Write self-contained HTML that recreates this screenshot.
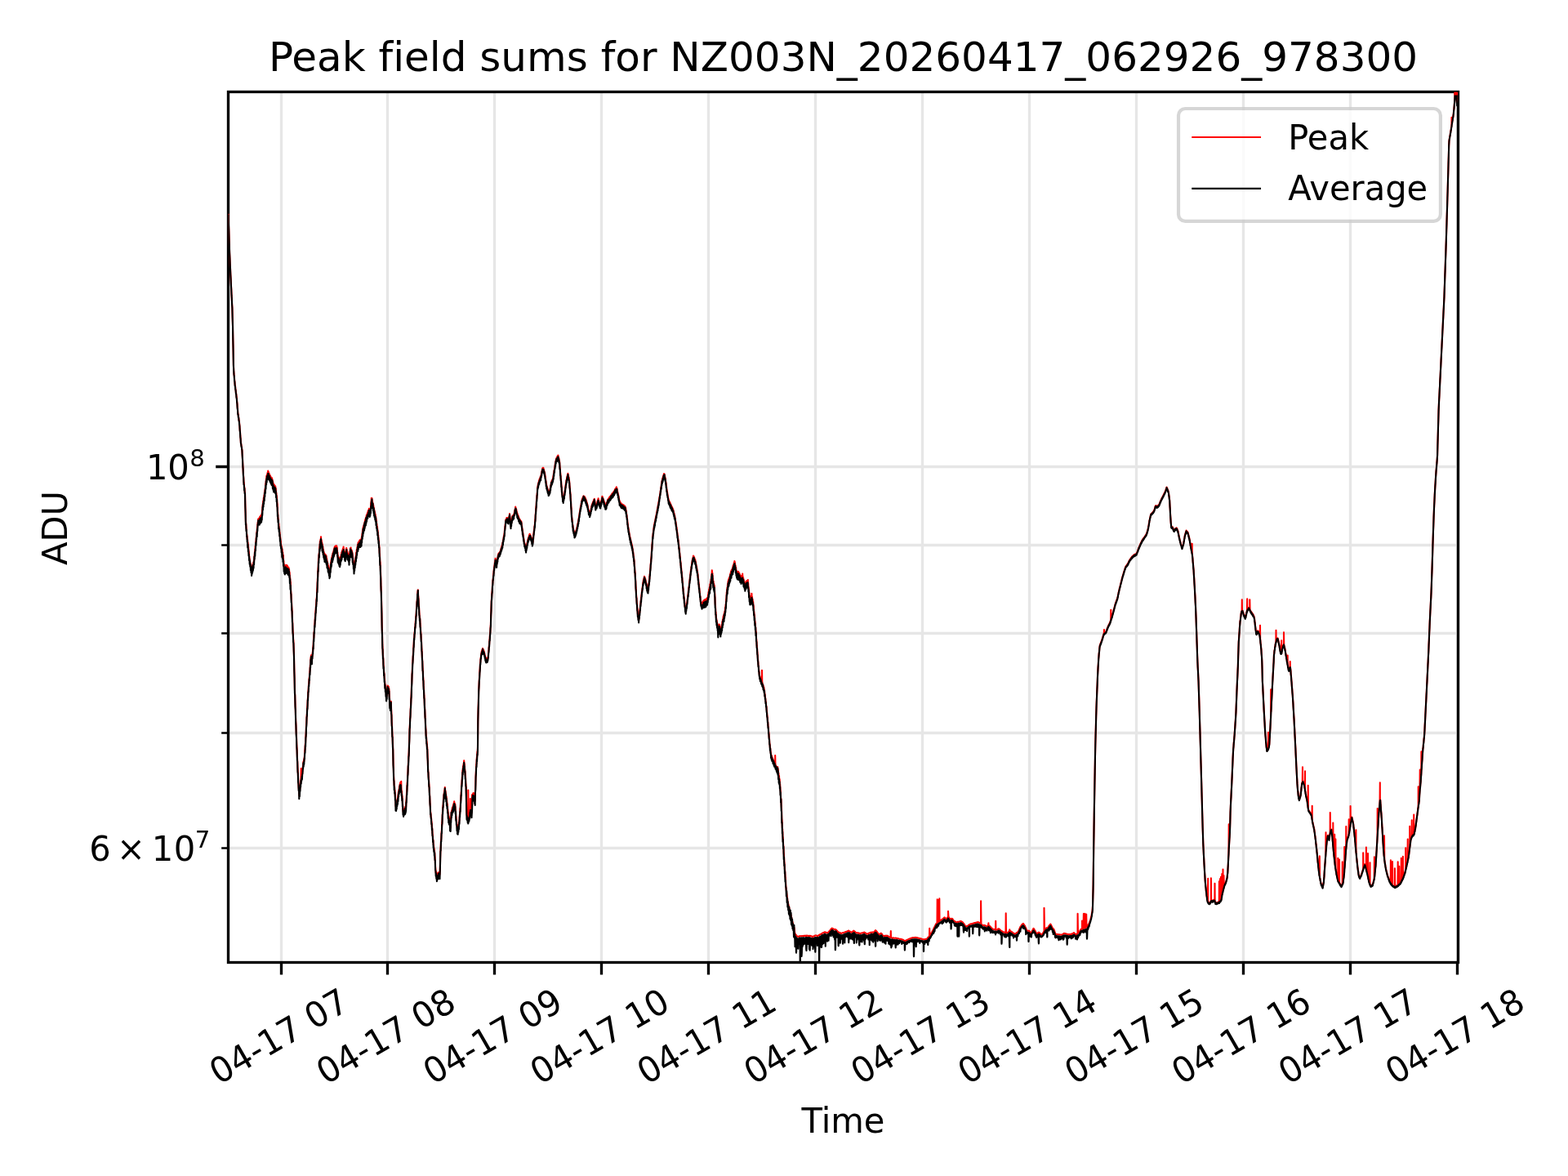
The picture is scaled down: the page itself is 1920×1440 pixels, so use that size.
<!DOCTYPE html>
<html lang="en"><head><meta charset="utf-8"><title>Peak field sums for NZ003N_20260417_062926_978300</title>
<style>html,body{margin:0;padding:0;background:#fff;overflow:hidden}svg{display:block}text{font-family:'DejaVu Sans', 'Liberation Sans', sans-serif;fill:#000;white-space:pre;font-variant-ligatures:none;font-feature-settings:"liga" 0,"clig" 0}</style>
</head><body>
<svg width="1920" height="1440" viewBox="0 0 1920 1440">
<rect width="1920" height="1440" fill="#ffffff"/>
<defs><clipPath id="ax"><rect x="279.5" y="112.5" width="1506" height="1066"/></clipPath></defs>
<path d="M344.5 112.5V1178.5M474.5 112.5V1178.5M605.5 112.5V1178.5M736.5 112.5V1178.5M867.5 112.5V1178.5M998.5 112.5V1178.5M1129.5 112.5V1178.5M1260.5 112.5V1178.5M1391.5 112.5V1178.5M1522.5 112.5V1178.5M1653.5 112.5V1178.5M1784.5 112.5V1178.5M279.5 571.5H1785.5M279.5 667.5H1785.5M279.5 775.5H1785.5M279.5 897.5H1785.5M279.5 1038.5H1785.5" fill="none" stroke="#e6e6e6" stroke-width="3.33" clip-path="url(#ax)"/>
<path d="M344.5 1178.5v15M474.5 1178.5v15M605.5 1178.5v15M736.5 1178.5v15M867.5 1178.5v15M998.5 1178.5v15M1129.5 1178.5v15M1260.5 1178.5v15M1391.5 1178.5v15M1522.5 1178.5v15M1653.5 1178.5v15M1784.5 1178.5v15M279.5 571.5h-15.3" fill="none" stroke="#000" stroke-width="3.33"/>
<path d="M279.5 667.5h-8.33M279.5 775.5h-8.33M279.5 897.5h-8.33M279.5 1038.5h-8.33" fill="none" stroke="#000" stroke-width="2.5"/>
<rect x="279.5" y="112.5" width="1506" height="1066" fill="none" stroke="#000" stroke-width="3.33" stroke-linejoin="miter"/>
<g clip-path="url(#ax)" fill="none" stroke-linejoin="round" stroke-linecap="square" stroke-width="2.08">
<path d="M279.6 262.76L279.9 272.61L280.2 280.8L280.5 290.47L280.8 298.54L281.1 308.33L281.4 315.64L281.7 322.7L282 328.09L282.3 335.33L282.6 340.83L282.9 347.96L283.2 353.3L283.5 360.03L283.8 365.02L284.1 371.53L284.4 376.55L284.7 388.28L285 398.31L285.3 414.28L285.6 428.74L285.9 446.28L286.2 453.16L286.5 457.61L286.8 460.07L287.1 464.61L287.4 467.29L287.7 470.88L288 472.45L288.3 475.68L288.6 477.19L288.9 480.48L289.2 481.97L289.5 485.28L289.8 486.82L290.1 490.58L290.4 493.71L290.7 498.38L291 501.44L291.3 505.86L291.6 506.98L291.9 509.86L292.2 510.95L292.5 513.86L292.8 515.03L293.1 517.86L293.4 520.83L293.7 525.7L294 528.95L294.3 533.7L294.6 536.77L294.9 541.7L295.2 543.29L295.5 545.53L295.8 546.11L296.1 548.53L296.4 550.93L296.7 556.61L297 561.85L297.3 568.61L297.6 573.77L297.9 580.61L298.2 583.92L298.5 589.99L298.8 591.22L299.1 595.99L299.4 597.06L299.7 601.99L300 603.25L300.3 616.99L300.6 626.82L300.9 639.12L301.2 640.27L301.5 646.32L301.8 648.18L302.1 653.52L302.4 654.73L302.7 660.12L303 659.87L303.3 665.04L303.6 664.51L303.9 670.44L304.2 670.12L304.5 675.84L304.8 675.34L305.1 681.24L305.4 681.56L305.7 686.64L306 685.7L306.3 690.35L306.6 689.45L306.9 693.58L307.2 692.72L307.5 696.81L307.8 695.42L308.1 699.15L308.4 694.9L308.7 697.04L309 693.5L309.3 694.92L309.6 691.08L309.9 692.8L310.2 689.08L310.5 690.68L310.8 686.9L311.1 686.84L311.4 681.16L311.7 680.84L312 675.28L312.3 674.84L312.6 668.86L312.9 668.84L313.2 663.64L313.5 662.84L313.8 657.36L314.1 656.84L314.4 651.28L314.7 650.84L315 645.26L315.3 644.84L315.6 639.52L315.9 639.42L316.2 635.43L316.5 638.38L316.8 634.78L317.1 637.58L317.4 634.55L317.7 636.78L318 633.08L318.3 635.98L318.6 632.31L318.9 635.06L319.2 631.64L319.5 634.14L319.8 630.88L320.1 633.22L320.4 629.88L320.7 630.6L321 624.27L321.3 624.6L321.6 618.09L321.9 619.38L322.2 613.78L322.5 615.38L322.8 609.83L323.1 611.38L323.4 606.5L323.7 607.38L324 602.37L324.3 603.14L324.6 598.15L324.9 598.06L325.2 592.37L325.5 592.98L325.8 587.53L326.1 587.91L326.4 582.64L326.7 584.71L327 581.08L327.3 582.71L327.6 578.81L327.9 580.71L328.2 576.51L328.5 579.71L328.8 577.87L329.1 581.31L329.4 579.45L329.7 582.91L330 580.69L330.3 584.51L330.6 582.07L330.9 586.02L331.2 582.98L331.5 586.82L331.8 584.24L332.1 587.62L332.4 585.44L332.7 588.42L333 585.3L333.3 589.22L333.6 587.33L333.9 591.53L334.2 589.97L334.5 593.93L334.8 592.06L335.1 596.07L335.4 593.99L335.7 596.87L336 593.73L336.3 597.67L336.6 595.15L336.9 598.47L337.2 595.4L337.5 599.27L337.8 598.18L338.1 604.07L338.4 603.49L338.7 608.87L339 607.97L339.3 615.08L339.6 617.41L339.9 626.22L340.2 628.21L340.5 635.81L340.8 635.09L341.1 641.46L341.4 641.19L341.7 647L342 647.18L342.3 652.54L342.6 652.15L342.9 657.72L343.2 657.86L343.5 662.72L343.8 662.28L344.1 667.72L344.4 667.28L344.7 672.13L345 669.64L345.3 674.64L345.6 672.23L345.9 677.87L346.2 676.35L346.5 681.1L346.8 679.8L347.1 686.88L347.4 686.87L347.7 693.63L348 692.81L348.3 696.75L348.6 692.55L348.9 696.25L349.2 692.91L349.5 695.75L349.8 692.11L350.1 695.4L350.4 691.73L350.7 695.8L351 692.98L351.3 696.2L351.6 692.27L351.9 696.6L352.2 693.3L352.5 697L352.8 694.47L353.1 698.2L353.4 694.8L353.7 699.4L354 696.45L354.3 701.67L354.6 700.87L354.9 707.67L355.2 707.26L355.5 713.67L355.8 712.7L356.1 722.73L356.4 725.41L356.7 732.93L357 736.21L357.3 743.13L357.6 746.76L357.9 756.25L358.2 761.53L358.5 770.82L358.8 774.92L359.1 782.09L359.4 784.61L359.7 792.96L360 803.62L360.3 818.68L360.6 828.95L360.9 843.53L361.2 850.62L361.5 861.53L361.8 868.7L362.1 879.53L362.4 886.02L362.7 896.53L363 901.66L363.3 911.53L363.6 916.57L363.9 926.53L364.2 931.89L364.5 940.34L364.8 944.41L365.1 953.2L365.4 957.26L365.7 964.31L366 967.45L366.3 974.31L366.6 970.7L366.9 970.01L367.2 965.15L367.5 964.87L367.8 960.24L368.1 959.72L368.15 958.97L368.4 955.21L368.7 941L368.7 954.74L369 951.66L369.25 952.35L369.3 952.49L369.6 949.29L369.9 950.24L370.2 945.55L370.5 944.24L370.8 938.47L371.1 937.49L371.4 932.85L371.7 933.82L372 930.53L372.3 932.1L372.6 928.25L372.9 925.93L373.2 919.09L373.5 917.53L373.8 911.39L374.1 909.13L374.4 901.62L374.7 897.53L375 889L375.3 885.53L375.6 876.93L375.9 873.73L376.2 866.18L376.5 863.53L376.8 856.21L377.1 853.33L377.4 846.04L377.7 844.03L378 838.01L378.3 836.53L378.6 830.18L378.9 829.03L379.2 823.02L379.5 821.53L379.8 814.87L380.1 813.28L380.4 806.82L380.7 805.03L381 802.29L381.3 807.87L381.6 808.94L381.9 809.2L382.2 803.55L382.5 803.2L382.8 798.18L383.1 797.2L383.4 791.7L383.7 789.37L384 782.44L384.3 780.37L384.6 774.04L384.9 771.53L385.2 764.8L385.5 762.96L385.8 756.43L386.1 754.71L386.4 748.95L386.7 746.87L387 741.11L387.3 739.02L387.6 732.72L387.9 731.17L388.2 722.2L388.5 718.77L388.8 709.3L389.1 706.27L389.4 697.4L389.7 693.77L390 683.89L390.3 683.92L390.6 677.59L390.9 676.72L391.2 670.14L391.5 669.52L391.8 663.33L392.1 665.35L392.4 660.76L392.7 662.35L393 657.17L393.3 662.35L393.6 661.14L393.9 665.35L394.2 664.12L394.5 668.35L394.8 666.29L395.1 671.35L395.4 669.55L395.7 674.35L396 673.3L396.3 677.35L396.6 676.1L396.9 680.35L397.2 677.41L397.5 681.24L397.8 678.58L398.1 681.7L398.4 679.12L398.7 682.16L399 679.56L399.3 683.14L399.6 680.83L399.9 685.94L400.2 684.15L400.5 688.74L400.8 687.61L401.1 691.54L401.4 689.94L401.7 694.35L402 692.68L402.3 697.35L402.6 695.96L402.9 700.35L403.2 698.41L403.5 703.35L403.8 700.07L404.1 700.29L404.4 694.49L404.7 694.89L405 689.43L405.3 689.49L405.6 685.6L405.9 687.01L406.2 682.55L406.5 684.7L406.8 680.1L407.1 682.39L407.4 677.57L407.7 680.08L408 676L408.3 677.78L408.6 673.76L408.9 675.47L409.2 671.28L409.5 673.16L409.8 669.64L410.1 672.27L410.4 668.87L410.7 671.91L411 668.41L411.3 671.56L411.6 668.76L411.9 671.21L412.2 668.3L412.5 670.85L412.8 670.37L413.1 676.85L413.4 676.57L413.7 682.61L414 680.72L414.3 684.21L414.6 682.16L414.9 685.81L415.2 683.69L415.5 687.41L415.8 685.53L416.1 689.01L416.4 685.53L416.7 686.73L417 681.87L417.3 683.96L417.6 679.34L417.9 681.19L418.2 676.61L418.5 678.74L418.8 674.83L419.1 677.14L419.4 673.18L419.7 675.54L420 671.6L420.3 673.94L420.6 669.51L420.9 672.99L421.2 672.11L421.5 677.19L421.8 675.92L422.1 681.39L422.4 680.72L422.7 682.99L423 677.99L423.3 679.39L423.6 674.91L423.9 675.79L424.2 671.04L424.5 675.35L424.8 672.93L425.1 677.45L425.4 675.43L425.7 679.55L426 677.52L426.3 681.65L426.6 679.64L426.9 683.75L427.2 681.85L427.5 685.85L427.8 679.76L428.1 681.05L428.4 675.11L428.7 676.25L429 671.06L429.3 672.93L429.6 670.57L429.9 674.78L430.2 673.04L430.5 676.62L430.8 674.07L431.1 678.47L431.4 676.19L431.7 682.07L432 680.77L432.3 686.78L432.6 686.36L432.9 691.5L433.2 690.25L433.5 696.21L433.8 693.8L434.1 694.52L434.4 689.62L434.7 690.37L435 685.73L435.3 686.21L435.6 681.36L435.9 682.11L436.2 676.67L436.5 678.42L436.8 672.95L437.1 674.73L437.4 670.17L437.7 671.03L438 666.68L438.3 668.54L438.6 664.38L438.9 667.26L439.2 663.78L439.5 665.97L439.8 662.47L440.1 664.89L440.4 661.46L440.7 664.1L441 660.93L441.3 663.64L441.6 660.51L441.9 663.18L442.2 660.4L442.5 662.72L442.8 658.12L443.1 658.52L443.4 653.82L443.7 654.32L444 649.49L444.3 650.52L444.6 645.91L444.9 648.12L445.2 643.97L445.5 645.72L445.8 641.94L446.1 643.32L446.4 639.52L446.7 640.94L447 636.75L447.3 638.94L447.6 635.11L447.9 636.94L448.2 633.3L448.5 634.94L448.8 630.84L449.1 632.94L449.4 629.51L449.7 631.3L450 627.73L450.3 629.7L450.6 625.83L450.9 628.1L451.2 624.69L451.5 626.5L451.8 622.82L452.1 626.49L452.4 623.55L452.7 627.09L453 624.05L453.3 627.69L453.6 622.47L453.9 622.05L454.2 615.76L454.5 616.05L454.8 609.76L455.1 611.52L455.4 610.11L455.7 614.32L456 613.22L456.3 617.12L456.6 615.95L456.9 619.92L457.2 618.62L457.5 622.72L457.8 621.28L458.1 625.52L458.4 624.6L458.7 628.32L459 627.16L459.3 631.12L459.6 629.46L459.9 633.92L460.2 632.81L460.5 637.72L460.8 636.87L461.1 641.72L461.4 641.27L461.7 645.72L462 645.22L462.3 649.72L462.6 649.59L462.9 655.05L463.2 655.43L463.5 661.05L463.8 661.2L464.1 667.05L464.4 669.2L464.7 676.79L465 678.93L465.3 686.99L465.6 688.67L465.9 698.14L466.2 704.32L466.5 716.89L466.8 723.29L467.1 735.64L467.4 749.39L467.7 765.72L468 775.1L468.3 789.92L468.6 793.82L468.9 801.88L469.2 805.16L469.5 813.13L469.8 815.83L470.1 822.05L470.4 823.77L470.7 829.85L471 831.28L471.3 837.65L471.6 837.51L471.9 842.8L472.2 843.34L472.5 847.8L472.8 847.76L473.1 852.8L473.4 851.35L473.7 851.08L474 846.16L474.3 845.08L474.6 839.46L474.9 841.88L475.2 840.06L475.5 843.08L475.8 840.88L476.1 844.28L476.4 843.45L476.7 851.56L477 854.74L477.3 862.7L477.6 863.44L477.9 864.91L478.2 861.77L478.5 862.66L478.8 858.91L479.1 868.27L479.4 873.34L479.7 883.7L480 889L480.3 897.84L480.6 902.14L480.9 910.7L481.2 915.18L481.5 931.41L481.8 939.94L482.1 949.75L482.4 954.91L482.7 961.75L483 962.08L483.3 967.43L483.6 968.02L483.9 974.93L484.2 977.9L484.5 986.93L484.8 985.75L485.1 987.9L485.4 984.49L485.7 987.1L486 983.19L486.3 983.5L486.6 978.94L486.9 979.1L487.2 974.59L487.5 975.26L487.8 970.15L488.1 971.66L488.4 967.13L488.7 968.06L489 963.37L489.3 965.01L489.6 960.22L489.9 962.01L490.2 958.12L490.5 960.09L490.7 959.45L490.8 959.13L491.1 964.89L491.25 956.7L491.4 964.04L491.7 969.69L491.8 969.48L492 969.07L492.3 974.49L492.6 974.88L492.9 982.76L493.2 985.14L493.5 992.76L493.8 993.94L494.1 996.05L494.4 992.23L494.7 994.55L495 991.03L495.3 993.05L495.6 989.97L495.9 991.55L496.2 988.1L496.5 990.05L496.8 987.06L497.1 988.32L497.4 980.87L497.7 978.32L498 970.45L498.3 968.32L498.6 959.24L498.9 956.43L499.2 948.6L499.5 944.83L499.8 936.63L500.1 933.15L500.4 925.35L500.7 921.15L501 911.45L501.3 903.55L501.6 892.33L501.9 887.15L502.2 879.32L502.5 875.15L502.8 867.1L503.1 863.15L503.4 854.66L503.7 849.31L504 840.05L504.3 834.31L504.6 824.76L504.9 819.31L505.2 811.39L505.5 808.48L505.8 801.61L506.1 798.48L506.4 791.3L506.7 788.48L507 781.85L507.3 780.02L507.6 774.74L507.9 773.1L508.2 768.02L508.5 766.17L508.8 760.59L509.1 759.25L509.4 753.55L509.7 751.01L510 744.83L510.3 742.31L510.6 735.73L510.9 733.31L511.2 726.73L511.5 724.31L511.8 722.22L512.1 729.04L512.4 731.8L512.7 739.04L513 742.47L513.3 749.04L513.6 752.29L513.9 756.7L514.2 756.92L514.5 763.48L514.8 766.13L515.1 772.48L515.4 775.16L515.7 781.48L516 785.18L516.3 792.81L516.6 797.08L516.9 804.81L517.2 808.76L517.5 816.81L517.8 820.68L518.1 828.35L518.4 831.93L518.7 839.89L519 843.98L519.3 851.43L519.6 855.36L519.9 863.34L520.2 867.48L520.5 875.84L520.8 880.45L521.1 888.34L521.4 892.75L521.7 900.51L522 901.93L522.3 907.11L522.6 908.43L522.9 913.71L523.2 914.76L523.5 923.48L523.8 930.8L524.1 941.48L524.4 944.93L524.7 951.48L525 953.76L525.3 960.48L525.6 962.8L525.9 969.81L526.2 974.26L526.5 981.81L526.8 986.1L527.1 993.65L527.4 995.11L527.7 999.65L528 1000.8L528.3 1005.65L528.6 1006.52L528.9 1012.15L529.2 1013.91L529.5 1020.15L529.8 1021.96L530.1 1027.51L530.4 1028.11L530.7 1034.11L531 1034.4L531.3 1039.08L531.6 1039.04L531.9 1043.58L532.2 1043.24L532.5 1048.08L532.8 1052.38L533.1 1061.28L533.4 1064.36L533.7 1068.45L534 1067.32L534.3 1071.78L534.6 1071.35L534.9 1074.59L535.2 1071.31L535.5 1073.18L535.8 1070.22L536.1 1071.77L536.4 1068.55L536.7 1071.26L537 1068.34L537.3 1071.06L537.6 1068.57L537.9 1070.86L538.2 1068.76L538.5 1070.66L538.8 1065.4L539.1 1051.68L539.4 1040.98L539.7 1037.41L540 1029.25L540.3 1026.61L540.6 1019.21L540.9 1016.75L541.2 1008.33L541.5 1004.75L541.8 996.23L542.1 992.86L542.4 986.76L542.7 984.86L543 978.42L543.3 976.86L543.6 971.91L543.9 972.41L544.2 967.95L544.5 968.18L544.8 964.11L545.1 968.43L545.4 967.9L545.7 972.43L546 971.52L546.3 976.47L546.6 975.58L546.9 980.97L547.2 980L547.5 985.47L547.8 984.92L548.1 990.43L548.4 990.93L548.7 996.43L549 996.19L549.3 1001.54L549.6 999.3L549.9 1003.54L550.2 1001.43L550.5 1006.22L550.8 1007.25L551.1 1013.14L551.4 1013.65L551.7 1013.59L552 1004.15L552.3 1001.09L552.6 994.28L552.9 995.53L553.2 992.02L553.5 993.43L553.8 989.1L554.1 991.33L554.4 987.92L554.7 989.39L555 985.64L555.3 987.47L555.6 983.69L555.9 985.55L556.2 981.34L556.5 985.26L556.8 983.43L557.1 987.26L557.4 985.04L557.7 991.26L558 992.73L558.3 999.26L558.6 1001.01L558.9 1006.54L559.2 1006.59L559.5 1011.64L559.8 1010.97L560.1 1016.74L560.4 1016.72L560.7 1017.73L561 1012.64L561.3 1014.13L561.6 1009.46L561.9 1010.53L562.2 1004.8L562.5 1004.22L562.8 997.71L563.1 996.72L563.4 989.81L563.7 989.22L564 981.93L564.3 978.97L564.6 970.84L564.9 968.47L565.2 960.53L565.5 958.32L565.8 951.89L566.1 950.32L566.4 943.32L566.7 942.58L567 938.25L567.3 939.28L567.6 935.17L567.9 935.98L568.2 931.2L568.5 935.37L568.8 935.6L569.1 941.77L569.4 942.69L569.7 948.87L570 950.91L570.3 958.87L570.6 961.22L570.9 972.43L571.2 990.6L571.5 998.05L571.8 996.16L572.1 1000.75L572.4 999.08L572.7 1003.45L572.75 1003.12L573 1001.47L573.3 1003.66L573.3 967.5L573.6 1000.1L573.85 1002.07L573.9 1002.46L574.2 998.69L574.5 1001.26L574.8 997.05L575.1 997.65L575.25 995.44L575.4 993.24L575.7 993.65L575.8 978L576 990.05L576.3 993.51L576.35 993.12L576.6 991.16L576.9 994.47L577.2 992.12L577.35 993.77L577.5 995.43L577.8 992.79L577.9 973.3L578.1 987.29L578.4 973.66L578.45 973.94L578.7 975.36L579 972.05L579.3 974.16L579.6 970.97L579.9 972.96L580.2 971.31L580.5 975.51L580.8 974.04L581.1 978.81L581.4 978.02L581.7 980.79L582 967.97L582.3 961.26L582.6 948.98L582.9 943.26L583.2 935.81L583.5 934.98L583.8 927.87L584.1 926.98L584.4 920.55L584.7 920.76L585 914.55L585.3 880.68L585.6 867.33L585.9 858.18L586.2 844.85L586.5 839.1L586.8 832.32L587.1 828.9L587.4 821.8L587.7 818.7L588 811.91L588.3 810.6L588.6 805.92L588.9 804.6L589.2 800.19L589.5 800.6L589.8 797.33L590.1 798.2L590.4 795.5L590.7 795.8L591 793.94L591.3 796.2L591.6 794.92L591.9 797.4L592.2 796.11L592.5 798.6L592.8 798.01L593.1 801L593.4 800.28L593.7 803.4L594 802.77L594.3 805.8L594.6 804.96L594.9 808.2L595.2 806.58L595.5 808.27L595.8 806.38L596.1 807.87L596.4 806.2L596.7 807.47L597 805.72L597.3 807.07L597.6 803.95L597.9 802.53L598.2 797.48L598.5 795.93L598.8 790.93L599.1 789.33L599.4 783.98L599.7 781.67L600 775.76L600.3 773.83L600.6 767.77L600.9 764.63L601.2 752.94L601.5 744.23L601.8 734.61L602.1 732.06L602.4 725.69L602.7 723.06L603 716.71L603.3 714.06L603.6 708.99L603.9 707.89L604.2 702.97L604.5 701.89L604.8 696.97L605.1 696.19L605.4 692.58L605.7 691.99L606 687.94L606.3 687.79L606.6 683.89L606.9 686.39L607.2 685.87L607.5 689.39L607.8 688.92L608.1 691.31L608.4 687.57L608.7 687.81L609 684.55L609.3 684.31L609.6 680.94L609.9 680.81L610.2 678.4L610.5 679.56L610.8 677.32L611.1 678.76L611.4 676.84L611.7 677.96L612 676.12L612.3 677.16L612.6 674.76L612.9 675.56L613.2 672.84L613.5 673.56L613.8 670.87L614.1 671.56L614.4 668.54L614.7 669.56L615 666.79L615.3 666.96L615.6 663.88L615.9 663.76L616.2 660.62L616.5 660.56L616.8 656.85L617.1 657.36L617.4 653.97L617.7 653.23L618 648.4L618.3 647.23L618.6 642.69L618.9 641.23L619.2 636.66L619.5 637.89L619.8 635.74L620.1 636.69L620.4 633.95L620.7 635.49L621 633.97L621.3 636.16L621.6 634.76L621.9 637.36L622.2 636.47L622.5 638.56L622.8 635.28L623.1 635.56L623.4 632.11L623.7 632.56L624 629.09L624.3 631.94L624.6 634.13L624.9 639.66L625.2 641.8L625.5 644.33L625.8 640.63L626.1 641.1L626.4 637.6L626.7 637.87L627 634.6L627.3 634.64L627.6 631.43L627.9 633.16L628.2 631.05L628.5 632.56L628.8 630.81L629.1 631.96L629.4 629.18L629.7 629.43L630 626.28L630.3 626.66L630.6 623.79L630.9 623.89L631.2 620.59L631.5 622.59L631.8 622.22L632.1 625.09L632.4 624.3L632.7 627.59L633 627.05L633.3 630.09L633.6 628.89L633.9 631.74L634.2 630.57L634.5 633.34L634.8 632.1L635.1 634.94L635.4 633.85L635.7 636.54L636 635.58L636.3 637.52L636.6 636.13L636.9 638.32L637.2 637.26L637.5 639.12L637.8 637.87L638.1 639.92L638.4 638.76L638.7 642.79L639 643.29L639.3 646.99L639.6 647.39L639.9 651.19L640.2 651.33L640.5 655.23L640.8 655.45L641.1 659.23L641.4 659.23L641.7 663.23L642 663.57L642.3 666.38L642.6 665.56L642.9 668.69L643.2 667.76L643.5 671L643.8 670.08L644.1 673.3L644.4 670.83L644.7 670.69L645 667.33L645.3 667.46L645.6 664.1L645.9 664.23L646.2 661.03L646.5 661.42L646.8 659.04L647.1 659.7L647.4 657.32L647.7 657.99L648 655.08L648.3 656.27L648.6 653.72L648.9 655.77L649.2 654.65L649.5 657.15L649.8 655.99L650.1 658.53L650.4 657.62L650.7 659.92L651 659.18L651.3 662.56L651.6 662.39L651.9 665.56L652.2 664.74L652.5 663.56L652.8 658.44L653.1 657.56L653.4 653.24L653.7 652.29L654 648.45L654.3 647.49L654.6 643.3L654.9 642.69L655.2 637.14L655.5 634.89L655.8 629.04L656.1 626.49L656.4 620.62L656.7 618.13L657 612.12L657.3 610.33L657.6 604.7L657.9 602.53L658.2 596.51L658.5 596.23L658.8 593.05L659.1 593.83L659.4 590.87L659.7 591.43L660 588.39L660.3 589.43L660.6 586.49L660.9 587.83L661.2 585.44L661.5 586.23L661.8 583.33L662.1 584.63L662.4 582.36L662.7 582.56L663 578.93L663.3 579.56L663.6 576.35L663.9 576.56L664.2 573.24L664.5 574.99L664.8 572.83L665.1 574.56L665.4 572.9L665.7 575.68L666 574.89L666.3 577.78L666.6 577.33L666.9 579.88L667.2 579.62L667.5 583.69L667.8 583.74L668.1 587.84L668.4 587.97L668.7 592L669 592.06L669.3 595.72L669.6 595.18L669.9 597.92L670.2 596.92L670.5 600.12L670.8 599.36L671.1 602.32L671.4 601.41L671.7 604.34L672 602.21L672.3 603.44L672.6 601.42L672.9 602.54L673.2 600.25L673.5 600.89L673.8 597.59L674.1 597.29L674.4 593.77L674.7 593.69L675 590.34L675.3 591.27L675.6 588.84L675.9 590.02L676.2 587.47L676.5 588.77L676.8 586.38L677.1 587.08L677.4 583.14L677.7 583.18L678 579.22L678.3 579.28L678.6 575.5L678.9 575.46L679.2 572.15L679.5 571.77L679.8 567.8L680.1 568.07L680.4 564.65L680.7 564.38L681 561.74L681.3 562.78L681.6 560.46L681.9 561.78L682.2 559.25L682.5 560.78L682.8 558.24L683.1 559.78L683.4 557.47L683.7 560.68L684 559.9L684.3 562.78L684.6 562.08L684.9 564.88L685.2 565.57L685.5 571.23L685.8 572.73L686.1 578.43L686.4 580.38L686.7 585.63L687 587.19L687.3 592.83L687.6 594.94L687.9 600.03L688.2 601.56L688.5 606.42L688.8 606.54L689.1 610.7L689.4 610.69L689.7 612.65L690 609.14L690.3 609.92L690.6 606.71L690.9 607.2L691.2 604.38L691.5 603.98L691.8 600.25L692.1 599.48L692.4 595.17L692.7 594.98L693 590.68L693.3 590.48L693.6 587.46L693.9 587.63L694.2 584.13L694.5 584.88L694.8 581.84L695.1 582.13L695.4 579.81L695.7 582.71L696 582.01L696.3 585.41L696.6 584.66L696.9 588.11L697.2 589.46L697.5 594.56L697.8 596.67L698.1 601.76L698.4 603.39L698.7 609.14L699 612.78L699.3 619.64L699.6 622.94L699.9 630.14L700.2 631.95L700.5 636.39L700.8 637.11L701.1 641.79L701.4 642.69L701.7 647.05L702 646.3L702.3 649.8L702.6 649.63L702.9 652.55L703.2 652.15L703.5 655.3L703.8 654.02L704.1 654.89L704.4 652.27L704.7 653.28L705 651.03L705.3 651.66L705.6 649.04L705.9 649.92L706.2 646.58L706.5 647.12L706.8 644.27L707.1 644.32L707.4 640.92L707.7 641.52L708 638.17L708.3 638.72L708.6 634.86L708.9 634.78L709.2 631.03L709.5 630.78L709.8 627.1L710.1 626.78L710.4 623.13L710.7 623.25L711 619.94L711.3 620.02L711.6 616.55L711.9 616.79L712.2 613.19L712.5 613.56L712.8 611.03L713.1 612.18L713.4 609.72L713.7 610.79L714 608.31L714.3 609.41L714.6 607.22L714.9 608.89L715.2 607.64L715.5 609.75L715.8 608.11L716.1 610.61L716.4 609.16L716.7 611.46L717 610.26L717.3 612.82L717.6 611.97L717.9 614.66L718.2 613.53L718.5 616.51L718.8 615.74L719.1 618.35L719.4 617.88L719.7 621.23L720 620.78L720.3 624.23L720.6 624.21L720.9 627.03L721.2 625.74L721.5 628.23L721.8 627.36L722.1 629.43L722.4 628.58L722.7 629.3L723 625.83L723.3 626.53L723.6 623.13L723.9 623.77L724.2 620.38L724.5 621L724.8 617.87L725.1 619.14L725.4 616.39L725.7 617.64L726 614.95L726.3 616.14L726.6 613.46L726.9 614.64L727.2 611.81L727.5 613.14L727.8 610.88L728.1 612.75L728.4 613.45L728.7 617.89L729 618.51L729.3 621.63L729.6 618.89L729.9 620.43L730.2 617.74L730.5 619.23L730.8 617.01L731.1 617.49L731.4 614.17L731.7 615.09L732 612.12L732.3 612.69L732.6 610.27L732.9 613.23L733.2 612.61L733.5 615.23L733.8 614.58L734.1 617.23L734.4 616.75L734.7 619.23L735 618.24L735.3 618.93L735.6 615.91L735.9 616.33L736.2 613.2L736.5 613.73L736.8 610.74L737.1 611.13L737.4 607.7L737.7 609.93L738 608.99L738.3 611.55L738.6 610.73L738.9 613.16L739.2 612.47L739.5 614.78L739.8 613.96L740.1 616.67L740.4 615.6L740.7 618.67L741 617.55L741.3 620.67L741.6 620L741.9 621.12L742.2 618.14L742.5 619.12L742.8 616.02L743.1 617.12L743.4 614.52L743.7 615.12L744 612.05L744.3 613.38L744.6 611.23L744.9 612.58L745.2 610.64L745.5 611.78L745.8 609.35L746.1 610.98L746.4 608.62L746.7 610.18L747 607.84L747.3 609.38L747.6 607.36L747.9 608.58L748.2 606.49L748.5 607.78L748.8 605.45L749.1 606.98L749.4 604.55L749.7 606.18L750 603.68L750.3 605.38L750.6 603.38L750.9 604.58L751.2 602.21L751.5 603.78L751.8 601.86L752.1 602.8L752.4 600.61L752.7 601.75L753 599.17L753.3 600.7L753.6 598.65L753.9 599.65L754.2 597.63L754.5 598.6L754.8 596.38L755.1 598.18L755.4 597.86L755.7 600.88L756 600.55L756.3 603.58L756.6 603.43L756.9 606.39L757.2 606.15L757.5 609.39L757.8 609.06L758.1 612.39L758.4 612.24L758.7 615.28L759 613.88L759.3 616.2L759.6 615.12L759.9 617.12L760.2 615.81L760.5 618.05L760.8 616.78L761.1 618.74L761.4 617.34L761.7 619.14L762 617.74L762.3 619.54L762.6 617.89L762.9 619.94L763.2 618.67L763.5 620.34L763.8 618.54L764.1 620.74L764.4 619.39L764.7 621.14L765 619.53L765.3 621.54L765.6 620.29L765.9 622.29L766.2 622.23L766.5 625.89L766.8 625.64L767.1 629.49L767.4 629.77L767.7 633.69L768 634.69L768.3 639.09L768.6 640.21L768.9 644.49L769.2 644.99L769.5 648.67L769.8 648.11L770.1 651.87L770.4 651.83L770.7 655.07L771 654.95L771.3 658.27L771.6 657.92L771.9 661.16L772.2 660.77L772.5 663.56L772.8 663.31L773.1 665.96L773.4 665.6L773.7 668.36L774 667.41L774.3 671.15L774.6 671.64L774.9 675.3L775.2 675.34L775.5 679.46L775.8 679.72L776.1 683.61L776.4 684.02L776.7 690.12L777 692.55L777.3 698.12L777.6 700.26L777.9 706.48L778.2 710.16L778.5 717.73L778.8 721.44L779.1 728.98L779.4 731.56L779.7 737.16L780 739.21L780.3 744.96L780.6 746.72L780.9 752.31L781.2 752.1L781.5 756.06L781.8 755.82L782.1 759.81L782.4 756.5L782.7 755.49L783 750.96L783.3 750.15L783.6 745.38L783.9 744.74L784.2 740.08L784.5 739.2L784.8 734.33L785.1 733.66L785.4 728.88L785.7 728.12L786 724.08L786.3 723.16L786.6 719.18L786.9 718.36L787.2 714.08L787.5 713.56L787.8 710.53L788.1 711.16L788.4 708.23L788.7 708.76L789 705.74L789.3 707.41L789.6 706.88L789.9 709.71L790.2 708.89L790.5 712.02L790.8 711.43L791.1 714.33L791.4 714.11L791.7 717.06L792 716.94L792.3 720.06L792.6 719.77L792.9 723.06L793.2 722.98L793.5 723.84L793.8 719.28L794.1 718.84L794.4 714.68L794.7 713.84L795 709.65L795.3 708.84L795.6 703.49L795.9 702.02L796.2 696.81L796.5 695.1L796.8 690.02L797.1 688.18L797.4 682.72L797.7 680.56L798 674.22L798.3 671.56L798.6 665.11L798.9 662.56L799.2 656.28L799.5 655.89L799.8 652.04L800.1 651.09L800.4 646.89L800.7 646.29L801 642.44L801.3 643.05L801.6 639.83L801.9 640.25L802.2 637.11L802.5 637.45L802.8 634.14L803.1 634.65L803.4 631.09L803.7 631.6L804 628.12L804.3 628.4L804.6 624.75L804.9 625.2L805.2 621.67L805.5 622L805.8 618.49L806.1 618.63L806.4 615.21L806.7 615.03L807 611.6L807.3 611.43L807.6 607.92L807.9 607.83L808.2 604.31L808.5 604.12L808.8 600.55L809.1 600.12L809.4 596.08L809.7 596.12L810 592.05L810.3 592.12L810.6 588.61L810.9 588.36L811.2 585.84L811.5 586.56L811.8 583.77L812.1 584.76L812.4 581.82L812.7 582.96L813 580.02L813.3 581.16L813.6 580.39L813.9 583.61L814.2 583L814.5 586.31L814.8 585.72L815.1 589.36L815.4 589.98L815.7 594.16L816 594.72L816.3 598.96L816.6 599.67L816.9 603.25L817.2 603.15L817.5 606.75L817.8 606.88L818.1 610.25L818.4 610.22L818.7 613.63L819 612.2L819.3 614.97L819.6 614.1L819.9 616.3L820.2 614.89L820.5 617.63L820.8 616.21L821.1 618.97L821.4 617.62L821.7 620.29L822 619.17L822.3 621.49L822.6 620.18L822.9 622.69L823.2 621.17L823.5 623.89L823.8 622.83L824.1 625.09L824.4 624.12L824.7 627.36L825 626.8L825.3 629.76L825.6 628.84L825.9 632.16L826.2 631.46L826.5 634.56L826.8 634.58L827.1 638.12L827.4 638.31L827.7 642.12L828 642.19L828.3 646.12L828.6 646.15L828.9 650.35L829.2 651.1L829.5 654.97L829.8 655.5L830.1 659.59L830.4 659.79L830.7 664.2L831 664.95L831.3 669.53L831.6 670.6L831.9 675.07L832.2 676.31L832.5 680.61L832.8 681.42L833.1 686.23L833.4 687.66L833.7 692.23L834 693.21L834.3 698.23L834.6 699.29L834.9 704.23L835.2 705.55L835.5 710.64L835.8 712.06L836.1 717.14L836.4 718.74L836.7 723.64L837 724.79L837.3 729.69L837.6 730.69L837.9 735.29L838.2 736.58L838.5 740.89L838.8 742.23L839.1 746.49L839.4 747.18L839.7 748.95L840 745.02L840.3 745.14L840.6 741.6L840.9 741.32L841.2 737.94L841.5 737.17L841.8 732.74L842.1 732.17L842.4 727.83L842.7 727.17L843 722.91L843.3 722.17L843.6 718.06L843.9 716.98L844.2 712.45L844.5 711.78L844.8 707.03L845.1 706.58L845.4 702.48L845.7 701.38L846 697.44L846.3 696.96L846.6 693.33L846.9 692.76L847.2 689.11L847.5 688.56L847.8 685.72L848.1 686.16L848.4 683.1L848.7 683.76L849 680.58L849.3 682.25L849.6 681.13L849.9 683.85L850.2 682.51L850.5 685.45L850.8 684.45L851.1 687.05L851.4 685.76L851.7 688.74L852 688.37L852.3 691.94L852.6 691.79L852.9 695.14L853.2 694.85L853.5 698.34L853.8 698.46L854.1 701.54L854.4 701.96L854.7 706.82L855 707.74L855.3 712.35L855.6 713.67L855.9 717.89L856.2 718.93L856.5 723.39L856.8 724.25L857.1 728.79L857.4 729.65L857.7 734.19L858 735.44L858.3 738.39L858.6 737.91L858.9 741.39L859.2 741.27L859.5 742.94L859.8 740.08L860.1 739.95L860.4 737.13L860.7 739.5L861 736L861.3 739.05L861.6 736.29L861.9 738.6L862.2 734.68L862.5 738.15L862.8 734.27L863.1 737.7L863.4 734.99L863.7 737.31L864 734.01L864.3 736.97L864.6 733.92L864.9 736.62L865.2 732.81L865.5 736.28L865.8 732.77L866.1 735.94L866.4 731.85L866.7 733.33L867 727.95L867.3 729.97L867.6 725.04L867.9 726.61L868.2 721.59L868.5 723.39L868.8 719.19L869.1 720.51L869.4 715.35L869.7 717.63L870 713.48L870.3 714.75L870.6 709.27L870.9 709.89L871.2 703.71L871.35 704.13L871.5 704.56L871.8 698.33L871.9 699.2L872.1 702.58L872.4 701.76L872.45 702.84L872.7 708.23L873 708.35L873.3 713.87L873.6 711.83L873.9 716.74L874.2 714.85L874.5 719.44L874.8 717.09L875.1 724.19L875.4 728.39L875.7 739.19L876 742.03L876.3 748.74L876.6 749.75L876.9 756.74L877.2 757.08L877.5 761.27L877.8 759.91L878.1 764.27L878.4 763.27L878.7 767.27L879 768.32L879.3 774.42L879.6 769.96L879.9 771.72L880.2 766.99L880.5 769.02L880.8 764.44L881.1 768.72L881.4 767.07L881.7 771.42L882 769.15L882.3 774.12L882.6 770.75L882.9 772.82L883.2 768.57L883.5 769.52L883.8 764.94L884.1 766.22L884.4 761.09L884.7 763.19L885 758.42L885.3 760.19L885.6 755.07L885.9 757.25L886.2 753.3L886.5 754.85L886.8 750.96L887.1 752.45L887.4 748.49L887.7 749.52L888 744.04L888.3 745.52L888.6 739.98L888.9 740.52L889.2 734.02L889.5 732.52L889.8 725.27L890.1 725.15L890.4 719.86L890.7 720.95L891 715.64L891.3 716.75L891.6 711.45L891.9 713.49L892.2 709.2L892.5 711.69L892.8 707.88L893.1 709.89L893.4 706.39L893.7 707.72L894 703.36L894.3 705.32L894.6 701.6L894.9 702.92L895.2 699.2L895.5 701.52L895.8 697.96L896.1 700.32L896.4 697.07L896.7 699.09L897 695.28L897.3 697.29L897.6 692.68L897.9 695.49L898.2 691.27L898.5 693.52L898.8 689.07L899.05 690.78L899.1 691.12L899.4 687.07L899.6 687.5L899.7 689.89L900 688.97L900.15 691.23L900.3 693.49L900.6 692.44L900.9 697.02L901.2 695.14L901.5 700.02L901.8 698.85L902.1 703.02L902.4 701.53L902.7 704.72L903 701.69L903.3 703.82L903.6 699.95L903.9 702.92L904.2 699.75L904.5 703.19L904.8 701.17L905.1 704.39L905.4 702.11L905.7 705.59L906 703.65L906.3 707.25L906.6 704.69L906.9 709.05L907.2 706.63L907.5 710.85L907.8 707.2L908.1 709.35L908.4 704.99L908.65 707.38L908.7 707.85L909 704.48L909.2 702.5L909.3 707.22L909.6 705.93L909.75 707.77L909.9 709.62L910.2 707.85L910.5 712.02L910.8 710.14L911.1 714.29L911.4 712.22L911.7 716.39L912 714.33L912.3 718.49L912.6 715.29L912.9 717.99L913.2 714.5L913.5 716.19L913.8 711.6L914.1 714.39L914.4 711.42L914.7 714.19L915 710.95L915.25 713.65L915.3 714.19L915.6 710.78L915.8 710L915.9 714.81L916.2 714.21L916.35 717.31L916.5 720.41L916.8 720.04L917.1 725.99L917.4 725.46L917.7 730.79L918 730.08L918.3 735.59L918.6 732.71L918.9 734.95L919.2 731.43L919.5 733.99L919.8 730.11L919.85 730.59L920.1 733.03L920.4 728.98L920.4 726.7L920.7 733.51L920.95 731.33L921 730.89L921.3 735.61L921.6 733.86L921.9 737.71L922.2 736.7L922.5 742.52L922.8 741.87L923.1 748.52L923.4 749.01L923.7 754.52L924 753.98L924.3 760.52L924.6 761.02L924.9 766.52L925.2 768.07L925.5 773.12L925.8 773.6L926.1 782.2L926.4 784.31L926.7 790.2L927 792.83L927.3 798.2L927.6 800.78L927.9 806.2L928.2 808.16L928.5 813.64L928.8 815.18L929.1 819.64L929.4 821.26L929.7 825.64L930 826.69L930.3 829.39L930.6 828.23L930.9 830.89L931.2 829.91L931.5 832.39L931.8 831.75L932.1 833.89L932.4 833.25L932.45 833.61L932.7 835.39L933 834.56L933 820.8L933.3 836.89L933.55 836.18L933.6 836.04L933.9 838.86L934.2 838.45L934.5 840.86L934.8 840.22L935.1 842.86L935.4 841.84L935.7 844.86L936 845.28L936.3 849.04L936.6 849.95L936.9 853.84L937.2 854.6L937.5 858.64L937.8 859.1L938.1 863.44L938.4 864.64L938.7 869.22L939 870.6L939.3 875.62L939.6 877.25L939.9 882.02L940.2 883.7L940.5 888.42L940.8 889.64L941.1 895.17L941.4 896.91L941.7 902.37L942 904.41L942.3 909.57L942.6 910.9L942.9 915.17L943.2 916.09L943.5 919.97L943.8 920.83L944.1 924.77L944.4 924.42L944.7 926.73L945 925.52L945.3 928.33L945.6 927.39L945.9 929.93L946.2 928.71L946.5 931.53L946.8 930.76L947.1 932.84L947.4 931.83L947.7 934.04L948 932.69L948.3 935.24L948.6 933.86L948.65 934.29L948.9 936.44L949.2 935.16L949.2 925L949.5 937.64L949.75 936.79L949.8 936.62L950.1 938.91L950.4 938.26L950.7 940.51L951 939.47L951.3 942.11L951.6 940.98L951.9 943.71L952.2 939.05L952.5 943.91L952.8 941.8L953.1 947.91L953.4 946.6L953.7 951.91L954 949.9L954.3 955.91L954.6 954.03L954.9 959.91L955.2 960.39L955.5 968.07L955.8 968.62L956.1 977.07L956.4 977.63L956.7 986.44L957 990.26L957.3 1002.04L957.6 1004.84L957.9 1013.91L958.2 1015.39L958.5 1023.91L958.8 1025.9L959.1 1034.2L959.4 1036.68L959.7 1044.7L960 1046.77L960.3 1055.2L960.6 1056.96L960.9 1064.49L961.2 1065.71L961.5 1073.49L961.8 1074.63L962.5 1087.26L963 1091.57L963.5 1095.66L964 1099.22L964.5 1103.44L965 1106.09L965.5 1107.87L966 1110.41L966.5 1112.2L967 1114.53L967.5 1116.5L968 1118.91L968.5 1120.76L969 1122.76L969.5 1125.23L970 1127.42L970.5 1129.35L971 1131.37L971.5 1132.99L972 1134.9L972.5 1136.42L973 1140.99L973.5 1143.17L974 1144.26L974.5 1144.42L975 1145.29L975.5 1145.83L976 1146.43L976.5 1146.73L977 1146.85L977.5 1146.95L978 1146.57L978.5 1146.7L979 1146.36L979.5 1146.14L980 1146.22L980.5 1146.17L981 1146.17L981.5 1146.04L982 1146.31L982.5 1146.27L983 1145.96L983.5 1145.99L984 1145.95L984.5 1145.74L985 1145.88L985.5 1145.85L986 1145.71L986.5 1145.96L987 1145.77L987.5 1145.96L988 1145.62L988.5 1145.71L989 1145.88L989.5 1145.78L990 1145.99L990.5 1146.07L991 1145.93L991.5 1145.73L992 1145.76L992.5 1146.26L993 1146.47L993.5 1146.31L994 1146.51L994.5 1146.85L995 1147.28L995.5 1146.73L996 1146.58L996.5 1146.55L997 1146.3L997.5 1145.68L998 1145.69L998.5 1145.44L999 1145.41L999.5 1145.49L1000 1145.69L1000.5 1145.83L1001 1145.92L1001.5 1145.92L1002 1145.57L1002.5 1145.14L1003 1145.13L1003.5 1144.81L1004 1144.3L1004.5 1143.97L1005 1144.09L1005.5 1143.62L1006 1143.41L1006.5 1142.98L1007 1142.57L1007.5 1142.49L1008 1142.22L1008.5 1142L1009 1141.89L1009.5 1141.41L1010 1141.23L1010.5 1141.68L1011 1141.6L1011.5 1142.01L1012 1141.89L1012.5 1142.11L1013 1142.2L1013.5 1142.3L1014 1142.09L1014.5 1141.18L1015 1140.74L1015.5 1140.19L1016 1139.86L1016.5 1139.11L1017 1138.52L1017.5 1137.66L1018 1137.17L1018.5 1136.63L1019 1136.68L1019.5 1136.98L1020 1137.29L1020.5 1137.55L1021 1137.69L1021.5 1138.15L1022 1138.48L1022.5 1137.91L1023 1138.17L1023.5 1138.3L1024 1138.79L1024.5 1139.39L1025 1139.73L1025.5 1140.35L1026 1141.03L1026.5 1141.36L1027 1141.46L1027.5 1141.83L1028 1142.17L1028.5 1142.01L1029 1142.49L1029.5 1142.51L1030 1142.84L1030.5 1142.84L1031 1142.58L1031.5 1142.34L1032 1142.2L1032.5 1142.04L1033 1142.08L1033.5 1141.83L1034 1141.61L1034.5 1141.49L1035 1141.31L1035.5 1141.33L1036 1140.8L1036.5 1140.87L1037 1140.53L1037.5 1140.47L1038 1140L1038.5 1139.89L1039 1139.55L1039.5 1139.75L1040 1140.28L1040.5 1140.55L1041 1140.8L1041.5 1141.31L1042 1141.61L1042.5 1141.88L1043 1141.38L1043.5 1140.79L1044 1140.83L1044.5 1140.49L1045 1139.96L1045.5 1139.67L1046 1140.35L1046.5 1140.52L1047 1140.98L1047.5 1141.55L1048 1141.97L1048.5 1142.16L1049 1142.07L1049.5 1142.2L1050 1142.23L1050.5 1142.34L1051 1142.72L1051.5 1142.42L1052 1142.87L1052.5 1142.88L1053 1142.78L1053.5 1143.08L1054 1142.8L1054.5 1142.79L1055 1142.46L1055.5 1142.39L1056 1142.3L1056.5 1142.34L1057 1142.2L1057.5 1141.72L1058 1141.78L1058.5 1141.56L1059 1142.26L1059.5 1142.29L1060 1142.54L1060.5 1143.27L1061 1143.31L1061.5 1143.64L1062 1143.6L1062.5 1143.34L1063 1143.36L1063.5 1142.82L1064 1142.64L1064.5 1142.81L1065 1142.36L1065.5 1142.02L1066 1141.78L1066.5 1141.89L1067 1141.87L1067.5 1141.61L1068 1141.62L1068.5 1141.73L1069 1141.5L1069.5 1141.9L1070 1141.52L1070.5 1140.86L1071 1140.72L1071.5 1139.67L1072 1139.09L1072.5 1139.55L1073 1140.11L1073.5 1140.61L1074 1141.25L1074.5 1142.19L1075 1142.38L1075.5 1143.17L1076 1143.85L1076.5 1144.57L1077 1144.25L1077.5 1143.8L1078 1143.27L1078.5 1142.9L1079 1142.89L1079.5 1143.29L1080 1143.7L1080.5 1144.71L1081 1145.62L1081.5 1145.86L1082 1146.09L1082.5 1145.93L1083 1145.78L1083.5 1145.93L1084 1145.94L1084.5 1145.71L1085 1145.63L1085.5 1145.7L1086 1145.95L1086.5 1145.89L1087 1145.87L1087.5 1146.35L1088 1146.94L1088.5 1147.11L1089 1147.35L1089.5 1147.67L1090 1147.8L1090.25 1147.88L1090.5 1147.97L1090.8 1140L1091 1148.08L1091.35 1148.23L1091.5 1148.3L1092 1148.31L1092.5 1148.65L1093 1148.54L1093.5 1148.73L1094 1148.38L1094.5 1148.79L1095 1148.74L1095.5 1148.82L1096 1148.78L1096.5 1148.49L1097 1148.64L1097.5 1148.7L1098 1148.74L1098.5 1149.18L1099 1149.26L1099.5 1149.1L1100 1149.21L1100.5 1149.38L1101 1149.63L1101.5 1149.86L1102 1149.74L1102.5 1149.83L1103 1150.24L1103.5 1149.89L1104 1150.17L1104.5 1150.53L1105 1150.47L1105.5 1150.52L1106 1151.08L1106.5 1151.11L1107 1151.67L1107.5 1151.91L1108 1152.02L1108.5 1152.19L1109 1151.64L1109.5 1151.55L1110 1151.44L1110.5 1150.82L1111 1150.67L1111.5 1150.7L1112 1150.41L1112.5 1149.81L1113 1150L1113.5 1149.86L1114 1149.49L1114.5 1149.04L1115 1148.9L1115.5 1149.08L1116 1148.8L1116.5 1148.44L1117 1148.31L1117.5 1148.22L1118 1148.39L1118.5 1148.14L1119 1148.31L1119.5 1148.29L1120 1148.25L1120.5 1147.82L1121 1147.91L1121.5 1148.04L1122 1147.9L1122.5 1148.12L1123 1148.3L1123.5 1148.64L1124 1148.47L1124.5 1148.76L1125 1148.8L1125.5 1148.97L1126 1149.18L1126.5 1149.08L1127 1149.21L1127.5 1149.33L1128 1149.57L1128.5 1149.62L1129 1150.08L1129.5 1150.23L1130 1150.44L1130.5 1150.17L1131 1150.19L1131.5 1150.37L1132 1150.4L1132.5 1150.19L1133 1149.96L1133.5 1149.92L1134 1149.77L1134.5 1149.96L1135 1149.54L1135.5 1149.26L1136 1148.18L1136.5 1147.67L1137 1147.32L1137.5 1146.88L1137.65 1146.61L1138 1145.99L1138.2 1136.7L1138.5 1145.87L1138.75 1145.58L1139 1145.29L1139.5 1144.85L1140 1143.59L1140.5 1142.56L1141 1141.71L1141.5 1140.7L1142 1139.82L1142.5 1138.76L1143 1137.93L1143.5 1136.59L1144 1135.6L1144.5 1134.8L1145 1133.74L1145.5 1132.8L1146 1131.59L1146.5 1130.9L1147 1130.45L1147.15 1130.33L1147.5 1130.06L1147.7 1101.25L1148 1129.34L1148.25 1129.25L1148.45 1129.17L1148.5 1129.15L1149 1129.12L1149 1102L1149.5 1128.76L1149.55 1128.73L1149.75 1128.58L1150 1128.39L1150.3 1100.4L1150.5 1127.81L1150.85 1127.53L1151 1127.41L1151.5 1127.13L1152 1126.71L1152.5 1126.51L1153 1126.2L1153.5 1125.84L1154 1125.37L1154.5 1125.13L1155 1124.7L1155.5 1124.16L1156 1123.67L1156.5 1123.39L1157 1123.68L1157.5 1124.05L1158 1124.73L1158.5 1125.03L1159 1125.16L1159.5 1124.93L1160 1123.92L1160.45 1123.19L1160.5 1123.11L1161 1122.34L1161 1115.8L1161.5 1122.98L1161.55 1123.02L1162 1123.34L1162.5 1124.07L1163 1125.22L1163.5 1125.38L1164 1124.99L1164.5 1125.11L1165 1125.02L1165.5 1124.78L1166 1124.94L1166.5 1125.27L1167 1126.37L1167.5 1126.88L1168 1127.4L1168.5 1127.94L1169 1128.1L1169.5 1128.41L1170 1128.73L1170.5 1128.95L1171 1129.14L1171.5 1129.37L1172 1129.28L1172.5 1128.89L1173 1128.96L1173.5 1128.71L1174 1128.75L1174.5 1128.74L1175 1128.43L1175.5 1128.34L1176 1128.03L1176.5 1127.91L1177 1128.15L1177.5 1128.75L1178 1128.7L1178.5 1129.08L1179 1129.61L1179.5 1130.34L1180 1130.67L1180.5 1131.62L1181 1132.01L1181.5 1132.98L1182 1133.85L1182.5 1133.93L1183 1134.37L1183.5 1134.17L1184 1134.52L1184.5 1134.23L1185 1133.61L1185.5 1133.53L1186 1132.58L1186.5 1132.36L1187 1132.05L1187.5 1131.96L1188 1131.81L1188.5 1131.36L1189 1131.39L1189.5 1131.46L1190 1131.22L1190.5 1131.13L1191 1130.7L1191.5 1130.86L1192 1130.41L1192.5 1130.41L1193 1130.41L1193.5 1130.03L1194 1129.92L1194.5 1130.09L1195 1129.82L1195.5 1129.48L1196 1129.82L1196.5 1129.69L1197 1129.3L1197.5 1129.06L1198 1129.37L1198.5 1129.45L1199 1129.79L1199.5 1130.18L1200 1130.25L1200.5 1130.41L1200.55 1130.45L1201 1130.81L1201.1 1103.3L1201.5 1131.46L1201.65 1131.54L1202 1131.72L1202.5 1132.56L1203 1133.05L1203.5 1133.19L1204 1133.46L1204.5 1132.98L1205 1132.88L1205.5 1133.2L1206 1133.08L1206.5 1133.37L1207 1133.55L1207.5 1134.16L1208 1134.62L1208.5 1134.45L1209 1134.11L1209.5 1133.47L1209.85 1133.02L1210 1132.83L1210.4 1130.4L1210.5 1132.44L1210.95 1133.12L1211 1133.2L1211.5 1133.72L1212 1133.95L1212.5 1134.49L1213 1135.01L1213.5 1135.68L1214 1136.14L1214.5 1136.53L1215 1137.32L1215.5 1137.67L1216 1137.92L1216.5 1137.86L1217 1138.23L1217.5 1137.98L1218 1138.29L1218.5 1138.47L1218.65 1138.53L1219 1138.67L1219.2 1127.9L1219.5 1138.56L1219.75 1138.57L1220 1138.57L1220.5 1138.67L1221 1138.74L1221.5 1138.43L1222 1137.62L1222.5 1137.2L1223 1137.27L1223.5 1137.56L1224 1137.98L1224.5 1138.59L1225 1139.01L1225.5 1139.54L1226 1139.68L1226.5 1140.21L1227 1140.33L1227.5 1140.7L1228 1141.13L1228.5 1141.2L1229 1141.4L1229.5 1141.67L1230 1141.68L1230.5 1141.61L1231 1141.97L1231.15 1141.89L1231.5 1141.7L1231.7 1118.3L1232 1142.04L1232.25 1142.01L1232.5 1141.97L1233 1141.93L1233.5 1141.96L1234 1141.9L1234.5 1141.9L1235 1141.11L1235.5 1140.44L1235.7 1140.26L1236 1139.99L1236.25 1138.3L1236.5 1139.69L1236.8 1139.79L1237 1139.85L1237.5 1140.13L1238 1140.68L1238.5 1140.71L1239 1141.09L1239.5 1141.61L1240 1142.12L1240.5 1142.24L1241 1142.75L1241.5 1142.82L1242 1143.16L1242.5 1143.82L1243 1143.44L1243.5 1143.27L1244 1143.03L1244.5 1142.58L1245 1142.05L1245.5 1141.79L1246 1141.57L1246.5 1141.31L1247 1140.62L1247.5 1139.48L1248 1138.03L1248.5 1136.98L1249 1135.77L1249.5 1134.77L1250 1134.24L1250.5 1133.42L1251 1132.48L1251.5 1132.02L1252 1131.54L1252.5 1131.22L1253 1130.84L1253.5 1131.53L1254 1132.48L1254.5 1133.06L1255 1133.63L1255.5 1134.86L1256 1135.91L1256.5 1137.06L1257 1138.34L1257.5 1139.47L1258 1139.76L1258.5 1139.67L1259 1139.62L1259.5 1139.8L1260 1139.6L1260.5 1140.35L1261 1141.16L1261.5 1141.43L1262 1142.26L1262.5 1142.89L1263 1142.02L1263.5 1140.83L1264 1139.84L1264.5 1138.53L1265 1137.81L1265.5 1136.81L1266 1137.35L1266.5 1138.12L1267 1139.08L1267.5 1139.67L1268 1140.72L1268.5 1141.59L1269 1142.66L1269.5 1143.85L1270 1143.4L1270.5 1142.84L1271 1142.3L1271.5 1142.02L1272 1141.55L1272.5 1141.87L1273 1142.54L1273.5 1142.96L1274 1143.39L1274.5 1144.14L1275 1144.55L1275.5 1144.2L1276 1143.93L1276.5 1143.33L1277 1142.87L1277.5 1141.88L1277.95 1141.19L1278 1141.12L1278.5 1140.21L1278.5 1111.7L1279 1139.13L1279.05 1139.01L1279.5 1137.96L1280 1137.04L1280.5 1136.88L1281 1136.83L1281.5 1136.22L1282 1136.08L1282.5 1135.98L1283 1135.6L1283.5 1135.18L1284 1134.67L1284.5 1133.54L1285 1132.93L1285.5 1132.46L1286 1131.76L1286.5 1131.55L1287 1132.82L1287.5 1133.87L1288 1134.62L1288.5 1135.82L1289 1136.43L1289.5 1136.85L1290 1137.68L1290.5 1138.03L1291 1139.41L1291.5 1140.92L1292 1142.14L1292.5 1143.74L1293 1143.94L1293.5 1144.11L1294 1144.02L1294.5 1144.1L1295 1144.12L1295.5 1144.25L1296 1144.16L1296.5 1144.27L1297 1144.45L1297.5 1144.4L1298 1144.47L1298.5 1144.58L1299 1144.49L1299.5 1144.79L1300 1144.75L1300.5 1144.41L1301 1144.03L1301.5 1144.06L1302 1143.49L1302.5 1143.28L1303 1142.88L1303.5 1143L1304 1143.25L1304.5 1143.07L1305 1143.5L1305.5 1143.61L1306 1143.72L1306.5 1143.62L1307 1144.11L1307.5 1144.1L1308 1144.01L1308.5 1144.01L1309 1144.24L1309.5 1144L1310 1144.06L1310.5 1144.01L1311 1144.01L1311.5 1143.71L1312 1143.95L1312.5 1143.73L1313 1143.33L1313.5 1142.92L1314 1142.78L1314.5 1142.56L1315 1141.98L1315.5 1142.78L1316 1143.18L1316.5 1143.58L1317 1143.89L1317.5 1144.02L1318 1144.05L1318.5 1143.43L1319 1143.26L1319.05 1143.23L1319.5 1142.99L1319.6 1118.75L1320 1142.57L1320.15 1142.56L1320.5 1142.54L1321 1142.04L1321.5 1141.82L1322 1140.73L1322.5 1139.46L1323 1138.54L1323.5 1137.78L1324 1137.89L1324.45 1137.58L1324.5 1137.55L1325 1137.49L1325 1127.5L1325.5 1137.45L1325.55 1137.4L1326 1136.93L1326.35 1136.97L1326.5 1136.99L1326.9 1118.75L1327 1136.92L1327.45 1136.57L1327.5 1136.53L1327.95 1136.42L1328 1136.41L1328.5 1136.41L1328.5 1118.75L1329 1135.97L1329.05 1135.95L1329.5 1135.76L1329.65 1135.68L1330 1135.51L1330.2 1119.5L1330.5 1135.5L1330.75 1135.3L1331 1135.1L1331.5 1134.33L1332 1133.64L1332.5 1132.55L1333 1131.67L1333.5 1131.01L1334 1129.59L1334.5 1128.48L1335 1126.88L1335.5 1125.17L1336 1122.89L1336.5 1120.92L1337 1118.15L1337.5 1115.13L1338 1109.03L1338.5 1088.81L1339.17 1038.51L1339.47 1019L1339.77 997.94L1340.07 978.92L1340.37 961.13L1340.67 944.64L1340.97 926.88L1341.27 912.32L1341.57 900.39L1341.87 889.82L1342.17 877.88L1342.47 867.32L1342.77 858.62L1343.07 851.9L1343.37 843.74L1343.67 836.9L1343.97 828.58L1344.27 822.69L1344.57 816.66L1344.87 812.4L1345.17 806.57L1345.47 803.07L1345.77 799.28L1346.07 797.07L1346.37 793.43L1346.67 791.07L1346.97 789.54L1347.27 789.47L1347.57 787.83L1347.87 787.87L1348.17 786.19L1348.47 786.27L1348.77 784.65L1349.07 784.67L1349.37 783.13L1349.67 782.73L1349.97 781.02L1350.27 780.73L1350.57 778.93L1350.87 778.73L1351.17 776.99L1351.45 776.75L1351.47 776.73L1351.77 775.19L1352 771L1352.07 775.8L1352.37 774.72L1352.55 775.14L1352.67 775.4L1352.97 774.4L1353.27 775L1353.57 774L1353.87 774.6L1354.17 773.57L1354.47 773.6L1354.77 772.09L1355.07 772L1355.37 770.34L1355.67 770.4L1355.97 768.81L1356.27 768.8L1356.57 767.37L1356.87 767.33L1357.17 766.12L1357.47 766.13L1357.77 764.74L1358.07 764.93L1358.37 763.51L1358.67 763.73L1358.97 762.34L1359.27 762.43L1359.57 760.62L1359.75 760.6L1359.87 760.58L1360.17 758.98L1360.3 746.7L1360.47 758.73L1360.77 757.16L1360.85 757.09L1361.07 756.89L1361.37 755.08L1361.67 754.88L1361.97 753.07L1362.27 752.73L1362.57 750.88L1362.87 750.59L1363.17 748.92L1363.47 748.45L1363.77 746.48L1364.07 746.19L1364.37 744.21L1364.67 743.89L1364.97 742L1365.27 741.58L1365.57 739.75L1365.87 739.31L1366.17 737.74L1366.47 737.71L1366.77 736.1L1367.07 736.11L1367.37 734.43L1367.67 734.51L1367.97 733.03L1368.27 732.91L1368.57 730.94L1368.87 730.07L1369.17 727.9L1369.47 727.07L1369.77 724.94L1370.07 724.13L1370.37 722.28L1370.67 721.73L1370.97 719.75L1371.27 719.33L1371.57 717.41L1371.87 716.93L1372.17 714.9L1372.47 714.53L1372.77 712.66L1373.07 712.13L1373.37 710.27L1373.67 709.73L1373.97 707.66L1374.27 707.4L1374.57 705.66L1374.87 705.4L1375.17 703.67L1375.47 703.4L1375.77 701.53L1376.07 701.4L1376.37 699.57L1376.67 699.4L1376.97 697.84L1377.27 697.6L1377.57 695.88L1377.87 695.8L1378.17 694.14L1378.47 694.22L1378.77 692.96L1379.07 693.42L1379.37 692.27L1379.67 692.62L1379.97 691.58L1380.27 691.82L1380.57 690.59L1380.87 691L1381.17 689.71L1381.47 689.8L1381.77 688.42L1382.07 688.6L1382.37 687.18L1382.67 687.4L1382.97 685.93L1383.27 686.2L1383.57 685.06L1383.87 685.36L1384.17 684.32L1384.47 684.56L1384.77 683.3L1385.07 683.76L1385.37 682.47L1385.67 682.96L1385.97 681.71L1386.27 682.3L1386.57 681.11L1386.87 681.7L1387.17 680.63L1387.47 681.1L1387.77 680.14L1388.07 680.5L1388.37 679.42L1388.67 680.07L1388.97 679.31L1389.27 679.77L1389.57 678.88L1389.87 679.47L1390.17 678.44L1390.47 679.17L1390.77 678.29L1391.07 678.87L1391.37 678.02L1391.67 678.57L1391.97 677L1392.27 676.97L1392.57 675.56L1392.87 675.37L1393.17 673.74L1393.47 673.77L1393.77 672.35L1394.07 672.17L1394.37 670.57L1394.67 670.73L1394.97 669.28L1395.27 669.33L1395.57 667.89L1395.87 667.93L1396.17 666.35L1396.47 666.53L1396.77 665.12L1397.07 665.27L1397.37 663.87L1397.67 664.07L1397.97 662.64L1398.27 662.87L1398.57 661.54L1398.87 661.67L1399.17 660.2L1399.47 660.67L1399.77 659.47L1400.07 659.87L1400.37 658.69L1400.67 659.07L1400.97 658.04L1401.27 658.27L1401.57 657.16L1401.87 657.4L1402.17 656.25L1402.47 656.4L1402.77 655.29L1403.07 655.4L1403.37 654.19L1403.67 654.4L1403.97 653.22L1404.27 653.22L1404.57 651.37L1404.87 651.12L1405.17 649.24L1405.47 649.02L1405.77 647.18L1406.07 646.33L1406.37 643.72L1406.67 642.73L1406.97 640.28L1407.27 639.13L1407.57 636.57L1407.87 636.08L1408.17 633.99L1408.47 633.38L1408.77 631.33L1409.07 630.68L1409.37 629.42L1409.67 629.73L1409.97 628.73L1410.27 629.13L1410.57 628.1L1410.87 628.53L1411.17 627.62L1411.47 627.93L1411.77 626.91L1412.07 627.13L1412.37 626.08L1412.67 626.23L1412.97 624.96L1413.27 625.33L1413.57 623.63L1413.87 623.37L1414.17 621.67L1414.47 621.27L1414.77 619.47L1415.07 619.47L1415.37 618.98L1415.67 620.07L1415.97 619.51L1416.27 620.67L1416.57 620.24L1416.87 620.87L1417.17 619.94L1417.47 620.27L1417.77 619.09L1418.07 619.67L1418.37 618.59L1418.67 619.07L1418.97 617.96L1419.27 618.33L1419.57 617.02L1419.87 616.93L1420.17 615.42L1420.47 615.53L1420.77 613.96L1421.07 614.13L1421.37 612.82L1421.67 612.73L1421.97 611.4L1422.27 611.53L1422.57 610.04L1422.87 610.33L1423.17 609.04L1423.47 609.13L1423.77 607.83L1424.07 607.93L1424.37 606.64L1424.67 606.73L1424.97 605.26L1425.27 605.53L1425.57 604.13L1425.87 604.33L1426.17 602.95L1426.47 603.13L1426.77 601.71L1427.07 601.57L1427.37 600.06L1427.67 599.82L1427.97 598.09L1428.27 598.07L1428.57 596.47L1428.87 597.44L1429.17 597.56L1429.47 599.05L1429.77 599.26L1430.07 600.67L1430.37 600.8L1430.67 602.28L1430.97 603L1431.27 605.98L1431.57 607.36L1431.87 610.48L1432.17 611.97L1432.47 618.3L1432.77 623.26L1433.07 629.45L1433.37 634.15L1433.67 638.73L1433.97 642.02L1434.27 645.28L1434.57 644.58L1434.87 645.58L1435.17 645.13L1435.47 645.88L1435.77 645.29L1436.07 646.65L1436.37 646.52L1436.67 648.15L1436.97 648.13L1437.27 649.65L1437.57 649.25L1437.87 649.68L1438.17 648.42L1438.47 648.78L1438.77 647.7L1439.07 647.88L1439.37 646.96L1439.67 647.48L1439.97 646.71L1440.27 647.18L1440.57 646.2L1440.87 646.98L1441.17 647L1441.47 648.48L1441.77 648.59L1442.07 649.98L1442.37 649.87L1442.67 651.9L1442.97 652.65L1443.27 654.9L1443.57 655.52L1443.87 657.9L1444.17 658.62L1444.47 660.6L1444.77 661.13L1445.07 663L1445.37 663.33L1445.67 665.4L1445.97 665.69L1446.27 667.37L1446.57 667.52L1446.87 669.17L1447.17 669.45L1447.47 670.97L1447.77 669.49L1448.07 669.37L1448.37 667.63L1448.67 667.57L1448.97 665.99L1449.27 665.47L1449.57 662.87L1449.87 661.87L1450.17 659.37L1450.47 658.27L1450.77 655.61L1451.07 655.25L1451.37 653.55L1451.67 653.15L1451.97 651.31L1452.27 651.05L1452.57 649.59L1452.87 650.66L1453.17 650.3L1453.47 651.35L1453.77 650.93L1454.07 652.04L1454.37 651.61L1454.67 652.73L1454.97 653.35L1455.27 655.23L1455.57 655.82L1455.87 657.73L1456.17 658.21L1456.47 660.23L1456.77 660.82L1457.07 663.47L1457.37 664.42L1457.67 667.07L1457.97 668.09L1458.27 670.67L1458.57 671.35L1458.87 673.73L1459.15 674.53L1459.17 674.57L1459.47 676.73L1459.7 665.8L1459.77 677.61L1460.07 680.2L1460.25 682.01L1460.37 683.16L1460.67 687.4L1460.97 690.28L1461.27 694.6L1461.57 697.34L1461.87 702.9L1462.17 707.34L1462.47 713.4L1462.77 718.01L1463.07 724.07L1463.37 729.18L1463.67 736.07L1463.97 741.43L1464.27 748.92L1464.57 756.68L1464.87 766.07L1465.17 773.87L1465.47 783.4L1465.77 791.78L1466.07 801.52L1466.37 809.51L1466.67 816.19L1466.97 821.59L1467.27 828.19L1467.57 834.23L1467.87 844.31L1468.17 853.03L1468.47 863.06L1468.77 871.92L1469.07 882.85L1469.37 892.89L1469.67 904.28L1469.97 914.44L1470.27 925.71L1470.57 935.86L1470.87 947.14L1471.17 957.24L1471.47 969.1L1471.77 979.74L1472.07 991.6L1472.37 1002.29L1472.67 1013.19L1472.97 1022.18L1473.27 1032.39L1473.57 1038.51L1473.87 1045.19L1474.17 1050.63L1474.47 1057.19L1474.77 1061.94L1475.07 1067.58L1475.37 1071.92L1475.67 1077.58L1475.97 1081.07L1476.27 1084.57L1476.57 1086.68L1476.87 1090.57L1477.17 1092.62L1477.47 1095.8L1477.77 1097.57L1478.07 1100.6L1478.37 1102.09L1478.65 1103.33L1478.67 1103.4L1478.97 1103.13L1479.2 1075.8L1479.27 1104.6L1479.57 1104.59L1479.75 1105.33L1479.87 1105.8L1480.17 1105.37L1480.47 1105.95L1480.77 1105.26L1481.07 1105.8L1481.37 1105.1L1481.67 1105.65L1481.97 1104.48L1482.27 1104.6L1482.35 1104.26L1482.57 1103.38L1482.87 1103.55L1482.9 1075.4L1483.17 1102.41L1483.45 1102.78L1483.47 1102.8L1483.77 1102.14L1484.07 1103.1L1484.37 1102.65L1484.67 1103.4L1484.97 1102.87L1485.27 1103.35L1485.57 1102.43L1485.87 1102.87L1486.17 1101.81L1486.47 1102.39L1486.77 1101.46L1486.95 1101.74L1487.07 1101.91L1487.37 1101.97L1487.5 1081.7L1487.67 1103.84L1487.97 1104.13L1488.05 1104.61L1488.27 1105.84L1488.57 1105.24L1488.87 1105.98L1489.17 1105.23L1489.47 1105.88L1489.77 1105.11L1490.07 1105.78L1490.37 1104.98L1490.67 1105.68L1490.97 1104.97L1491.27 1105.43L1491.57 1104.68L1491.87 1105.13L1492.17 1104.36L1492.35 1104.65L1492.47 1104.83L1492.77 1103.95L1492.9 1079.2L1493.07 1104.53L1493.37 1103.52L1493.45 1103.65L1493.45 1103.65L1493.67 1104L1493.97 1102.82L1494 1076L1494.27 1103.28L1494.45 1102.6L1494.55 1102.24L1494.57 1102.17L1494.87 1102.56L1495 1073.75L1495.17 1101.38L1495.47 1101.6L1495.55 1100.89L1495.75 1099.17L1495.77 1099.03L1496.07 1098L1496.3 1070L1496.37 1095.32L1496.67 1094.4L1496.85 1093.25L1496.95 1092.62L1496.97 1092.52L1497.27 1092L1497.5 1064.6L1497.57 1090L1497.87 1089.6L1497.95 1089.08L1498.05 1088.46L1498.17 1087.73L1498.47 1087.2L1498.5 1072L1498.77 1085.15L1499.05 1084.82L1499.07 1084.8L1499.37 1083.15L1499.67 1083.4L1499.97 1082.18L1500.27 1082.32L1500.57 1081.01L1500.87 1081.07L1501.17 1079.53L1501.47 1078.97L1501.77 1077.33L1502.07 1076.87L1502.37 1075.29L1502.67 1073.85L1502.97 1070.59L1503.27 1068.45L1503.57 1062.7L1503.87 1057.19L1504.15 1050.84L1504.17 1050.47L1504.47 1045.19L1504.7 1009.2L1504.77 1038.64L1505.07 1033.41L1505.25 1030.02L1505.37 1027.87L1505.67 1023.41L1505.97 1017.71L1506.27 1007.19L1506.57 994.55L1506.87 987.19L1507.17 980.61L1507.47 975.19L1507.77 968.64L1508.07 963.19L1508.37 956.55L1508.67 950.19L1508.97 942.72L1509.27 936.39L1509.57 928.9L1509.87 922.59L1510.17 916.98L1510.47 913.92L1510.77 909.61L1511.07 906.72L1511.37 902.56L1511.67 899.52L1511.97 894.37L1512.27 890.52L1512.57 885.53L1512.87 881.52L1513.17 876.43L1513.47 871.19L1513.77 863.1L1514.07 856.19L1514.37 848.04L1514.67 841.19L1514.97 834.08L1515.27 828.33L1515.57 821.25L1515.87 815.05L1516.17 803.83L1516.47 794.45L1516.77 785.36L1517.07 781.65L1517.37 776.45L1517.67 772.65L1517.97 767.14L1518.27 763.65L1518.57 759.91L1518.87 758.39L1519.17 755.11L1519.47 753.59L1519.77 750.2L1520.07 749.24L1520.25 748.53L1520.37 748.07L1520.67 748.49L1520.8 734.2L1520.97 747.24L1521.27 747.74L1521.35 747.71L1521.57 747.62L1521.87 749.25L1522.17 749.44L1522.47 751.05L1522.77 751.25L1523.07 752.79L1523.37 752.6L1523.67 754.04L1523.97 753.98L1524.27 755.29L1524.57 755.03L1524.87 756.54L1525.17 755.17L1525.47 754.68L1525.77 752.56L1526.07 751.93L1526.37 749.55L1526.65 749.2L1526.67 749.18L1526.97 746.85L1527.2 733.3L1527.27 747.24L1527.57 745.86L1527.75 746.14L1527.87 746.32L1528.17 744.98L1528.47 745.4L1528.77 744.24L1529.07 744.47L1529.37 744.02L1529.67 745.32L1529.75 745.24L1529.97 745.05L1530.27 746.52L1530.3 734.2L1530.57 746.22L1530.85 747.64L1530.87 747.72L1531.17 747.58L1531.47 748.92L1531.77 748.62L1532.07 749.85L1532.37 749.5L1532.67 750.65L1532.97 750.14L1533.27 751.45L1533.57 751.15L1533.87 752.25L1534.17 751.68L1534.47 753.25L1534.77 753.15L1535.07 754.45L1535.37 754.37L1535.67 755.65L1535.97 756.22L1536.27 759.78L1536.57 761.61L1536.87 765.03L1537.17 766.96L1537.47 770.01L1537.77 771.47L1538.07 774.72L1538.37 775.97L1538.67 776.13L1538.97 774.55L1539.27 774.88L1539.57 773.56L1539.87 773.63L1540.17 772.2L1540.47 772.96L1540.77 772.82L1541.07 774.35L1541.37 774.3L1541.67 775.73L1541.97 775.45L1542.27 777.11L1542.45 777.38L1542.57 777.55L1542.87 780.95L1543 765.8L1543.17 782.85L1543.47 786.35L1543.55 786.83L1543.77 788.08L1544.07 791.75L1544.37 794.67L1544.67 799.8L1544.97 803.1L1545.27 808.37L1545.57 819.41L1545.87 833.32L1546.17 838.83L1546.47 845.48L1546.77 850.88L1547.07 857.48L1547.37 862.92L1547.67 869.15L1547.97 873.87L1548.27 879.95L1548.57 884.62L1548.87 890.75L1549.17 895.53L1549.47 899.9L1549.77 903.05L1550.07 907.4L1550.37 910.46L1550.67 914.15L1550.97 915.81L1551.27 918.95L1551.57 918.51L1551.87 918.68L1552.17 917.54L1552.45 917.77L1552.47 917.78L1552.77 916.79L1553 896.7L1553.07 916.74L1553.37 915.11L1553.55 914.8L1553.67 914.6L1553.97 912.77L1554.27 911.1L1554.57 905.4L1554.87 900.81L1555.17 894.98L1555.47 890.15L1555.65 886.14L1555.77 883.59L1556.07 878.15L1556.2 844.2L1556.37 871.37L1556.67 866.15L1556.75 864.32L1556.97 859.56L1557.27 854.15L1557.57 847.46L1557.87 842.15L1558.17 835.59L1558.47 830.48L1558.77 824.69L1559.07 819.98L1559.37 814.15L1559.67 809.48L1559.97 801.27L1560.27 799.16L1560.57 796.31L1560.87 794.96L1561.17 791.96L1561.47 790.76L1561.77 788.16L1561.95 787.92L1562.07 787.76L1562.37 785.68L1562.5 771.7L1562.67 785.36L1562.97 783.24L1563.05 783.16L1563.27 782.96L1563.57 781.65L1563.87 782.36L1564.17 781.48L1564.47 781.99L1564.77 781.62L1565.07 783.66L1565.37 784.14L1565.67 786.36L1565.97 786.94L1566.27 789.06L1566.57 790.07L1566.87 792.56L1567.17 793.49L1567.47 796.16L1567.77 797.07L1568.07 799.41L1568.37 798.87L1568.65 799.78L1568.67 799.84L1568.97 799.13L1569.2 784.2L1569.27 799.63L1569.57 797.23L1569.75 796.63L1569.87 796.26L1570.17 793.71L1570.47 792.88L1570.77 791.33L1571.07 791.43L1571.37 790.03L1571.45 790.05L1571.67 790.1L1571.97 788.61L1572 774.2L1572.27 790.36L1572.55 790.6L1572.57 790.61L1572.87 792.61L1573.17 792.94L1573.47 795.16L1573.77 796.09L1574.07 798.76L1574.37 799.88L1574.67 802.36L1574.97 803.3L1575.27 805.96L1575.57 806.88L1575.87 809.54L1576.15 810.29L1576.17 810.33L1576.47 812.77L1576.7 802.5L1576.77 813.53L1577.07 816L1577.25 816.56L1577.37 816.92L1577.67 819.23L1577.97 820.15L1578.27 820.47L1578.57 818.96L1578.87 819.22L1579.15 817.75L1579.17 817.67L1579.47 817.97L1579.7 810L1579.77 816.44L1580.07 817.65L1580.25 819.36L1580.37 820.44L1580.67 824.78L1580.97 827.54L1581.27 831.9L1581.57 835.06L1581.87 839.63L1582.17 843.1L1582.47 847.55L1582.77 850.68L1583.07 855.61L1583.37 860.17L1583.67 865.81L1583.97 870.33L1584.27 876.01L1584.57 880.54L1584.87 886.81L1585.17 892.27L1585.47 898.81L1585.77 904.08L1586.07 910.81L1586.37 916.1L1586.67 923.29L1586.97 929.1L1587.27 936.15L1587.57 941.66L1587.87 947.96L1588.17 952.86L1588.47 959.1L1588.77 963.17L1589.07 966.81L1589.37 969.05L1589.67 972.81L1589.97 975.06L1590.27 977.21L1590.57 977.73L1590.87 979.38L1591.17 977.84L1591.47 977.58L1591.77 976.06L1592.07 975.78L1592.37 974.25L1592.67 972.98L1592.97 969.54L1593.27 967.58L1593.57 964.28L1593.87 962.18L1594.17 958.88L1594.45 958.84L1594.47 958.84L1594.77 957.52L1595 939.2L1595.07 957.55L1595.37 956.31L1595.55 957.23L1595.67 957.81L1595.97 957.93L1596.27 959.31L1596.57 959.46L1596.87 960.81L1597.17 961.53L1597.45 963.88L1597.47 964.02L1597.77 965.22L1598 944.2L1598.07 967.71L1598.37 968.85L1598.55 970.41L1598.67 971.4L1598.97 972.71L1599.27 974.88L1599.57 975.39L1599.87 977.28L1600.17 977.85L1600.47 979.81L1600.77 981.5L1601.07 984.31L1601.15 984.72L1601.37 985.76L1601.67 988.81L1601.7 961.7L1601.97 990.23L1602.25 992.12L1602.27 992.23L1602.57 992.1L1602.87 993.19L1603.17 993.07L1603.47 994.15L1603.77 994.04L1604.07 995.11L1604.37 994.84L1604.67 996.02L1604.97 995.77L1605.27 996.92L1605.57 996.74L1605.87 998L1606.15 999.15L1606.17 999.22L1606.47 1002L1606.7 986.7L1606.77 1003.3L1607.07 1006L1607.25 1006.46L1607.37 1006.76L1607.67 1008.67L1607.97 1009.26L1608.27 1011.31L1608.57 1012.06L1608.87 1013.95L1609.17 1014.71L1609.47 1017.52L1609.77 1019.03L1610.07 1022.02L1610.37 1023.69L1610.67 1026.52L1610.97 1028.34L1611.27 1031.67L1611.57 1033.62L1611.87 1037.07L1612.17 1039.21L1612.47 1042.47L1612.77 1044.87L1613.07 1048.82L1613.37 1051.26L1613.67 1055.22L1613.97 1057.27L1614.27 1060.76L1614.57 1062.83L1614.87 1066.16L1615.17 1068.06L1615.25 1068.98L1615.47 1071.37L1615.77 1072.09L1615.8 1048.3L1616.07 1074.49L1616.35 1075.19L1616.37 1075.23L1616.67 1077.61L1616.97 1078.61L1617.27 1080.73L1617.57 1081.54L1617.87 1082.82L1618.17 1082.75L1618.47 1084.26L1618.77 1084.23L1619.07 1085.7L1619.37 1085.74L1619.67 1086.5L1619.97 1084.25L1620.27 1083.32L1620.57 1080.91L1620.87 1080.15L1621.17 1076.06L1621.47 1072.26L1621.77 1066.88L1622.07 1063.03L1622.37 1058.41L1622.67 1055L1622.95 1050.61L1622.97 1050.35L1623.27 1047L1623.5 1019.2L1623.57 1042.67L1623.87 1039.71L1624.05 1037L1624.17 1035.28L1624.47 1032.51L1624.77 1029.13L1625.07 1028.05L1625.37 1025.36L1625.67 1024.25L1625.97 1022.77L1626.27 1024.38L1626.57 1024.55L1626.87 1026.03L1627.17 1026.17L1627.47 1027.68L1627.77 1025.2L1628.07 1024L1628.2 1022.82L1628.37 1021.34L1628.67 1020L1628.75 995L1628.97 1018.14L1629.27 1017.72L1629.3 1017.53L1629.57 1016.04L1629.87 1015.72L1630.17 1015.56L1630.47 1018.07L1630.77 1019.28L1631.07 1021.67L1631.37 1023.59L1631.67 1027.77L1631.75 1028.58L1631.97 1030.67L1632.27 1034.97L1632.3 1007.5L1632.57 1037.62L1632.85 1041.23L1632.87 1041.44L1633.17 1043.71L1633.47 1047.44L1633.65 1048.77L1633.77 1049.62L1634.07 1053.02L1634.2 1021.7L1634.37 1055.03L1634.67 1058.22L1634.75 1058.78L1634.85 1059.46L1634.97 1060.26L1635.27 1062.71L1635.4 1027.5L1635.57 1063.78L1635.87 1066.31L1635.95 1066.65L1636.17 1067.53L1636.47 1069.91L1636.77 1070.86L1637.07 1072.91L1637.37 1073.47L1637.67 1075.61L1637.75 1075.77L1637.97 1076.19L1638.27 1078.31L1638.3 1050.8L1638.57 1078.27L1638.85 1079.39L1638.87 1079.46L1639.17 1079.21L1639.45 1080.35L1639.47 1080.42L1639.77 1080.26L1640 1052.5L1640.07 1081.38L1640.37 1081.22L1640.55 1081.9L1640.67 1082.34L1640.97 1082.08L1641.27 1083.3L1641.57 1083.21L1641.87 1084.26L1642.17 1084.09L1642.47 1085.22L1642.77 1084.01L1643.07 1084.14L1643.2 1083.55L1643.37 1082.82L1643.67 1082.94L1643.75 1055.4L1643.97 1081.64L1644.27 1081.74L1644.3 1081.6L1644.57 1080.47L1644.87 1078.84L1645.17 1075.67L1645.47 1074.04L1645.7 1071.73L1645.77 1071.06L1646.07 1068L1646.25 1037L1646.37 1063.3L1646.67 1060L1646.8 1057.92L1646.97 1055.32L1647.27 1052L1647.57 1047.32L1647.75 1045.29L1647.87 1044L1648.17 1039.22L1648.3 1012L1648.47 1036.71L1648.77 1033.67L1648.85 1033.18L1649.07 1031.91L1649.37 1028.72L1649.67 1027.57L1649.97 1025.98L1650.27 1026.07L1650.57 1024.68L1650.87 1024.57L1651.15 1023.24L1651.17 1023.16L1651.47 1022.45L1651.7 1003.3L1651.77 1020.1L1652.07 1019.25L1652.25 1017.77L1652.37 1016.83L1652.67 1015.86L1652.97 1013.2L1653.05 1012.85L1653.27 1011.96L1653.57 1009.29L1653.6 987L1653.87 1008.06L1654.15 1005.6L1654.17 1005.45L1654.47 1004.91L1654.77 1003.14L1655.07 1002.51L1655.37 1000.56L1655.67 1002.23L1655.97 1002.99L1656.27 1004.93L1656.57 1005.7L1656.87 1007.63L1657.17 1008.63L1657.47 1012.06L1657.77 1013.99L1658.07 1017.46L1658.37 1019.56L1658.67 1022.86L1658.97 1025.27L1659.27 1029.46L1659.57 1032.3L1659.85 1036.04L1659.87 1036.26L1660.17 1038.71L1660.4 1016.25L1660.47 1042.75L1660.77 1045.13L1660.95 1047.59L1661.07 1049.15L1661.37 1051.51L1661.67 1055L1661.97 1056.98L1662.27 1060.6L1662.57 1062.63L1662.87 1065.46L1663.17 1066.83L1663.47 1069.86L1663.77 1071.38L1664.07 1072.78L1664.37 1072.78L1664.67 1074.38L1664.97 1074.6L1665.27 1074.74L1665.57 1073.51L1665.87 1073.54L1666.17 1072.33L1666.47 1072.34L1666.77 1071.16L1667.07 1071.14L1667.37 1069.37L1667.67 1069.24L1667.97 1067.67L1668.27 1067.32L1668.57 1065.73L1668.65 1065.64L1668.87 1065.4L1669.17 1063.68L1669.2 1044.2L1669.47 1063.54L1669.75 1062L1669.77 1061.91L1670.07 1061.74L1670.37 1060.02L1670.67 1059.94L1670.97 1058.3L1671.27 1058.25L1671.57 1058.59L1671.87 1060.5L1672.17 1061.05L1672.35 1062.09L1672.47 1062.75L1672.77 1063.28L1672.9 1037.5L1673.07 1065.04L1673.37 1065.42L1673.45 1065.98L1673.67 1067.44L1673.97 1067.84L1674.27 1069.84L1674.45 1070.1L1674.57 1070.26L1674.87 1072.52L1675 1045L1675.17 1073.26L1675.47 1075.52L1675.55 1075.72L1675.77 1076.23L1676.07 1078.52L1676.37 1079.06L1676.67 1080.61L1676.95 1080.71L1676.97 1080.71L1677.27 1082.29L1677.5 1056.25L1677.57 1082.52L1677.87 1083.97L1678.05 1083.98L1678.17 1083.98L1678.47 1085.18L1678.77 1084.21L1679.07 1084.78L1679.37 1083.85L1679.67 1084.38L1679.97 1083.49L1680.27 1083.98L1680.57 1083.07L1680.87 1083.47L1681.17 1081.46L1681.47 1081.07L1681.77 1079.09L1682.07 1078.67L1682.35 1077L1682.37 1076.9L1682.67 1076.27L1682.9 1049.2L1682.97 1074.16L1683.27 1071.77L1683.45 1069.55L1683.57 1068.13L1683.87 1065.77L1684.17 1061.96L1684.47 1059.77L1684.77 1054.91L1685.07 1050.55L1685.37 1044.82L1685.67 1040.55L1685.97 1034.95L1686.15 1032.26L1686.27 1030.55L1686.57 1024.9L1686.7 990L1686.87 1020.55L1687.17 1014.76L1687.25 1013.59L1687.47 1010.55L1687.77 1004.76L1688.07 1000.55L1688.37 995.01L1688.67 992.44L1688.97 988.45L1689.25 985.98L1689.27 985.84L1689.57 981.96L1689.8 958.3L1689.87 979.24L1690.17 979.19L1690.35 982.17L1690.47 984.07L1690.77 987.55L1691.07 992.17L1691.37 995.42L1691.67 1000.27L1691.97 1004.67L1692.27 1010.27L1692.57 1014.71L1692.87 1020.27L1693.17 1024.65L1693.47 1030.27L1693.77 1034.52L1694.07 1040.27L1694.37 1043.31L1694.45 1044.32L1694.67 1046.94L1694.97 1049.19L1695 1023.3L1695.27 1052.94L1695.55 1054.6L1695.57 1054.7L1695.87 1057.14L1696.17 1058.29L1696.47 1060.74L1696.77 1061.81L1697.07 1064.34L1697.37 1064.78L1697.67 1066.77L1697.97 1067.16L1698.27 1069.17L1698.57 1069.65L1698.87 1071.57L1699.17 1072L1699.47 1073.57L1699.77 1073.81L1700.07 1075.17L1700.37 1075.29L1700.67 1076.77L1700.97 1076.89L1701.27 1078.37L1701.57 1078.58L1701.87 1079.74L1702.17 1079.48L1702.35 1080.19L1702.47 1080.64L1702.77 1080.28L1702.9 1053.3L1703.07 1081.54L1703.37 1081.42L1703.45 1081.7L1703.67 1082.44L1703.97 1082.07L1704.27 1083.34L1704.45 1083.21L1704.57 1083.13L1704.87 1084.24L1705 1055L1705.17 1083.8L1705.47 1084.67L1705.55 1084.56L1705.77 1084.25L1706.07 1084.97L1706.37 1084.52L1706.67 1085.27L1706.97 1084.75L1707.27 1085.57L1707.35 1085.43L1707.57 1085.07L1707.87 1085.87L1707.9 1063.3L1708.17 1085.25L1708.45 1086L1708.47 1086.04L1708.77 1085.18L1709.07 1085.74L1709.37 1084.86L1709.67 1085.44L1709.97 1084.52L1710.27 1085.14L1710.57 1084.41L1710.87 1084.84L1711.15 1084.09L1711.17 1084.05L1711.47 1084.54L1711.7 1055.4L1711.77 1083.61L1712.07 1084.04L1712.25 1083.4L1712.37 1083L1712.67 1083.44L1712.75 1083.14L1712.97 1082.37L1713.27 1082.84L1713.3 1060.8L1713.57 1081.74L1713.85 1082.21L1713.87 1082.24L1714.17 1081.36L1714.47 1081.64L1714.77 1080.56L1715.07 1080.97L1715.25 1080.21L1715.37 1079.73L1715.67 1079.77L1715.8 1050.8L1715.97 1078.45L1716.27 1078.57L1716.35 1078.21L1716.57 1077.26L1716.87 1077.37L1717.17 1076.01L1717.35 1076.11L1717.47 1076.17L1717.77 1074.88L1717.9 1048.75L1718.07 1074.87L1718.37 1073.39L1718.45 1073.35L1718.67 1073.27L1718.97 1071.78L1719.27 1071.67L1719.57 1070.05L1719.87 1070.07L1720.17 1068.48L1720.47 1068.39L1720.7 1066.75L1720.77 1066.28L1721.07 1065.75L1721.25 1038.3L1721.37 1063.83L1721.67 1063.11L1721.8 1062.23L1721.97 1061.13L1722.27 1060.47L1722.57 1058.43L1722.87 1057.83L1723.17 1055.68L1723.2 1055.62L1723.47 1055.19L1723.75 1027.5L1723.77 1053.25L1724.07 1052.55L1724.3 1050.88L1724.37 1050.4L1724.67 1049.65L1724.97 1046.74L1725.27 1045.15L1725.57 1042.32L1725.7 1041.58L1725.87 1040.65L1726.17 1037.79L1726.25 1011.7L1726.47 1036.04L1726.77 1033.05L1726.8 1032.85L1727.07 1031.24L1727.37 1028.01L1727.67 1027.36L1727.97 1025.93L1728.2 1025.87L1728.27 1025.86L1728.57 1024.5L1728.75 1004.2L1728.87 1024.36L1729.17 1022.86L1729.3 1023.06L1729.47 1023.31L1729.77 1022.31L1730.07 1022.71L1730.37 1021.73L1730.67 1022.11L1730.7 1022L1730.97 1021.17L1731.25 997.5L1731.27 1021.51L1731.57 1020.6L1731.8 1020.22L1731.87 1020.11L1732.17 1017.81L1732.47 1017.11L1732.77 1015.02L1733.07 1014.11L1733.37 1011.92L1733.67 1010.27L1733.97 1007.32L1734.27 1005.77L1734.57 1002.74L1734.87 1001.27L1735.17 998.37L1735.47 996.77L1735.77 993.71L1736.07 992.27L1736.15 991.43L1736.37 989.22L1736.67 987.77L1736.7 963.3L1736.97 985.18L1737.25 983.85L1737.27 983.77L1737.57 981.14L1737.87 979.77L1738.17 973.16L1738.2 972.69L1738.47 968.94L1738.75 942.5L1738.77 965.11L1739.07 962.94L1739.3 960.02L1739.37 959.19L1739.67 956.52L1739.85 953.3L1739.97 951.25L1740.27 947.52L1740.4 920.4L1740.57 942.45L1740.87 938.52L1740.95 937.11L1741.17 933.42L1741.47 929.52L1741.77 924.32L1742.07 920.52L1742.37 916.74L1742.67 914.44L1742.97 910.79L1743.27 908.44L1743.57 904.73L1743.87 902.44L1744.17 898.84L1744.47 893.44L1744.77 886.61L1745.07 881.56L1745.37 875.1L1745.67 869.56L1745.97 863.08L1746.27 857.56L1746.57 851.03L1746.87 845.56L1747.17 838.94L1747.47 833.56L1747.77 827.03L1748.07 821.56L1748.37 814.99L1748.67 809.56L1748.97 802.94L1749.27 797.16L1749.57 789.4L1749.87 782.76L1750.17 774.99L1750.47 768.36L1750.77 760.7L1751.07 754.89L1751.37 748.37L1751.67 742.89L1751.97 736.28L1752.27 730.89L1752.57 723.75L1752.87 715.75L1753.17 706.54L1753.47 698.61L1753.77 689.01L1754.07 679.56L1754.37 668.99L1754.67 659.56L1754.97 650.47L1755.27 642.42L1755.57 633.38L1755.87 625.51L1756.17 618.59L1756.47 612.66L1756.77 605.6L1757.07 600.14L1757.37 594.65L1757.67 590.39L1757.97 584.98L1758.27 580.64L1758.57 576.24L1758.87 573.16L1759.17 568.97L1759.47 565.96L1759.77 561.75L1760.07 557.16L1760.37 545.84L1760.67 535.56L1760.97 524.19L1761.27 513.96L1761.57 502.54L1761.87 495.56L1762.17 489.02L1762.47 483.56L1762.77 476.96L1763.07 471.56L1763.37 465.06L1763.67 459.56L1763.97 452.98L1764.27 447.56L1764.57 440.98L1764.87 435.56L1765.17 428.92L1765.47 423.56L1765.77 416.98L1766.07 411.56L1766.37 405.02L1766.67 399.56L1766.97 392.96L1767.27 387.56L1767.57 380.91L1767.87 375.56L1768.17 369.08L1768.47 362.42L1768.77 353.24L1769.07 345.27L1769.37 336.23L1769.67 328.13L1769.97 319.03L1770.27 310.99L1770.57 301.82L1770.87 292.89L1771.17 282.42L1771.47 272.89L1771.77 262.26L1772.07 252.89L1772.37 242.32L1772.67 232.89L1772.97 221.45L1773.27 211.29L1773.57 199.95L1773.87 189.69L1774.17 178.39L1774.47 172.13L1774.77 169.86L1775.07 168.7L1775.37 166.45L1775.67 165.27L1775.97 163.04L1776.27 161.85L1776.57 159.55L1776.87 158.26L1776.95 157.55L1777.17 155.72L1777.47 154.36L1777.5 143.75L1777.77 151.93L1778.05 150.54L1778.07 150.46L1778.37 148L1778.67 146.73L1778.97 144.35L1779.27 143.13L1779.57 140.79L1779.87 138.39L1780.17 134.91L1780.47 132.39L1780.77 128.88L1781.07 124.84L1781.37 119.2L1781.67 113.85L1781.97 108.78L1782.27 109.73L1782.57 112.15L1782.87 114.99L1783.17 116.95L1783.47 120.89L1783.77 123.61L1784.07 127.61" stroke="#ff0000"/>
<path d="M279.6 263.74L279.9 273.8L280.2 281.72L280.5 292.27L280.8 299.59L281.1 309.72L281.4 316.14L281.7 323.85L282 329.18L282.3 336.75L282.6 341.89L282.9 349.31L283.2 354.01L283.5 361.19L283.8 365.43L284.1 372.98L284.4 377.25L284.7 389.5L285 399L285.3 416.04L285.6 429.32L285.9 447.65L286.2 453.9L286.5 458.93L286.8 460.82L287.1 466.21L287.4 467.8L287.7 472.68L288 473.32L288.3 477.26L288.6 477.9L288.9 482.27L289.2 482.59L289.5 487.11L289.8 487.67L290.1 492.48L290.4 494.53L290.7 500.19L291 502.04L291.3 507.63L291.6 507.63L291.9 511.42L292.2 511.42L292.5 515.08L292.8 515.82L293.1 519.75L293.4 521.66L293.7 527.43L294 529.4L294.3 535.37L294.6 537.27L294.9 543.05L295.2 543.6L295.5 547.05L295.8 547.18L296.1 549.98L296.4 551.29L296.7 558.12L297 562.69L297.3 570.41L297.6 574.41L297.9 582.17L298.2 585.41L298.5 593.36L298.8 593.55L299.1 600.37L299.4 598.09L299.7 604.75L300 603.9L300.3 620.19L300.6 627.96L300.9 642.71L301.2 641.83L301.5 650.18L301.8 648.75L302.1 657.26L302.4 656.41L302.7 663.78L303 661.31L303.3 670.66L303.6 666.85L303.9 675.51L304.2 673.3L304.5 680.7L304.8 678.87L305.1 686.22L305.4 684.17L305.7 690.96L306 686.9L306.3 694.08L306.6 690.75L306.9 698.41L307.2 693.86L307.5 701.24L307.8 696.58L308.1 705.05L308.4 696.76L308.7 702.73L309 694.63L309.3 700.47L309.6 691.99L309.9 698.39L310.2 691.95L310.5 695.76L310.8 688.32L311.1 691.12L311.4 681.84L311.7 684.79L312 676.23L312.3 681.07L312.6 672.45L312.9 674.33L313.2 664.58L313.5 667.85L313.8 659.15L314.1 660.71L314.4 652.86L314.7 657.16L315 647.89L315.3 650.27L315.6 642.16L315.9 643.29L316.2 637.39L316.5 642.57L316.8 638.14L317.1 641.61L317.4 637.94L317.7 642.77L318 636.63L318.3 640.29L318.6 634.72L318.9 640.68L319.2 635.05L319.5 638.7L319.8 633.72L320.1 639.57L320.4 633.18L320.7 636.6L321 628.31L321.3 630.94L321.6 620.84L321.9 624.49L322.2 616.18L322.5 620.6L322.8 613.07L323.1 617.15L323.4 608.93L323.7 613.21L324 603.65L324.3 608.27L324.6 600.14L324.9 604.18L325.2 594.48L325.5 598.76L325.8 589.17L326.1 593.34L326.4 585.98L326.7 590.36L327 583.1L327.3 587.34L327.6 582.53L327.9 586.16L328.2 579.68L328.5 584.63L328.8 580.16L329.1 586.63L329.4 582.45L329.7 587.95L330 582.9L330.3 589L330.6 584.68L330.9 590.47L331.2 587.02L331.5 591.63L331.8 586.62L332.1 592.89L332.4 588.09L332.7 594.2L333 587.9L333.3 594.45L333.6 588.94L333.9 598.1L334.2 593.21L334.5 599.91L334.8 594.91L335.1 602.36L335.4 596.81L335.7 600.78L336 596.51L336.3 602.19L336.6 597.62L336.9 603.68L337.2 597.55L337.5 604.73L337.8 601.31L338.1 609.15L338.4 606.57L338.7 614.54L339 611.56L339.3 619.97L339.6 621.41L339.9 632.51L340.2 630.24L340.5 639.81L340.8 636.85L341.1 647.64L341.4 645.02L341.7 651.29L342 648.12L342.3 656.45L342.6 654.43L342.9 662.93L343.2 659.91L343.5 668.44L343.8 666.01L344.1 671.74L344.4 669.79L344.7 676.55L345 671.82L345.3 682.21L345.6 676.23L345.9 684.09L346.2 679.7L346.5 687.84L346.8 684.58L347.1 692.95L347.4 690.55L347.7 699.96L348 695.39L348.3 702.5L348.6 695.82L348.9 703.35L349.2 695.22L349.5 700.97L349.8 694.19L350.1 702L350.4 696.68L350.7 701.49L351 697.11L351.3 701.73L351.6 695.97L351.9 701.45L352.2 696.4L352.5 703.72L352.8 696.57L353.1 703.75L353.4 697.23L353.7 704.69L354 699.5L354.3 706.92L354.6 704.6L354.9 714.55L355.2 709.05L355.5 721.63L355.8 716.72L356.1 726.66L356.4 727.39L356.7 737.65L357 738.45L357.3 746.95L357.6 748.81L357.9 761.42L358.2 763.42L358.5 774.82L358.8 776.91L359.1 786.31L359.4 787.41L359.7 797.43L360 804.68L360.3 822.1L360.6 830.42L360.9 848.59L361.2 851.47L361.5 865.23L361.8 869.54L362.1 883.2L362.4 888.23L362.7 899.62L363 903.99L363.3 914.57L363.6 918.91L363.9 930.62L364.2 932.8L364.5 944.99L364.8 946.99L365.1 958.02L365.4 959.74L365.7 968.09L366 967.88L366.3 978.27L366.6 970.89L366.9 975.21L367.2 967.85L367.5 968.91L367.8 961.32L368.1 963.82L368.4 955.76L368.7 959.8L369 953.98L369.3 956.03L369.6 950.72L369.9 954.34L370.2 948.06L370.5 947.28L370.8 941.16L371.1 941.78L371.4 934.2L371.7 938.57L372 933.31L372.3 936.06L372.6 928.72L372.9 929.76L373.2 922.21L373.5 921.96L373.8 913.14L374.1 914.19L374.4 903.3L374.7 901.62L375 891.28L375.3 888.7L375.6 878.36L375.9 876.9L376.2 867.66L376.5 868.28L376.8 857.03L377.1 857.83L377.4 847.47L377.7 847.36L378 839.62L378.3 840.34L378.6 831.7L378.9 833.22L379.2 825L379.5 826.24L379.8 817.3L380.1 817.81L380.4 808.13L380.7 808.21L381 803.97L381.3 812.41L381.6 809.53L381.9 813.26L382.2 805.14L382.5 806.41L382.8 800.31L383.1 800.8L383.4 792.97L383.7 794.49L384 783.91L384.3 785.45L384.6 774.48L384.9 775.52L385.2 766.34L385.5 768.04L385.8 758.79L386.1 759.78L386.4 750.94L386.7 750.86L387 743.12L387.3 742.94L387.6 734.23L387.9 736.15L388.2 725.26L388.5 725.19L388.8 713.38L389.1 710.59L389.4 698.96L389.7 700L390 687.73L390.3 689.59L390.6 679.23L390.9 682.5L391.2 672.34L391.5 674.98L391.8 666.4L392.1 672.03L392.4 662.63L392.7 666.58L393 660.14L393.3 666.89L393.6 664.5L393.9 669.55L394.2 666.46L394.5 674.72L394.8 668.43L395.1 676.76L395.4 672.64L395.7 679.41L396 675.32L396.3 682.8L396.6 678.33L396.9 684.8L397.2 680.82L397.5 687.9L397.8 680.54L398.1 686.55L398.4 680.41L398.7 687.74L399 681.43L399.3 689.62L399.6 684.87L399.9 691.82L400.2 686.91L400.5 695.13L400.8 688.81L401.1 696.36L401.4 693.93L401.7 700.23L402 695.8L402.3 701.75L402.6 699.3L402.9 705L403.2 700.92L403.5 708.15L403.8 701.71L404.1 706.51L404.4 696.68L404.7 700.93L405 691.04L405.3 695.89L405.6 688.24L405.9 693.66L406.2 684.15L406.5 688.77L406.8 684.52L407.1 688.23L407.4 679.95L407.7 685.75L408 677.72L408.3 682.84L408.6 675.95L408.9 681.21L409.2 672.92L409.5 679.54L409.8 671.37L410.1 676.4L410.4 672.24L410.7 677.45L411 672.3L411.3 676.38L411.6 671.35L411.9 677.09L412.2 671.36L412.5 677.25L412.8 673.95L413.1 680.96L413.4 679.49L413.7 688.48L414 683.15L414.3 689.64L414.6 683.61L414.9 690.87L415.2 685.81L415.5 693.13L415.8 688.08L416.1 694.26L416.4 688.95L416.7 691.85L417 685.42L417.3 688.05L417.6 682.64L417.9 686.69L418.2 679.12L418.5 685.33L418.8 678.34L419.1 681.3L419.4 675.27L419.7 682.13L420 675.44L420.3 678.62L420.6 673.01L420.9 677.56L421.2 675.73L421.5 681.88L421.8 678.19L422.1 686.06L422.4 682.21L422.7 687.11L423 681.73L423.3 685.45L423.6 676.64L423.9 680.81L424.2 673.08L424.5 681.4L424.8 677L425.1 681.87L425.4 679.43L425.7 685.27L426 679.88L426.3 686.1L426.6 682.17L426.9 687.71L427.2 685.1L427.5 691.8L427.8 681.81L428.1 686.55L428.4 678.7L428.7 682.39L429 672.24L429.3 679.6L429.6 673.25L429.9 679.37L430.2 674.19L430.5 682.46L430.8 676.03L431.1 683L431.4 678.05L431.7 688.74L432 683.25L432.3 691.33L432.6 689.57L432.9 696.74L433.2 694.37L433.5 702.44L433.8 696.67L434.1 698.84L434.4 692.89L434.7 695.17L435 687.38L435.3 691.69L435.6 682.94L435.9 687.79L436.2 680.55L436.5 683.73L436.8 676.58L437.1 680.08L437.4 672.84L437.7 675.28L438 669.34L438.3 674.86L438.6 666.46L438.9 672.52L439.2 666.66L439.5 670.3L439.8 665.55L440.1 670.01L440.4 664.63L440.7 669.21L441 664.3L441.3 669.87L441.6 662.16L441.9 667.61L442.2 661.81L442.5 668.79L442.8 660.67L443.1 664.39L443.4 656.65L443.7 659.97L444 651.98L444.3 656.77L444.6 647.76L444.9 653.4L445.2 646.7L445.5 650.59L445.8 642.69L446.1 649.33L446.4 640.78L446.7 646.82L447 638.86L447.3 644.1L447.6 638.36L447.9 643.3L448.2 634.28L448.5 640.46L448.8 634.67L449.1 638.28L449.4 631.85L449.7 635.27L450 630.66L450.3 634.61L450.6 629.29L450.9 631.88L451.2 627.62L451.5 630.73L451.8 624.78L452.1 631.52L452.4 626.68L452.7 632.9L453 626.42L453.3 631.64L453.6 624.25L453.9 628.44L454.2 619.69L454.5 622.3L454.8 613.71L455.1 616.65L455.4 611.27L455.7 620.74L456 615.67L456.3 622.6L456.6 616.67L456.9 625.54L457.2 621.41L457.5 628.15L457.8 622.83L458.1 631.81L458.4 625.94L458.7 633.75L459 630.43L459.3 636.33L459.6 632.21L459.9 638.78L460.2 634.32L460.5 643.09L460.8 638.85L461.1 646.92L461.4 644.51L461.7 650.32L462 647.91L462.3 655.36L462.6 651.66L462.9 660.59L463.2 658.38L463.5 665.35L463.8 663.01L464.1 670.84L464.4 670.57L464.7 681.25L465 682.42L465.3 692.26L465.6 692.21L465.9 702.98L466.2 707.96L466.5 722.04L466.8 725.8L467.1 740.68L467.4 751.35L467.7 771.65L468 777.03L468.3 793.63L468.6 795.57L468.9 806.86L469.2 806.22L469.5 818.68L469.8 816.7L470.1 827.42L470.4 824.99L470.7 835.3L471 834.23L471.3 843L471.6 839.1L471.9 847.25L472.2 843.63L472.5 853.09L472.8 850.42L473.1 858.5L473.4 853.44L473.7 856.01L474 846.58L474.3 849.53L474.6 841.06L474.9 847.45L475.2 842.62L475.5 847.87L475.8 843.28L476.1 848.78L476.4 846.39L476.7 856.65L477 855.99L477.3 867.1L477.6 864.52L477.9 869.9L478.2 862.36L478.5 867.64L478.8 860.02L479.1 873.85L479.4 875.6L479.7 888.84L480 890.16L480.3 902.28L480.6 902.58L480.9 914.73L481.2 918.09L481.5 936.73L481.8 941.96L482.1 954.94L482.4 956.26L482.7 967.35L483 964.03L483.3 971.9L483.6 970.46L483.9 980.04L484.2 980.47L484.5 992.74L484.8 988.69L485.1 993.05L485.4 986.59L485.7 990.81L486 984.67L486.3 987.25L486.6 979.82L486.9 985.01L487.2 977.44L487.5 981.09L487.8 972.57L488.1 975.33L488.4 969.08L488.7 972.31L489 966.37L489.3 969.73L489.6 962.12L489.9 967.07L490.2 961.12L490.5 964.99L490.8 961.36L491.1 970.24L491.4 968.2L491.7 974.73L492 972.69L492.3 980.38L492.6 977.99L492.9 987.88L493.2 987.18L493.5 997.69L493.8 995.44L494.1 1000.04L494.4 994.8L494.7 998.31L495 992.58L495.3 997.15L495.6 992.66L495.9 997.22L496.2 989.69L496.5 996.06L496.8 989.66L497.1 993.93L497.4 982.35L497.7 982.67L498 974.03L498.3 973.2L498.6 961.78L498.9 962.09L499.2 950.49L499.5 948.37L499.8 937.89L500.1 937.07L500.4 927.02L500.7 924.98L501 913.32L501.3 907.2L501.6 893.12L501.9 890.52L502.2 880.73L502.5 877.85L502.8 868.28L503.1 866.2L503.4 856.24L503.7 853.33L504 842.26L504.3 837.32L504.6 825.59L504.9 823.35L505.2 813.92L505.5 811.33L505.8 803.59L506.1 802.24L506.4 793.45L506.7 792.47L507 782.07L507.3 783.51L507.6 776.31L507.9 775.86L508.2 768.34L508.5 768.84L508.8 763.15L509.1 763.51L509.4 755.05L509.7 754.13L510 746.44L510.3 745.4L510.6 736.84L510.9 737.7L511.2 727.45L511.5 728.72L511.8 722.99L512.1 731.65L512.4 734.08L512.7 742.9L513 742.91L513.3 753.14L513.6 753.96L513.9 760.12L514.2 757.82L514.5 767.98L514.8 768.44L515.1 776.26L515.4 776.58L515.7 785.8L516 786.29L516.3 796.14L516.6 798.51L516.9 807.58L517.2 809.65L517.5 821.28L517.8 821.71L518.1 832.72L518.4 833.39L518.7 844.19L519 845.19L519.3 854.67L519.6 855.95L519.9 866.68L520.2 869.63L520.5 878.41L520.8 880.87L521.1 891.33L521.4 894.52L521.7 904.22L522 902.82L522.3 911L522.6 910.81L522.9 917.42L523.2 917.34L523.5 927.22L523.8 932.01L524.1 945.06L524.4 945.79L524.7 954.22L525 955.84L525.3 963.26L525.6 964.23L525.9 973.71L526.2 975.05L526.5 984.94L526.8 987.82L527.1 997.51L527.4 996.49L527.7 1002.32L528 1002.31L528.3 1009.3L528.6 1008.5L528.9 1016.53L529.2 1014.87L529.5 1023.45L529.8 1023.74L530.1 1031.18L530.4 1029.18L530.7 1038.12L531 1037.41L531.3 1042.82L531.6 1041.46L531.9 1047.83L532.2 1044.58L532.5 1053.32L532.8 1053.35L533.1 1065.39L533.4 1066.43L533.7 1072.89L534 1069.3L534.3 1075.92L534.6 1072.65L534.9 1079.25L535.2 1073.04L535.5 1077.54L535.8 1072.72L536.1 1075.7L536.4 1071.49L536.7 1076.25L537 1069.43L537.3 1074.99L537.6 1070.8L537.9 1075.12L538.2 1070.32L538.5 1076.19L538.8 1066.35L539.1 1055.87L539.4 1042.53L539.7 1041.6L540 1030.2L540.3 1030.76L540.6 1020.36L540.9 1020.49L541.2 1010.51L541.5 1008.39L541.8 997.51L542.1 997.01L542.4 988.63L542.7 988.59L543 980.03L543.3 982.19L543.6 973.14L543.9 977.09L544.2 970.3L544.5 973.64L544.8 965.4L545.1 974.18L545.4 969.27L545.7 978.24L546 972.93L546.3 981.47L546.6 977.57L546.9 986.76L547.2 982.97L547.5 990.13L547.8 987.53L548.1 995.47L548.4 994.27L548.7 1002.09L549 1000.25L549.3 1007.4L549.6 1002.29L549.9 1009.34L550.2 1004.5L550.5 1010.3L550.8 1009.62L551.1 1017.47L551.4 1015.1L551.7 1017.97L552 1008.02L552.3 1006.97L552.6 995.05L552.9 1001.05L553.2 994.63L553.5 998.21L553.8 992.53L554.1 995.27L554.4 990.36L554.7 994.73L555 988.12L555.3 993.26L555.6 985.96L555.9 991.24L556.2 984.04L556.5 990.42L556.8 985.38L557.1 991.11L557.4 987.73L557.7 996.69L558 993.81L558.3 1004.96L558.6 1003.76L558.9 1010.2L559.2 1009.48L559.5 1017.14L559.8 1013.84L560.1 1021.2L560.4 1019.82L560.7 1021.77L561 1014.94L561.3 1019.04L561.6 1011.87L561.9 1015.82L562.2 1006.82L562.5 1008.89L562.8 1000.14L563.1 1000.69L563.4 993.7L563.7 993.88L564 984.7L564.3 982.6L564.6 973.57L564.9 974.3L565.2 962.25L565.5 963.33L565.8 955.18L566.1 954.97L566.4 945.77L566.7 948.42L567 940.95L567.3 943.19L567.6 937.84L567.9 941.58L568.2 933.7L568.5 939.1L568.8 938.3L569.1 945.89L569.4 944.56L569.7 954.04L570 953.29L570.3 962.54L570.6 963.43L570.9 976.57L571.2 991.9L571.5 1003.37L571.8 999.09L572.1 1004.73L572.4 1001.81L572.7 1007.45L573 1004.81L573.3 1008.56L573.6 1001.81L573.9 1006.61L574.2 1001.96L574.5 1005.23L574.8 999.79L575.1 1002.7L575.4 994.79L575.7 998.29L576 991.81L576.3 999.2L576.6 992.79L576.9 998.72L577.2 995.07L577.5 1001.23L577.8 996.13L578.1 991.5L578.4 976.28L578.7 979.9L579 973.67L579.3 979.27L579.6 974.25L579.9 977.82L580.2 974.74L580.5 981.09L580.8 977.82L581.1 983.95L581.4 980.8L581.7 986.02L582 970.1L582.3 966.82L582.6 951.82L582.9 947.68L583.2 938.8L583.5 939.31L583.8 930L584.1 932.17L584.4 923.18L584.7 924.76L585 916.3L585.3 883.35L585.6 870.06L585.9 861.63L586.2 846.65L586.5 841.49L586.8 834.19L587.1 831.31L587.4 824.18L587.7 821.6L588 813.65L588.3 813.77L588.6 807.23L588.9 806.92L589.2 801.97L589.5 803.03L589.8 799.19L590.1 801.2L590.4 797.56L590.7 799.31L591 794.83L591.3 799.02L591.6 797.05L591.9 800.87L592.2 797.79L592.5 800.79L592.8 799.2L593.1 803.23L593.4 802.35L593.7 805.86L594 804.08L594.3 808.89L594.6 806.36L594.9 810.82L595.2 808.9L595.5 811.51L595.8 808.3L596.1 811.25L596.4 808.06L596.7 810.98L597 807.88L597.3 809.27L597.6 805.82L597.9 805.02L598.2 799.68L598.5 798.41L598.8 792.45L599.1 791.88L599.4 785.03L599.7 784.64L600 778.34L600.3 776.35L600.6 769.57L600.9 767.2L601.2 754.02L601.5 747.85L601.8 736.21L602.1 734.37L602.4 727.62L602.7 725.69L603 718.07L603.3 716.62L603.6 710.23L603.9 710.51L604.2 705.01L604.5 705.1L604.8 698.88L605.1 698.53L605.4 694.39L605.7 695.27L606 689.45L606.3 690.98L606.6 685.83L606.9 689.28L607.2 688.31L607.5 691.84L607.8 691.11L608.1 694.85L608.4 690.05L608.7 690.42L609 685.33L609.3 688.04L609.6 682.78L609.9 684.3L610.2 680.09L610.5 682.26L610.8 678.4L611.1 681.73L611.4 678.15L611.7 681.05L612 677.13L612.3 679.68L612.6 675.81L612.9 678.2L613.2 674.28L613.5 675.88L613.8 671.77L614.1 674.5L614.4 670.66L614.7 672.35L615 668.69L615.3 670.66L615.6 664.65L615.9 667.4L616.2 661.9L616.5 663.3L616.8 658.59L617.1 660.77L617.4 655.88L617.7 656.62L618 649.98L618.3 649.56L618.6 644.61L618.9 643.81L619.2 638.09L619.5 640.85L619.8 637.1L620.1 639.19L620.4 635.81L620.7 638.02L621 635.4L621.3 638.5L621.6 635.93L621.9 640.81L622.2 637.62L622.5 641.34L622.8 636.22L623.1 638.87L623.4 633.26L623.7 635.08L624 630.33L624.3 634.54L624.6 636.37L624.9 642.54L625.2 643.77L625.5 647.26L625.8 643.03L626.1 644.3L626.4 638.69L626.7 640.39L627 636.79L627.3 637.7L627.6 632.8L627.9 636.78L628.2 632.36L628.5 635.34L628.8 632.67L629.1 635.37L629.4 630.54L629.7 631.86L630 628.65L630.3 629.27L630.6 624.63L630.9 626.87L631.2 622.45L631.5 625.13L631.8 623.59L632.1 627.93L632.4 626.64L632.7 630.6L633 629.45L633.3 633.6L633.6 631.41L633.9 634.98L634.2 632.06L634.5 635.63L634.8 634.16L635.1 638.23L635.4 635.24L635.7 639.35L636 636.5L636.3 641.04L636.6 637.31L636.9 641.45L637.2 638.28L637.5 641.6L637.8 638.95L638.1 642.77L638.4 640.18L638.7 645.12L639 644.93L639.3 649.91L639.6 649.14L639.9 654.6L640.2 653.15L640.5 657.78L640.8 657.4L641.1 662.37L641.4 661.22L641.7 666.02L642 665.51L642.3 669.34L642.6 666.9L642.9 671.26L643.2 669.04L643.5 674.2L643.8 672.01L644.1 676.56L644.4 672.03L644.7 673.72L645 668.45L645.3 671.11L645.6 665.92L645.9 667.67L646.2 662.6L646.5 664.59L646.8 661.06L647.1 662.88L647.4 658.68L647.7 660.85L648 657.74L648.3 659.79L648.6 655.93L648.9 658.38L649.2 656.12L649.5 660.23L649.8 657.19L650.1 661.63L650.4 658.77L650.7 663.27L651 660.31L651.3 666.17L651.6 664.22L651.9 668.66L652.2 667.11L652.5 665.96L652.8 660.31L653.1 659.83L653.4 654.82L653.7 655.05L654 650.02L654.3 649.95L654.6 644.8L654.9 645.97L655.2 639.2L655.5 638.1L655.8 630.17L656.1 629.47L656.4 622.82L656.7 621.12L657 613.62L657.3 613.68L657.6 606.64L657.9 605.9L658.2 597.92L658.5 599.03L658.8 595.16L659.1 596.82L659.4 592.01L659.7 593.9L660 590.28L660.3 592.74L660.6 588.7L660.9 590.29L661.2 587.07L661.5 588.72L661.8 584.78L662.1 588.3L662.4 583.63L662.7 584.86L663 581.34L663.3 582.3L663.6 577.28L663.9 578.87L664.2 574.67L664.5 578.1L664.8 574.59L665.1 577.06L665.4 574.75L665.7 578.11L666 576.43L666.3 580.25L666.6 578.17L666.9 582.68L667.2 581.95L667.5 586.21L667.8 586.3L668.1 590.63L668.4 589.44L668.7 595.54L669 594.19L669.3 598.74L669.6 596.22L669.9 600.33L670.2 598.7L670.5 602.82L670.8 601.02L671.1 604.68L671.4 603.13L671.7 607.05L672 604.51L672.3 606.31L672.6 602.73L672.9 604.86L673.2 601.4L673.5 603.78L673.8 598.56L674.1 600.56L674.4 594.88L674.7 596.54L675 591.15L675.3 594.46L675.6 590.54L675.9 593.22L676.2 589.16L676.5 591.39L676.8 587.64L677.1 589.7L677.4 585.52L677.7 586.8L678 580.55L678.3 582.96L678.6 576.51L678.9 578.79L679.2 574.12L679.5 574.17L679.8 569.62L680.1 571.03L680.4 565.49L680.7 567.67L681 562.96L681.3 565.49L681.6 561.85L681.9 565.08L682.2 561.17L682.5 563.91L682.8 560.06L683.1 563.31L683.4 559.29L683.7 563.88L684 561.06L684.3 566.24L684.6 563.93L684.9 568.14L685.2 566.9L685.5 574.78L685.8 574.49L686.1 582.16L686.4 582.43L686.7 588.36L687 589.15L687.3 596.39L687.6 596.12L687.9 602.85L688.2 603.23L688.5 608.88L688.8 607.9L689.1 614.14L689.4 612.51L689.7 616L690 611.27L690.3 612.95L690.6 607.74L690.9 610.6L691.2 605.42L691.5 606.4L691.8 601.04L692.1 602.37L692.4 597.04L692.7 597.55L693 592.86L693.3 593.37L693.6 588.53L693.9 590.94L694.2 586.16L694.5 587.76L694.8 583.57L695.1 584.68L695.4 581.05L695.7 585.43L696 583.94L696.3 587.98L696.6 587.16L696.9 591.42L697.2 591.03L697.5 597.28L697.8 598.51L698.1 604.49L698.4 605.42L698.7 612.84L699 614.63L699.3 622.21L699.6 625.26L699.9 633.23L700.2 634.07L700.5 639.22L700.8 639L701.1 645.3L701.4 643.9L701.7 650.41L702 647.58L702.3 652.82L702.6 650.54L702.9 655.53L703.2 653.84L703.5 658.4L703.8 654.94L704.1 657.74L704.4 653.48L704.7 656.34L705 651.75L705.3 654.57L705.6 650.29L705.9 652.67L706.2 648.99L706.5 650.27L706.8 646.16L707.1 647.35L707.4 642.72L707.7 644.66L708 640.7L708.3 641.45L708.6 636.36L708.9 638.23L709.2 633L709.5 633.66L709.8 628.73L710.1 629.13L710.4 625.18L710.7 625.84L711 621.42L711.3 623.23L711.6 618.73L711.9 619.9L712.2 614.4L712.5 617.12L712.8 612.71L713.1 614.47L713.4 611.38L713.7 613.14L714 610.1L714.3 612.36L714.6 607.86L714.9 611.93L715.2 609.49L715.5 612.65L715.8 609.47L716.1 613.1L716.4 611.23L716.7 614.74L717 611.63L717.3 616.08L717.6 613.66L717.9 618.28L718.2 615.82L718.5 619.78L718.8 617.04L719.1 621.06L719.4 619.33L719.7 623.58L720 623.16L720.3 626.51L720.6 625.63L720.9 630.3L721.2 627.82L721.5 631.02L721.8 628.23L722.1 633.13L722.4 629.61L722.7 631.67L723 627.84L723.3 629.3L723.6 625.78L723.9 626.25L724.2 622.66L724.5 624.12L724.8 619.22L725.1 621.42L725.4 618.09L725.7 620.74L726 616.36L726.3 619.18L726.6 614.73L726.9 617.27L727.2 613.68L727.5 616.35L727.8 611.71L728.1 615.34L728.4 615.43L728.7 620.44L729 620.97L729.3 624.57L729.6 621.38L729.9 622.7L730.2 619.44L730.5 622.58L730.8 618.56L731.1 620.72L731.4 616.69L731.7 618.14L732 613.95L732.3 616.38L732.6 612.69L732.9 615.69L733.2 614.48L733.5 618.48L733.8 615.92L734.1 620.25L734.4 617.64L734.7 622.11L735 620.33L735.3 622.45L735.6 617.04L735.9 619.91L736.2 614.53L736.5 617.33L736.8 612.95L737.1 614.48L737.4 609.47L737.7 613.48L738 610.41L738.3 614.42L738.6 611.58L738.9 615.78L739.2 614.58L739.5 618.27L739.8 615.84L740.1 620.33L740.4 617.94L740.7 621.44L741 619.04L741.3 623.71L741.6 620.96L741.9 623.77L742.2 619.6L742.5 622.76L742.8 618.05L743.1 619.43L743.4 615.32L743.7 618.38L744 613.37L744.3 616.49L744.6 612.48L744.9 615.81L745.2 612.55L745.5 615.22L745.8 611.21L746.1 613.33L746.4 610.96L746.7 613.2L747 610.2L747.3 612.44L747.6 609.24L747.9 611.77L748.2 607.34L748.5 610.36L748.8 607.05L749.1 610.23L749.4 606.58L749.7 608.85L750 605.16L750.3 609.07L750.6 604.82L750.9 607.83L751.2 604.77L751.5 606.46L751.8 602.65L752.1 606.45L752.4 602.27L752.7 604.87L753 600.38L753.3 603.6L753.6 600.07L753.9 602.77L754.2 599.47L754.5 601.55L754.8 598.62L755.1 601.23L755.4 598.93L755.7 604.13L756 602.41L756.3 606.29L756.6 604.92L756.9 609.44L757.2 607.2L757.5 612.55L757.8 610.71L758.1 614.71L758.4 614.5L758.7 618.83L759 616.33L759.3 618.66L759.6 617.29L759.9 620.39L760.2 618.18L760.5 621.4L760.8 618.17L761.1 622.33L761.4 618.75L761.7 621.67L762 618.73L762.3 622.3L762.6 619.26L762.9 622.76L763.2 620.48L763.5 623.22L763.8 620.23L764.1 623.13L764.4 620.98L764.7 624.68L765 621.37L765.3 624.9L765.6 621.46L765.9 625.7L766.2 624.65L766.5 628.93L766.8 627.04L767.1 632.71L767.4 631.25L767.7 636.37L768 635.77L768.3 642.51L768.6 641.83L768.9 647.47L769.2 646.34L769.5 651.78L769.8 650.61L770.1 654.7L770.4 653.59L770.7 657.68L771 657.25L771.3 661.11L771.6 659.18L771.9 664.21L772.2 661.56L772.5 666.59L772.8 663.94L773.1 668.46L773.4 667.57L773.7 671.33L774 669.27L774.3 673.94L774.6 672.44L774.9 677.68L775.2 677.04L775.5 682.64L775.8 681.68L776.1 687.22L776.4 686.27L776.7 693.28L777 694.39L777.3 701.26L777.6 701.8L777.9 709.1L778.2 712.11L778.5 720.65L778.8 723.88L779.1 731.51L779.4 732.55L779.7 740.2L780 740.56L780.3 747.41L780.6 748.72L780.9 755.26L781.2 754.69L781.5 759.26L781.8 758.09L782.1 762.37L782.4 757.74L782.7 758.05L783 753.13L783.3 753.52L783.6 747.62L783.9 747.81L784.2 741.89L784.5 742.26L784.8 735.93L785.1 737.19L785.4 731.48L785.7 730.65L786 725.1L786.3 725.68L786.6 720.85L786.9 721.58L787.2 715.7L787.5 717.22L787.8 712.9L788.1 713.59L788.4 710.16L788.7 712.15L789 707.11L789.3 710.81L789.6 708.59L789.9 712.63L790.2 710.18L790.5 714.98L790.8 713.24L791.1 717.02L791.4 715.42L791.7 720.71L792 718.86L792.3 723.61L792.6 722.07L792.9 725.64L793.2 724.93L793.5 726.37L793.8 721.39L794.1 722.49L794.4 715.99L794.7 716.59L795 711.59L795.3 712.29L795.6 705.62L795.9 705.01L796.2 699.18L796.5 698.01L796.8 691.24L797.1 690.88L797.4 685.07L797.7 682.87L798 675.48L798.3 674.81L798.6 667.11L798.9 665.82L799.2 657.93L799.5 659.59L799.8 653.34L800.1 653.68L800.4 649.09L800.7 648.83L801 644.12L801.3 646.33L801.6 641.92L801.9 643.92L802.2 638.5L802.5 639.73L802.8 635.45L803.1 637.6L803.4 632.62L803.7 634.11L804 630.01L804.3 630.68L804.6 626.72L804.9 627.85L805.2 623.36L805.5 625.44L805.8 619.8L806.1 621.99L806.4 617.33L806.7 618.59L807 612.98L807.3 614.23L807.6 609.6L807.9 610.19L808.2 605.89L808.5 606.45L808.8 601.51L809.1 602.47L809.4 597.29L809.7 598.7L810 593.44L810.3 594.65L810.6 589.6L810.9 591.82L811.2 587.54L811.5 590.19L811.8 585.68L812.1 587.59L812.4 583.19L812.7 586.56L813 581.85L813.3 584.09L813.6 581.4L813.9 586.07L814.2 584.78L814.5 588.95L814.8 587.14L815.1 592.71L815.4 591.52L815.7 597.27L816 596.5L816.3 601.88L816.6 601.64L816.9 606.31L817.2 605.32L817.5 609.06L817.8 608.83L818.1 612.56L818.4 612.6L818.7 616.78L819 613.97L819.3 617.8L819.6 615.39L819.9 618.94L820.2 617.52L820.5 621.02L820.8 617.87L821.1 622.33L821.4 618.84L821.7 622.76L822 620.96L822.3 624.55L822.6 621.58L822.9 625.58L823.2 622.9L823.5 626.25L823.8 624.93L824.1 627.6L824.4 625.59L824.7 629.91L825 629.1L825.3 632.29L825.6 630.69L825.9 635.1L826.2 633.14L826.5 636.97L826.8 635.29L827.1 640.85L827.4 639.87L827.7 644.39L828 644.31L828.3 648.86L828.6 648.67L828.9 652.74L829.2 652.99L829.5 658.7L829.8 657.05L830.1 662.92L830.4 661.64L830.7 666.76L831 666.97L831.3 672.16L831.6 671.95L831.9 677.38L832.2 677.74L832.5 683.97L832.8 682.94L833.1 688.76L833.4 689.16L833.7 695.53L834 695.86L834.3 701.94L834.6 700.63L834.9 707.38L835.2 707.35L835.5 713.65L835.8 713.98L836.1 719.58L836.4 720.92L836.7 727.33L837 726.61L837.3 733.01L837.6 731.98L837.9 738.45L838.2 738.68L838.5 743.16L838.8 743.67L839.1 748.98L839.4 749.78L839.7 751.64L840 747.34L840.3 748.28L840.6 743.38L840.9 744.9L841.2 739.79L841.5 740.03L841.8 734.26L842.1 734.55L842.4 729.66L842.7 730.5L843 724.26L843.3 725.54L843.6 719.48L843.9 719.44L844.2 714.83L844.5 714.05L844.8 709.48L845.1 710.09L845.4 703.87L845.7 704.19L846 699.38L846.3 699.97L846.6 694.18L846.9 695.95L847.2 691.1L847.5 691.58L847.8 686.79L848.1 689.34L848.4 684.23L848.7 686.56L849 682.74L849.3 685.5L849.6 682.7L849.9 687.04L850.2 684.55L850.5 687.85L850.8 686.8L851.1 690.66L851.4 687.83L851.7 691.62L852 690.19L852.3 695.57L852.6 693.42L852.9 698.8L853.2 696.77L853.5 701.41L853.8 699.69L854.1 704.75L854.4 703.75L854.7 710.35L855 709.24L855.3 715.71L855.6 715.45L855.9 721.16L856.2 720.71L856.5 725.87L856.8 726.44L857.1 731.65L857.4 730.7L857.7 736.9L858 737.02L858.3 741.83L858.6 740.52L858.9 743.74L859.2 743.32L859.5 745.61L859.8 742.26L860.1 743.91L860.4 740.72L860.7 744.04L861 740.24L861.3 744.2L861.6 737.89L861.9 743.97L862.2 739.19L862.5 742.36L862.8 738.48L863.1 743.69L863.4 736.58L863.7 741.22L864 738.24L864.3 743.09L864.6 737.58L864.9 741.64L865.2 736.22L865.5 740.79L865.8 736.39L866.1 740.68L866.4 735.38L866.7 737.64L867 731.95L867.3 734.02L867.6 728.94L867.9 731.13L868.2 724.83L868.5 727.58L868.8 722.68L869.1 726.09L869.4 718.71L869.7 722.28L870 716.11L870.3 720.94L870.6 711.98L870.9 714.16L871.2 706.37L871.5 708.7L871.8 702.71L872.1 707.71L872.4 704.68L872.7 713.95L873 711.81L873.3 719.43L873.6 714.98L873.9 722.34L874.2 718.47L874.5 724.76L874.8 719.57L875.1 729.27L875.4 731.72L875.7 744.26L876 744.79L876.3 752.97L876.6 752.56L876.9 761.83L877.2 759.1L877.5 765.74L877.8 761.98L878.1 768.95L878.4 764.69L878.7 771.99L879 772.74L879.3 780.54L879.6 771.99L879.9 776.94L880.2 770.02L880.5 774.78L880.8 766.68L881.1 772.7L881.4 769.46L881.7 776.5L882 772.06L882.3 779.58L882.6 774.08L882.9 776.67L883.2 770.55L883.5 774.7L883.8 768.39L884.1 772.09L884.4 765.03L884.7 768.55L885 760.61L885.3 765.5L885.6 758.47L885.9 761.09L886.2 756.93L886.5 760.87L886.8 752.42L887.1 756.97L887.4 751.24L887.7 753.85L888 748.22L888.3 749.67L888.6 743.19L888.9 744.87L889.2 736.61L889.5 736.62L889.8 728.6L890.1 729.47L890.4 721.93L890.7 727.23L891 718.79L891.3 722.23L891.6 714.22L891.9 718.82L892.2 713.1L892.5 717.35L892.8 710.44L893.1 714.58L893.4 709.39L893.7 712.88L894 705.52L894.3 711.55L894.6 703.84L894.9 708.23L895.2 703.21L895.5 707.78L895.8 699.95L896.1 704.6L896.4 700.7L896.7 703.45L897 697.24L897.3 703.24L897.6 695.23L897.9 700.08L898.2 693.85L898.5 697.71L898.8 691.54L899.1 695.19L899.4 690.03L899.7 694.89L900 692.27L900.3 697.32L900.6 694.82L900.9 701.59L901.2 698.1L901.5 704.85L901.8 700.27L902.1 707.41L902.4 703.72L902.7 708.9L903 703.47L903.3 709.79L903.6 703.71L903.9 707.68L904.2 702.41L904.5 709.08L904.8 704.04L905.1 710.5L905.4 704.19L905.7 710.46L906 706.48L906.3 713.02L906.6 707.44L906.9 713.3L907.2 710.2L907.5 714.91L907.8 709.38L908.1 713.17L908.4 708.9L908.7 712.56L909 707.47L909.3 711.97L909.6 709.33L909.9 715.02L910.2 710L910.5 718.15L910.8 713.13L911.1 719.29L911.4 714.29L911.7 721.2L912 717.86L912.3 723.77L912.6 718.95L912.9 721.87L913.2 717.15L913.5 720.9L913.8 714.34L914.1 719.02L914.4 713.78L914.7 718.11L915 715.27L915.3 719.41L915.6 713.3L915.9 719.1L916.2 718.58L916.5 724.81L916.8 722.38L917.1 731.82L917.4 729.1L917.7 736.79L918 734.05L918.3 740.45L918.6 734.26L918.9 740.37L919.2 735.22L919.5 738.68L919.8 734.21L920.1 737.92L920.4 731.9L920.7 737.61L921 733.42L921.3 740.54L921.6 737.73L921.9 741.78L922.2 740.25L922.5 747.7L922.8 746.43L923.1 753.48L923.4 752.04L923.7 759.78L924 756.68L924.3 765.86L924.6 763.32L924.9 771.3L925.2 768.23L925.5 778.37L925.8 775.09L926.1 785.21L926.4 786.03L926.7 793.61L927 793.84L927.3 801.14L927.6 802.27L927.9 809.27L928.2 810.05L928.5 816.35L928.8 815.72L929.1 822.76L929.4 822.55L929.7 828.03L930 828.2L930.3 831.67L930.6 830.31L930.9 834.17L931.2 831.01L931.5 835.02L931.8 832.82L932.1 837.52L932.4 835.11L932.7 838.5L933 836.49L933.3 840.36L933.6 837.67L933.9 841.52L934.2 838.79L934.5 844.1L934.8 842.01L935.1 845.58L935.4 844.34L935.7 848.22L936 845.83L936.3 852.39L936.6 850.85L936.9 856.2L937.2 855.6L937.5 861.46L937.8 860.03L938.1 866L938.4 865.28L938.7 871.92L939 872.9L939.3 878.16L939.6 878.49L939.9 884.62L940.2 884.48L940.5 891.67L940.8 891.14L941.1 897.71L941.4 899.07L941.7 905.2L942 905.18L942.3 911.96L942.6 911.78L942.9 919L943.2 916.44L943.5 922.31L943.8 922.47L944.1 928.28L944.4 925.29L944.7 930.07L945 927.41L945.3 931.93L945.6 929.43L945.9 932.43L946.2 929.8L946.5 934.96L946.8 931.48L947.1 935.67L947.4 932.31L947.7 937.6L948 934.34L948.3 939.03L948.6 934.95L948.9 939.26L949.2 937.31L949.5 941.3L949.8 938.04L950.1 942.2L950.4 938.63L950.7 944.06L951 940.5L951.3 945.64L951.6 942.45L951.9 946.9L952.2 940.36L952.5 948.97L952.8 944.16L953.1 954.2L953.4 950.48L953.7 959.05L954 953.57L954.3 960.8L954.6 957.41L954.9 965.73L955.2 963.52L955.5 973.69L955.8 970.37L956.1 982.83L956.4 978.89L956.7 992.86L957 993.35L957.3 1007.98L957.6 1006.9L957.9 1020.99L958.2 1018.59L958.5 1031L958.8 1027.73L959.1 1039.14L959.4 1036.85L959.7 1052.23L960 1049.49L960.3 1060.25L960.6 1058.44L960.9 1069.91L961.2 1067.56L961.5 1079.6L961.8 1077.68L962.08 1085L962.5 1087.27L962.88 1097.5L963.26 1091.06L963.64 1105.19L964.02 1099.7L964.4 1110.68L964.78 1103.94L965.16 1114.44L965.54 1109.67L965.92 1119.22L966.3 1110.48L966.68 1121.03L967.06 1113.78L967.44 1125.3L967.82 1114.76L968.2 1127.05L968.58 1117.88L968.96 1132.08L969.34 1123.76L969.72 1133.83L970.1 1125.79L970.48 1137.3L970.86 1131.11L971.24 1139.26L971.62 1133.73L972 1147.15L972.38 1132.75L972.76 1148.51L973.14 1143.79L973.52 1159.3L973.9 1146.61L974.28 1150.47L974.66 1147.22L974.85 1165.7L975 1166.7L975.04 1160.37L975.15 1165.7L975.42 1148.32L975.8 1152.48L976.18 1149.17L976.56 1160.86L976.94 1149.29L977.32 1161.75L977.7 1149.45L978.08 1156.04L978.46 1149.04L978.84 1155.32L979.22 1148.41L979.6 1152.28L979.65 1179L979.8 1180L979.95 1179L979.98 1148.92L980.36 1152.17L980.74 1148.66L981.12 1152.14L981.35 1170L981.5 1148.25L981.5 1171L981.65 1170L981.88 1166.22L982.26 1148.83L982.64 1159.2L983.02 1148.37L983.4 1157.21L983.78 1148.4L984.16 1151.67L984.54 1148.23L984.92 1156.04L985.3 1148.65L985.68 1152.05L986.06 1148.47L986.44 1155.28L986.82 1148.09L987.2 1162.79L987.35 1163L987.5 1164L987.58 1148.08L987.65 1163L987.96 1152.56L988.34 1148.34L988.72 1155.73L989.1 1148.1L989.48 1156L989.86 1148.04L990.24 1154.63L990.62 1148.54L991 1162.51L991.38 1148.14L991.76 1163.64L992.14 1148.43L992.52 1152.27L992.9 1148.8L993.28 1152.92L993.66 1149.21L994.04 1157.59L994.42 1149.14L994.8 1157.37L995.18 1149.22L995.56 1162.13L995.94 1148.96L996.32 1155.63L996.7 1148.85L997.08 1159.43L997.46 1148.29L997.84 1152.99L998.15 1164.8L998.22 1148.02L998.3 1165.8L998.45 1164.8L998.6 1159.05L998.98 1148.14L999.36 1151.29L999.74 1148.22L1000.12 1153.31L1000.5 1148.01L1000.88 1157.99L1001.26 1148.11L1001.64 1151.57L1002.02 1148.42L1002.4 1156.61L1002.78 1147.97L1002.95 1179L1003.1 1180L1003.16 1150.68L1003.25 1179L1003.54 1146.98L1003.92 1152.11L1004.3 1146.64L1004.68 1159.51L1005.06 1146.54L1005.44 1149.37L1005.82 1146.04L1005.85 1159L1006 1160L1006.15 1159L1006.2 1148.9L1006.58 1145.15L1006.96 1156.52L1007.34 1145.02L1007.72 1148.13L1008.1 1144.7L1008.48 1155.26L1008.86 1144.18L1009.24 1147.38L1009.62 1143.68L1010 1147.49L1010.38 1143.78L1010.76 1158.74L1011.14 1144.43L1011.52 1147.65L1011.9 1144.49L1012.28 1150.83L1012.66 1144.66L1013.04 1152.67L1013.42 1144.83L1013.8 1149.98L1014.18 1143.88L1014.56 1151.83L1014.94 1143.5L1015.32 1146.47L1015.7 1142.62L1016.08 1144.52L1016.46 1141.35L1016.84 1144.42L1017.22 1140.42L1017.6 1146.13L1017.98 1139.89L1018.36 1141.67L1018.74 1138.9L1019.12 1142.21L1019.5 1138.97L1019.88 1145.52L1020.26 1139.58L1020.64 1147.43L1021.02 1140.32L1021.4 1143.5L1021.78 1140.97L1022.16 1150.72L1022.54 1140.55L1022.75 1162.3L1022.9 1163.3L1022.92 1150.65L1023.05 1162.3L1023.3 1140.14L1023.68 1147.98L1024.06 1140.91L1024.44 1144.38L1024.82 1142.2L1025.2 1147.76L1025.58 1142.81L1025.96 1146.23L1026.34 1143.34L1026.55 1157.3L1026.7 1158.3L1026.72 1147.34L1026.85 1157.3L1027.1 1143.96L1027.48 1149.33L1027.86 1144.45L1028.24 1154.39L1028.62 1144.38L1029 1154.76L1029.38 1144.94L1029.76 1149.07L1030.14 1145.24L1030.52 1147.7L1030.9 1144.94L1031.28 1150.25L1031.66 1144.95L1032.04 1155.6L1032.42 1144.63L1032.8 1150.55L1033.18 1144.44L1033.56 1149.08L1033.94 1143.88L1034.32 1154.39L1034.7 1143.95L1035.08 1146.49L1035.46 1143.28L1035.84 1147.23L1036.22 1143.25L1036.6 1146.05L1036.98 1143.06L1037.36 1145.74L1037.74 1142.32L1038.12 1147.71L1038.5 1142.42L1038.88 1145.51L1039.05 1153.2L1039.2 1154.2L1039.26 1142.1L1039.35 1153.2L1039.64 1145.56L1040.02 1142.36L1040.4 1146.58L1040.78 1142.94L1041.16 1149.42L1041.54 1143.64L1041.92 1149.07L1042.3 1143.95L1042.68 1148.97L1043.06 1143.92L1043.44 1150.26L1043.82 1142.94L1044.2 1146.89L1044.58 1142.71L1044.96 1150.94L1045.34 1141.94L1045.65 1154L1045.72 1146.21L1045.8 1155L1045.95 1154L1046.1 1142.35L1046.48 1146.7L1046.86 1143.35L1047.24 1146.46L1047.62 1144.01L1048 1147.86L1048.38 1144.59L1048.76 1154.49L1049.14 1144.5L1049.52 1150.63L1049.9 1144.46L1050.28 1147.74L1050.66 1144.8L1051.04 1148.39L1051.42 1144.73L1051.8 1152.71L1052.15 1156.5L1052.18 1145.14L1052.3 1157.5L1052.45 1156.5L1052.56 1150.42L1052.94 1145.3L1053.32 1147.79L1053.7 1144.99L1054.08 1152.87L1054.46 1145.49L1054.84 1148.01L1055.22 1145L1055.6 1153.48L1055.98 1144.98L1056.36 1148.01L1056.74 1144.38L1057.12 1146.88L1057.5 1144.42L1057.88 1151.76L1058.26 1143.89L1058.6 1155.25L1058.64 1146.73L1058.75 1156.25L1058.9 1155.25L1059.02 1144.23L1059.4 1148.19L1059.78 1145.06L1060.16 1149.69L1060.54 1145.59L1060.92 1148.19L1061.3 1145.66L1061.68 1148.08L1062.06 1145.99L1062.44 1148.05L1062.82 1145.69L1063.2 1150.51L1063.58 1145.15L1063.96 1147.3L1064.34 1145.13L1064.72 1157.31L1065.1 1144.84L1065.48 1150.79L1065.86 1144.54L1066.24 1150.66L1066.62 1143.83L1067 1146.9L1067.38 1143.81L1067.76 1152.28L1068.14 1144.02L1068.52 1147.59L1068.9 1144.11L1069.28 1153.7L1069.66 1143.95L1070.04 1151.95L1070.42 1143.38L1070.8 1145.21L1071.18 1142.41L1071.56 1144.21L1071.94 1141.7L1071.95 1157.75L1072.1 1158.75L1072.25 1157.75L1072.32 1145.85L1072.7 1142.02L1073.08 1144.69L1073.46 1142.93L1073.84 1148.68L1074.22 1143.99L1074.6 1152.42L1074.98 1144.91L1075.36 1149.06L1075.74 1145.73L1076.12 1148.42L1076.5 1146.9L1076.88 1151.51L1077.26 1146.56L1077.64 1148.24L1078.02 1145.84L1078.4 1151.82L1078.78 1145.36L1079.16 1150.36L1079.54 1145.28L1079.92 1148.4L1080.3 1146.67L1080.68 1153.7L1081.06 1147.93L1081.44 1151.34L1081.82 1148.3L1082.2 1153.22L1082.58 1148.2L1082.96 1154.44L1083.34 1148.08L1083.72 1151.04L1084.1 1148.09L1084.48 1155.72L1084.86 1148.22L1085.24 1151.49L1085.62 1148.01L1086 1151.64L1086.38 1148.11L1086.76 1151.93L1087.14 1148.65L1087.52 1150.64L1087.9 1149.07L1088.28 1155.69L1088.66 1149.3L1089.04 1151.67L1089.42 1150.04L1089.8 1156.74L1090.18 1150.48L1090.56 1152.77L1090.94 1150.41L1091.1 1158.6L1091.25 1159.6L1091.32 1160.42L1091.4 1158.6L1091.7 1150.56L1092.08 1158.6L1092.46 1150.57L1092.84 1155.91L1093.22 1150.64L1093.6 1153.46L1093.98 1150.91L1094.36 1155.57L1094.74 1151.04L1095.12 1153.99L1095.5 1151.03L1095.88 1153.76L1096.26 1150.96L1096.55 1159.4L1096.64 1152.92L1096.7 1160.4L1096.85 1159.4L1097.02 1151.25L1097.4 1154.58L1097.78 1151.1L1098.16 1156.71L1098.54 1151.16L1098.92 1154.43L1099.3 1151.52L1099.68 1156.41L1100.06 1151.5L1100.44 1152.44L1100.82 1151.69L1101.2 1155.03L1101.58 1151.86L1101.96 1152.77L1102.34 1152.03L1102.72 1153.27L1103.1 1152.18L1103.48 1153.61L1103.86 1152.42L1104.24 1155.89L1104.62 1152.53L1105 1153.45L1105.38 1152.82L1105.76 1154.72L1106.14 1153.27L1106.52 1155.01L1106.9 1153.52L1107.28 1154.6L1107.66 1153.91L1107.75 1162.5L1107.9 1163.5L1108.04 1157.63L1108.05 1162.5L1108.42 1154.18L1108.8 1155.19L1109.18 1153.94L1109.56 1155.02L1109.94 1153.46L1110.32 1156.08L1110.7 1153.12L1111.08 1155.35L1111.46 1152.67L1111.84 1153.58L1112.22 1152.41L1112.6 1153.35L1112.98 1152.08L1113.36 1154.12L1113.74 1151.76L1114.12 1152.73L1114.5 1151.49L1114.88 1152.71L1115.26 1151.16L1115.64 1152.77L1116.02 1150.85L1116.4 1151.65L1116.78 1150.51L1117.16 1153.34L1117.54 1150.41L1117.92 1151.26L1118.3 1150.45L1118.68 1151.77L1118.85 1170.25L1119 1171.25L1119.06 1150.44L1119.15 1170.25L1119.44 1152.47L1119.82 1150.23L1120.2 1152.1L1120.58 1150.18L1120.96 1151.01L1121.34 1150.26L1121.55 1158.2L1121.7 1159.2L1121.72 1152.22L1121.85 1158.2L1122.1 1150.32L1122.48 1151.46L1122.86 1150.49L1123.24 1153.24L1123.62 1150.7L1124 1151.53L1124.38 1150.83L1124.76 1151.88L1125.14 1151.05L1125.52 1153.63L1125.9 1151.24L1126.28 1154.89L1126.66 1151.32L1127.04 1153.11L1127.42 1151.64L1127.8 1152.85L1128.18 1151.78L1128.56 1152.81L1128.94 1152.04L1129.32 1153.56L1129.7 1152.27L1130.08 1154.51L1130.46 1152.51L1130.84 1153.99L1130.85 1164L1131 1165L1131.15 1164L1131.22 1152.49L1131.6 1154.53L1131.98 1152.34L1132.36 1155.99L1132.74 1152.22L1133.12 1153.34L1133.5 1152.11L1133.88 1153.8L1134.26 1152L1134.64 1152.9L1135.02 1151.84L1135.4 1154.47L1135.78 1150.92L1136.1 1156L1136.16 1153.29L1136.25 1157L1136.4 1156L1136.54 1150L1136.92 1151.74L1137.3 1149.14L1137.68 1152.5L1138.06 1148.32L1138.44 1148.76L1138.82 1147.64L1139.2 1148.8L1139.58 1146.74L1139.96 1147.17L1140.34 1145.35L1140.72 1145.66L1141.1 1143.79L1141.48 1144.75L1141.86 1142.29L1142.24 1142.36L1142.62 1140.8L1143 1143.04L1143.38 1139.16L1143.76 1141.72L1144.14 1137.63L1144.52 1140.15L1144.9 1136.26L1145.28 1136.61L1145.66 1134.73L1146.04 1136.23L1146.42 1133.17L1146.8 1136.27L1147.18 1132.36L1147.56 1135.41L1147.94 1131.87L1148.32 1132.86L1148.7 1131.29L1149.08 1133.79L1149.46 1130.74L1149.84 1131.33L1150.22 1130.23L1150.6 1130.86L1150.98 1129.83L1151.36 1130.46L1151.74 1129.35L1152.12 1129.81L1152.5 1128.69L1152.88 1129.41L1153.26 1128.32L1153.64 1131.1L1154.02 1127.79L1154.4 1128.24L1154.78 1127.12L1155.16 1129.78L1155.54 1126.28L1155.92 1127.23L1156.3 1125.66L1156.68 1127.61L1157.06 1126.21L1157.44 1127.71L1157.82 1126.68L1158.2 1129.21L1158.58 1127.26L1158.96 1129.59L1159.34 1127.35L1159.72 1127.92L1160.1 1126L1160.48 1128.26L1160.86 1124.59L1161.24 1125.48L1161.62 1125.18L1162 1126.83L1162.38 1126.26L1162.76 1129.72L1163.14 1127.44L1163.52 1128.39L1163.9 1127.49L1164.28 1130.09L1164.45 1136.5L1164.6 1137.5L1164.66 1127.12L1164.75 1136.5L1165.04 1128.84L1165.42 1126.93L1165.8 1127.87L1166.18 1127.25L1166.56 1129.15L1166.94 1128.25L1167.32 1129.61L1167.7 1129.33L1168.08 1130.61L1168.46 1130.1L1168.84 1133.38L1169.22 1130.48L1169.6 1131.45L1169.98 1130.81L1170.36 1134.22L1170.74 1131.11L1171.12 1132L1171.5 1131.25L1171.88 1134.42L1172.26 1131.28L1172.35 1145.7L1172.5 1146.7L1172.64 1133.06L1172.65 1145.7L1173.02 1130.98L1173.4 1134L1173.78 1130.81L1174.05 1145.7L1174.16 1131.8L1174.2 1146.7L1174.35 1145.7L1174.54 1130.65L1174.92 1131.83L1175.3 1130.53L1175.68 1133.31L1176.06 1130.25L1176.44 1131.01L1176.82 1130.17L1177.2 1132.97L1177.58 1130.8L1177.96 1131.81L1178.34 1131.21L1178.72 1133.57L1179.1 1131.79L1179.48 1133.88L1179.85 1140.7L1179.86 1132.87L1180 1141.7L1180.15 1140.7L1180.24 1134.8L1180.62 1133.88L1181 1137.26L1181.38 1134.9L1181.76 1138.85L1182.14 1135.99L1182.52 1137.25L1182.9 1136.37L1183.28 1139.19L1183.66 1136.64L1184.04 1140.1L1184.42 1136.64L1184.8 1137.01L1185.18 1135.86L1185.56 1136.41L1185.94 1134.99L1186.32 1135.52L1186.7 1134.33L1186.75 1145.7L1186.9 1146.7L1187.05 1145.7L1187.08 1136.86L1187.46 1134.03L1187.84 1134.79L1188.22 1133.89L1188.6 1134.54L1188.98 1133.58L1189.36 1134.56L1189.74 1133.4L1190.12 1134.17L1190.5 1133.22L1190.88 1135.56L1191.1 1142.3L1191.25 1143.3L1191.26 1132.9L1191.4 1142.3L1191.64 1134.69L1192.02 1132.81L1192.4 1134.06L1192.78 1132.54L1193.16 1134.79L1193.54 1132.29L1193.92 1134.46L1194.3 1132.19L1194.68 1132.98L1195.06 1131.94L1195.44 1134.83L1195.82 1131.77L1196.2 1132.8L1196.58 1131.61L1196.96 1135.19L1197.34 1131.51L1197.72 1132.3L1198.1 1131.69L1198.48 1134.54L1198.86 1131.97L1199.05 1144.4L1199.2 1145.4L1199.24 1135.72L1199.35 1144.4L1199.62 1132.19L1200 1133.49L1200.38 1132.49L1200.76 1133.74L1201.14 1132.91L1201.52 1135.73L1201.9 1133.82L1202.28 1135.42L1202.66 1134.83L1203.04 1136.7L1203.42 1135.6L1203.8 1137.65L1204.18 1135.49L1204.56 1136.65L1204.94 1135.21L1205.32 1137.49L1205.65 1139.4L1205.7 1135.24L1205.8 1140.4L1205.95 1139.4L1206.08 1136.11L1206.46 1135.55L1206.84 1138.85L1207.22 1135.98L1207.6 1138.36L1207.98 1136.56L1208.36 1139.7L1208.74 1136.4L1209.12 1137.04L1209.5 1135.65L1209.88 1137.41L1210.26 1134.9L1210.64 1139.11L1211.02 1135.39L1211.4 1138.4L1211.78 1136.09L1212.16 1139.79L1212.54 1136.89L1212.92 1142.26L1213.3 1137.69L1213.68 1138.86L1214.06 1138.44L1214.44 1139.77L1214.82 1139.17L1215.2 1142.21L1215.58 1139.91L1215.96 1140.98L1216.34 1140.19L1216.72 1142.05L1217.1 1140.44L1217.48 1142.14L1217.86 1140.48L1218.24 1142.27L1218.62 1140.55L1219 1144.46L1219.38 1140.65L1219.76 1142.48L1220.14 1140.82L1220.52 1142.22L1220.9 1140.88L1221.28 1141.71L1221.66 1140.39L1222.04 1140.95L1222.42 1139.62L1222.8 1142.73L1223.18 1139.59L1223.56 1140.74L1223.94 1140.21L1224.32 1142.17L1224.7 1140.78L1225.08 1144.41L1225.46 1141.51L1225.84 1143.65L1226.22 1141.96L1226.35 1154.8L1226.5 1155.8L1226.6 1143.18L1226.65 1154.8L1226.98 1142.45L1227.36 1144.63L1227.74 1143.03L1228.12 1144.54L1228.5 1143.43L1228.88 1144.57L1229.26 1143.96L1229.64 1146.7L1230.02 1144.01L1230.4 1146.57L1230.78 1144.01L1231.16 1147.58L1231.54 1144.13L1231.92 1147.58L1232.3 1144.16L1232.68 1145L1233.06 1144.21L1233.44 1145.06L1233.82 1144.34L1234.2 1146.25L1234.58 1143.86L1234.96 1144.27L1235.34 1142.82L1235.72 1145.52L1236.1 1159L1236.1 1142.07L1236.25 1160L1236.4 1159L1236.48 1142.75L1236.86 1142.08L1237.24 1145.42L1237.62 1142.59L1238 1144.57L1238.38 1143L1238.76 1144.12L1239.14 1143.39L1239.52 1145.75L1239.9 1144L1240.28 1145.48L1240.66 1144.67L1241.04 1148.57L1241.42 1145.09L1241.8 1146.34L1242.18 1145.71L1242.56 1146.81L1242.94 1145.66L1243.32 1147.23L1243.7 1145.19L1244.08 1146.25L1244.46 1144.81L1244.84 1147.81L1244.85 1150.7L1245 1151.7L1245.15 1150.7L1245.22 1144.33L1245.6 1146.16L1245.98 1143.85L1246.36 1146.46L1246.74 1143.33L1247.12 1143.28L1247.5 1141.55L1247.88 1143.07L1248.26 1139.77L1248.64 1140.12L1249.02 1138.06L1249.4 1140.79L1249.78 1136.61L1250.16 1136.97L1250.54 1135.53L1250.92 1135.82L1251.3 1134.28L1251.68 1135.31L1252.06 1133.68L1252.44 1135.26L1252.82 1133.18L1253.2 1137.04L1253.58 1133.92L1253.96 1135.45L1254.34 1135.1L1254.72 1136.54L1255.1 1136.28L1255.48 1138.44L1255.86 1138.05L1256.24 1144.28L1256.62 1139.84L1257 1141.71L1257.38 1141.47L1257.76 1142.76L1258.14 1141.8L1258.52 1142.9L1258.9 1141.88L1259.28 1145.6L1259.35 1152L1259.5 1153L1259.65 1152L1259.66 1141.76L1260.04 1142.89L1260.42 1142.44L1260.8 1143.79L1261.18 1143.35L1261.56 1146.76L1261.94 1144.47L1262.32 1146.34L1262.7 1144.77L1262.75 1146.5L1262.9 1147.5L1263.05 1146.5L1263.08 1145.13L1263.46 1143.04L1263.84 1143.11L1264.22 1141.44L1264.6 1142.21L1264.98 1139.83L1265.36 1140.01L1265.74 1139.41L1266.12 1142.23L1266.5 1140.45L1266.88 1141.77L1267.26 1141.54L1267.64 1144.77L1268.02 1142.83L1268.4 1146.47L1268.78 1144.31L1269.16 1147.86L1269.54 1145.88L1269.92 1147.34L1270.3 1145.22L1270.68 1146.52L1271.06 1144.56L1271.44 1145.07L1271.75 1154.4L1271.82 1143.72L1271.9 1155.4L1272.05 1154.4L1272.2 1145.21L1272.58 1143.96L1272.96 1145.61L1273.34 1144.92L1273.72 1146.77L1274.1 1145.82L1274.48 1147.09L1274.86 1146.65L1275.24 1147.44L1275.62 1146.28L1276 1146.82L1276.38 1145.65L1276.76 1146.24L1277.14 1145.04L1277.52 1145.53L1277.9 1143.57L1278.28 1143.96L1278.66 1142.06L1279.04 1142.25L1279.42 1140.46L1279.8 1140.91L1280.18 1139.27L1280.56 1142.12L1280.94 1138.8L1281.32 1141.23L1281.7 1138.42L1282.08 1139.67L1282.15 1146.5L1282.3 1147.5L1282.45 1146.5L1282.46 1138.08L1282.84 1139.38L1283.22 1137.62L1283.6 1138.34L1283.98 1136.68L1284.36 1139.58L1284.74 1135.59L1285.12 1138.35L1285.5 1134.46L1285.88 1135.47L1286.26 1133.45L1286.64 1137.83L1287.02 1135.1L1287.4 1137.17L1287.78 1136.48L1288.16 1138.29L1288.54 1137.9L1288.92 1141.38L1289.3 1138.87L1289.68 1143.9L1290.06 1139.64L1290.44 1141.39L1290.82 1141.29L1291.2 1143.19L1291.58 1143.44L1291.95 1146.9L1291.96 1146.65L1292.1 1147.9L1292.25 1146.9L1292.34 1145.6L1292.72 1148.34L1293.1 1146.01L1293.48 1147.53L1293.86 1146.12L1294.24 1147.64L1294.62 1146.24L1295 1147.1L1295.38 1146.38L1295.76 1149.44L1296.14 1146.35L1296.35 1150.25L1296.5 1151.25L1296.52 1147.43L1296.65 1150.25L1296.9 1146.49L1297.28 1150.22L1297.66 1146.5L1298.04 1149.18L1298.42 1146.68L1298.8 1150.47L1299.18 1146.78L1299.56 1148.59L1299.94 1146.87L1300.32 1149.32L1300.7 1146.4L1301.08 1147.76L1301.46 1146.01L1301.84 1150.66L1302.22 1145.61L1302.35 1149L1302.5 1150L1302.6 1148.51L1302.65 1149L1302.98 1145.33L1303.36 1145.96L1303.74 1145.33L1304.12 1146.42L1304.5 1145.37L1304.88 1146.34L1305.26 1145.58L1305.64 1148.34L1306.02 1145.78L1306.4 1147.52L1306.55 1155.7L1306.7 1156.7L1306.78 1145.93L1306.85 1155.7L1307.16 1146.94L1307.54 1146.11L1307.92 1149.07L1308.3 1146.35L1308.68 1148.39L1309.06 1146.36L1309.44 1147.19L1309.82 1146.17L1310.2 1147.66L1310.58 1146.11L1310.96 1147.59L1311.34 1146.05L1311.72 1149.27L1312.1 1146.06L1312.35 1146.5L1312.48 1149.04L1312.5 1147.5L1312.65 1146.5L1312.86 1145.72L1313.24 1146.62L1313.62 1145.2L1314 1147.9L1314.38 1144.78L1314.76 1146.25L1315.14 1144.43L1315.52 1145.69L1315.9 1145.03L1316.28 1146.34L1316.66 1145.77L1317.04 1149.6L1317.42 1146.33L1317.8 1147.26L1318.18 1145.98L1318.56 1149.39L1318.85 1149.4L1318.94 1145.64L1319 1150.4L1319.15 1149.4L1319.32 1147L1319.7 1145.21L1320.08 1148.14L1320.46 1144.83L1320.84 1146.44L1321.22 1144.34L1321.6 1145.32L1321.98 1142.84L1322.36 1145.03L1322.74 1141.41L1323.12 1142.98L1323.5 1140.12L1323.88 1141.02L1324.26 1139.76L1324.64 1141.08L1325.02 1139.53L1325.4 1141.15L1325.78 1139.27L1326.16 1141.46L1326.54 1138.99L1326.92 1141.92L1327.3 1138.74L1327.68 1140.11L1328.06 1138.59L1328.44 1139.54L1328.82 1138.23L1329.2 1141.47L1329.58 1138.04L1329.96 1140.75L1330.34 1137.77L1330.72 1138.51L1330.85 1148.6L1331 1149.6L1331.1 1137.18L1331.15 1148.6L1331.48 1139.63L1331.86 1135.99L1332.24 1138.24L1332.62 1134.62L1333 1135.97L1333.38 1133.35L1333.76 1134.07L1334.14 1131.37L1334.52 1130.8L1334.9 1129.51L1335.28 1128.41L1335.66 1126.63L1336.04 1125.73L1336.42 1123.57L1336.8 1122.18L1337.18 1119.16L1337.56 1117.33L1337.94 1113.29L1338.32 1098.49L1338.7 1082.92L1339.17 1039.33L1339.47 1020.15L1339.77 998.75L1340.07 980.19L1340.37 962L1340.67 945.82L1340.97 927.56L1341.27 913.2L1341.57 901.38L1341.87 891.13L1342.17 878.47L1342.47 868.68L1342.77 859.5L1343.07 853.17L1343.37 844.66L1343.67 838.22L1343.97 829.58L1344.27 823.8L1344.57 817.69L1344.87 813.61L1345.17 807.54L1345.47 804.07L1345.77 799.9L1346.07 798.06L1346.37 794.17L1346.67 791.95L1346.97 790.31L1347.27 790.53L1347.57 788.55L1347.87 789.19L1348.17 787.04L1348.47 787.58L1348.77 785.57L1349.07 785.65L1349.37 784.01L1349.67 783.84L1349.97 781.91L1350.27 781.98L1350.57 780.04L1350.87 779.81L1351.17 778.03L1351.47 778L1351.77 776.24L1352.07 777.15L1352.37 775.8L1352.67 776.41L1352.97 775.33L1353.27 775.97L1353.57 774.9L1353.87 775.64L1354.17 774.68L1354.47 774.85L1354.77 773.01L1355.07 772.99L1355.37 771.25L1355.67 771.63L1355.97 769.52L1356.27 769.89L1356.57 768.19L1356.87 768.57L1357.17 766.88L1357.47 767.2L1357.77 765.39L1358.07 766.03L1358.37 764.62L1358.67 764.91L1358.97 763.37L1359.27 763.71L1359.57 761.72L1359.87 761.75L1360.17 759.46L1360.47 759.94L1360.77 757.86L1361.07 757.83L1361.37 756.22L1361.67 756.26L1361.97 754.1L1362.27 753.92L1362.57 751.69L1362.87 751.82L1363.17 749.73L1363.47 749.7L1363.77 747.15L1364.07 747.58L1364.37 745.21L1364.67 745.11L1364.97 743.03L1365.27 742.57L1365.57 740.37L1365.87 740.48L1366.17 738.54L1366.47 739.06L1366.77 737.18L1367.07 737.24L1367.37 735.57L1367.67 735.57L1367.97 733.71L1368.27 733.85L1368.57 731.45L1368.87 731.32L1369.17 728.38L1369.47 727.98L1369.77 725.71L1370.07 725.53L1370.37 723.2L1370.67 722.63L1370.97 720.33L1371.27 720.25L1371.57 718.45L1371.87 717.95L1372.17 715.62L1372.47 715.54L1372.77 713.65L1373.07 713.09L1373.37 711.13L1373.67 710.96L1373.97 708.63L1374.27 708.7L1374.57 706.47L1374.87 706.54L1375.17 704.21L1375.47 704.5L1375.77 702.64L1376.07 702.69L1376.37 700.37L1376.67 700.48L1376.97 698.39L1377.27 698.48L1377.57 696.67L1377.87 696.98L1378.17 694.94L1378.47 695.12L1378.77 693.85L1379.07 694.31L1379.37 693.21L1379.67 693.71L1379.97 692.19L1380.27 693.02L1380.57 691.48L1380.87 692.21L1381.17 690.36L1381.47 691.16L1381.77 689.33L1382.07 689.65L1382.37 687.88L1382.67 688.58L1382.97 686.64L1383.27 687.27L1383.57 685.94L1383.87 686.36L1384.17 685.13L1384.47 685.83L1384.77 684.28L1385.07 684.64L1385.37 683.52L1385.67 684.29L1385.97 682.4L1386.27 683.64L1386.57 681.98L1386.87 682.66L1387.17 681.48L1387.47 682.39L1387.77 680.82L1388.07 681.83L1388.37 680.27L1388.67 680.95L1388.97 679.72L1389.27 681.16L1389.57 679.61L1389.87 680.68L1390.17 679.39L1390.47 680.47L1390.77 679.33L1391.07 679.91L1391.37 678.63L1391.67 679.63L1391.97 677.6L1392.27 678.02L1392.57 676.36L1392.87 676.35L1393.17 674.78L1393.47 675.15L1393.77 673.09L1394.07 673.06L1394.37 671.24L1394.67 672.07L1394.97 669.98L1395.27 670.38L1395.57 668.77L1395.87 668.92L1396.17 667.33L1396.47 667.68L1396.77 665.92L1397.07 666.41L1397.37 664.52L1397.67 665.33L1397.97 663.3L1398.27 664.11L1398.57 662.15L1398.87 662.86L1399.17 661.25L1399.47 661.97L1399.77 660.34L1400.07 661.24L1400.37 659.62L1400.67 660.4L1400.97 658.72L1401.27 659.25L1401.57 658.14L1401.87 658.31L1402.17 656.84L1402.47 657.29L1402.77 656.19L1403.07 656.71L1403.37 655.2L1403.67 655.72L1403.97 653.79L1404.27 654.1L1404.57 652.04L1404.87 652.47L1405.17 650.03L1405.47 650.22L1405.77 647.93L1406.07 647.27L1406.37 644.72L1406.67 644.1L1406.97 641.17L1407.27 640.18L1407.57 637.46L1407.87 637.05L1408.17 634.56L1408.47 634.29L1408.77 632.08L1409.07 631.77L1409.37 629.89L1409.67 630.77L1409.97 629.47L1410.27 630.27L1410.57 628.8L1410.87 629.46L1411.17 628.27L1411.47 628.99L1411.77 627.51L1412.07 628.13L1412.37 626.91L1412.67 627.41L1412.97 626.01L1413.27 626.25L1413.57 624.67L1413.87 624.57L1414.17 622.49L1414.47 622.59L1414.77 620.21L1415.07 620.42L1415.37 619.91L1415.67 621.02L1415.97 620.4L1416.27 621.76L1416.57 621.01L1416.87 621.81L1417.17 620.6L1417.47 621.61L1417.77 619.8L1418.07 621L1418.37 619.56L1418.67 620.34L1418.97 618.86L1419.27 619.54L1419.57 617.92L1419.87 618.28L1420.17 616.08L1420.47 616.69L1420.77 614.74L1421.07 615.4L1421.37 613.4L1421.67 613.75L1421.97 612.28L1422.27 612.57L1422.57 610.84L1422.87 611.42L1423.17 609.64L1423.47 610.42L1423.77 608.72L1424.07 608.91L1424.37 607.38L1424.67 608.08L1424.97 606.39L1425.27 606.53L1425.57 605.14L1425.87 605.57L1426.17 603.98L1426.47 604.2L1426.77 602.45L1427.07 602.7L1427.37 600.96L1427.67 601.14L1427.97 599.19L1428.27 599.11L1428.57 597.16L1428.87 598.57L1429.17 598.43L1429.47 600.01L1429.77 599.77L1430.07 602L1430.37 601.39L1430.67 603.27L1430.97 603.63L1431.27 606.98L1431.57 608.27L1431.87 611.81L1432.17 612.77L1432.47 619.57L1432.77 624.02L1433.07 630.6L1433.37 635.1L1433.67 639.77L1433.97 642.67L1434.27 646.29L1434.57 645.75L1434.87 646.98L1435.17 645.69L1435.47 646.83L1435.77 645.96L1436.07 647.9L1436.37 647.54L1436.67 649.19L1436.97 648.91L1437.27 650.67L1437.57 650.3L1437.87 651.04L1438.17 649.11L1438.47 649.96L1438.77 648.49L1439.07 649.25L1439.37 647.55L1439.67 648.82L1439.97 647.35L1440.27 648.23L1440.57 647.23L1440.87 648.29L1441.17 647.73L1441.47 649.81L1441.77 649.34L1442.07 651.2L1442.37 650.58L1442.67 653.21L1442.97 653.49L1443.27 656.11L1443.57 656.44L1443.87 659.13L1444.17 659.28L1444.47 661.51L1444.77 662.08L1445.07 664.19L1445.37 664.06L1445.67 666.59L1445.97 666.65L1446.27 668.37L1446.57 668.32L1446.87 670.53L1447.17 669.92L1447.47 672.27L1447.77 670.27L1448.07 670.48L1448.37 668.32L1448.67 668.52L1448.97 666.81L1449.27 666.46L1449.57 663.88L1449.87 662.94L1450.17 660.26L1450.47 659.59L1450.77 656.71L1451.07 656.44L1451.37 654.27L1451.67 654.55L1451.97 651.99L1452.27 652.21L1452.57 650.31L1452.87 651.55L1453.17 651.23L1453.47 652.28L1453.77 651.62L1454.07 653.36L1454.37 652.25L1454.67 653.96L1454.97 654.19L1455.27 656.5L1455.57 656.35L1455.87 659.05L1456.17 659.08L1456.47 661.57L1456.77 661.52L1457.07 664.78L1457.37 665.22L1457.67 668.37L1457.97 669.05L1458.27 671.57L1458.57 672.45L1458.87 674.71L1459.17 675.34L1459.47 677.74L1459.77 678.34L1460.07 681.47L1460.37 684.01L1460.67 688.52L1460.97 691.07L1461.27 695.98L1461.57 698.03L1461.87 704.08L1462.17 708.4L1462.47 714.41L1462.77 718.68L1463.07 725.3L1463.37 730.27L1463.67 737.35L1463.97 742.1L1464.27 749.91L1464.57 757.59L1464.87 767.19L1465.17 774.49L1465.47 784.41L1465.77 792.61L1466.07 802.44L1466.37 810.2L1466.67 817.13L1466.97 822.22L1467.27 828.97L1467.57 835.05L1467.87 845.03L1468.17 853.68L1468.47 863.76L1468.77 872.73L1469.07 883.8L1469.37 893.78L1469.67 905.17L1469.97 915.24L1470.27 926.44L1470.57 936.69L1470.87 948.02L1471.17 957.99L1471.47 969.91L1471.77 980.45L1472.07 992.31L1472.37 1003.13L1472.67 1014.07L1472.97 1022.83L1473.27 1033.32L1473.57 1039.28L1473.87 1046.05L1474.17 1051.2L1474.47 1057.92L1474.77 1062.67L1475.07 1068.41L1475.37 1072.8L1475.67 1078.44L1475.97 1081.84L1476.27 1085.6L1476.57 1087.68L1476.87 1091.52L1477.17 1093.46L1477.47 1096.94L1477.77 1098.28L1478.07 1101.89L1478.37 1103.09L1478.67 1104.49L1478.97 1104.23L1479.27 1105.91L1479.57 1105.51L1479.87 1106.71L1480.17 1106.22L1480.47 1107.08L1480.77 1106.13L1481.07 1107.2L1481.37 1105.58L1481.67 1106.71L1481.97 1105.34L1482.27 1105.77L1482.57 1104.17L1482.87 1104.69L1483.17 1103.09L1483.47 1103.72L1483.77 1103.05L1484.07 1104.4L1484.37 1103.36L1484.67 1104.73L1484.97 1103.85L1485.27 1104.54L1485.57 1103.18L1485.87 1104.07L1486.17 1102.87L1486.47 1103.29L1486.77 1102.46L1487.07 1103.21L1487.37 1102.72L1487.67 1104.94L1487.97 1104.69L1488.27 1106.99L1488.57 1106.24L1488.87 1106.99L1489.17 1105.79L1489.47 1107.23L1489.77 1105.86L1490.07 1107L1490.37 1105.93L1490.67 1106.79L1490.97 1105.77L1491.27 1106.38L1491.57 1105.19L1491.87 1106.19L1492.17 1105.2L1492.47 1105.98L1492.77 1104.55L1493.07 1105.91L1493.37 1104.54L1493.67 1104.89L1493.97 1103.87L1494.27 1104.18L1494.57 1102.99L1494.87 1103.86L1495.17 1102.19L1495.47 1102.52L1495.77 1100.03L1496.07 1099.15L1496.37 1096.04L1496.67 1095.71L1496.97 1093.11L1497.27 1093.18L1497.57 1090.86L1497.87 1090.63L1498.17 1088.49L1498.47 1088.47L1498.77 1086.31L1499.07 1086.11L1499.37 1084.26L1499.67 1084.37L1499.97 1082.78L1500.27 1083.07L1500.57 1081.84L1500.87 1081.93L1501.17 1080.27L1501.47 1079.89L1501.77 1078.14L1502.07 1077.76L1502.37 1075.9L1502.67 1074.67L1502.97 1071.14L1503.27 1069.3L1503.57 1063.35L1503.87 1058.15L1504.17 1051.37L1504.47 1046L1504.77 1039.32L1505.07 1034.08L1505.37 1028.46L1505.67 1024.33L1505.97 1018.51L1506.27 1007.95L1506.57 995.38L1506.87 988.01L1507.17 981.19L1507.47 976.1L1507.77 969.41L1508.07 964.03L1508.37 957.21L1508.67 950.86L1508.97 943.57L1509.27 937.16L1509.57 929.65L1509.87 923.35L1510.17 917.76L1510.47 914.74L1510.77 910.32L1511.07 907.67L1511.37 903.33L1511.67 900.25L1511.97 895.04L1512.27 891.48L1512.57 886.28L1512.87 882.3L1513.17 877.3L1513.47 872.04L1513.77 863.67L1514.07 857.08L1514.37 848.75L1514.67 842.02L1514.97 834.85L1515.27 829.05L1515.57 822.19L1515.87 815.76L1516.17 804.49L1516.47 796.09L1516.77 786.06L1517.07 782.78L1517.37 777.46L1517.67 773.97L1517.97 768.02L1518.27 765.16L1518.57 760.77L1518.87 759.8L1519.17 756.28L1519.47 754.66L1519.77 751.41L1520.07 750.46L1520.37 748.76L1520.67 749.65L1520.97 748.16L1521.27 749.37L1521.57 748.31L1521.87 750.28L1522.17 750.15L1522.47 752.3L1522.77 752.23L1523.07 754.33L1523.37 753.39L1523.67 755.49L1523.97 754.45L1524.27 756.92L1524.57 755.77L1524.87 757.97L1525.17 755.84L1525.47 756.26L1525.77 753.41L1526.07 753.36L1526.37 750.41L1526.67 750.77L1526.97 747.74L1527.27 748.74L1527.57 746.72L1527.87 747.44L1528.17 745.97L1528.47 746.57L1528.77 745.08L1529.07 745.51L1529.37 744.41L1529.67 746.43L1529.97 745.82L1530.27 747.63L1530.57 747.1L1530.87 748.81L1531.17 748.16L1531.47 750.02L1531.77 749.25L1532.07 750.96L1532.37 750.14L1532.67 752.03L1532.97 751.32L1533.27 752.9L1533.57 751.97L1533.87 753.72L1534.17 752.79L1534.47 754.9L1534.77 754.14L1535.07 755.51L1535.37 755.38L1535.67 757.31L1535.97 757.29L1536.27 761.22L1536.57 762.27L1536.87 766.27L1537.17 767.85L1537.47 771.4L1537.77 772.6L1538.07 775.89L1538.37 776.95L1538.67 777.23L1538.97 775.54L1539.27 775.97L1539.57 774.15L1539.87 774.81L1540.17 773.15L1540.47 774.49L1540.77 773.97L1541.07 775.63L1541.37 775.19L1541.67 776.91L1541.97 776.38L1542.27 778.73L1542.57 778.34L1542.87 782.17L1543.17 783.52L1543.47 787.65L1543.77 789.25L1544.07 793.21L1544.37 795.55L1544.67 800.86L1544.97 804.11L1545.27 809.79L1545.57 820.1L1545.87 834.64L1546.17 839.53L1546.47 846.31L1546.77 851.73L1547.07 858.36L1547.37 863.55L1547.67 870.2L1547.97 874.77L1548.27 880.93L1548.57 885.37L1548.87 891.75L1549.17 896.4L1549.47 900.66L1549.77 903.58L1550.07 908.35L1550.37 911.12L1550.67 915.24L1550.97 916.68L1551.27 919.91L1551.57 919.31L1551.87 919.68L1552.17 918.5L1552.47 918.71L1552.77 917.48L1553.07 917.73L1553.37 915.96L1553.67 915.72L1553.97 913.82L1554.27 912.02L1554.57 906.13L1554.87 901.89L1555.17 895.91L1555.47 891.06L1555.77 884.4L1556.07 878.95L1556.37 872.43L1556.67 866.97L1556.97 860.09L1557.27 855.08L1557.57 848.39L1557.87 842.99L1558.17 836.45L1558.47 831.38L1558.77 825.51L1559.07 820.85L1559.37 814.8L1559.67 810.45L1559.97 802.03L1560.27 800.69L1560.57 796.82L1560.87 796.24L1561.17 792.64L1561.47 792.16L1561.77 788.78L1562.07 788.93L1562.37 786.63L1562.67 786.57L1562.97 784.43L1563.27 783.99L1563.57 782.32L1563.87 783.59L1564.17 781.92L1564.47 783.12L1564.77 782.58L1565.07 784.87L1565.37 785.3L1565.67 787.58L1565.97 787.8L1566.27 790.19L1566.57 790.6L1566.87 793.93L1567.17 794.61L1567.47 797.33L1567.77 798.19L1568.07 800.41L1568.37 799.49L1568.67 800.91L1568.97 800.33L1569.27 800.63L1569.57 797.77L1569.87 797.56L1570.17 794.58L1570.47 794.07L1570.77 792.16L1571.07 792.74L1571.37 790.68L1571.67 791.57L1571.97 789.19L1572.27 791.7L1572.57 791.31L1572.87 794.03L1573.17 794.04L1573.47 796.64L1573.77 796.92L1574.07 799.78L1574.37 800.83L1574.67 803.46L1574.97 804.1L1575.27 806.99L1575.57 807.54L1575.87 811.01L1576.17 811.16L1576.47 813.82L1576.77 814.48L1577.07 817.53L1577.37 817.5L1577.67 820.66L1577.97 820.63L1578.27 821.97L1578.57 819.65L1578.87 820.19L1579.17 818.41L1579.47 818.99L1579.77 817.14L1580.07 818.72L1580.37 821.41L1580.67 826.11L1580.97 828.25L1581.27 833.11L1581.57 835.87L1581.87 840.83L1582.17 843.89L1582.47 848.41L1582.77 851.56L1583.07 856.54L1583.37 860.74L1583.67 866.81L1583.97 871.05L1584.27 877.05L1584.57 881.29L1584.87 887.84L1585.17 892.77L1585.47 899.83L1585.77 904.9L1586.07 911.65L1586.37 916.88L1586.67 924.1L1586.97 929.73L1587.27 937.19L1587.57 942.58L1587.87 948.77L1588.17 953.59L1588.47 959.91L1588.77 964.12L1589.07 967.9L1589.37 969.87L1589.67 973.83L1589.97 975.98L1590.27 978.21L1590.57 978.53L1590.87 980.18L1591.17 978.58L1591.47 978.66L1591.77 976.87L1592.07 976.61L1592.37 974.84L1592.67 974.07L1592.97 970.57L1593.27 968.57L1593.57 964.81L1593.87 963.04L1594.17 959.57L1594.47 959.82L1594.77 958.19L1595.07 958.35L1595.37 957.1L1595.67 958.87L1595.97 958.61L1596.27 960.08L1596.57 960.12L1596.87 961.56L1597.17 962.46L1597.47 964.8L1597.77 965.98L1598.07 968.81L1598.37 969.79L1598.67 972.31L1598.97 973.54L1599.27 975.71L1599.57 976.34L1599.87 978.16L1600.17 978.48L1600.47 980.73L1600.77 982.09L1601.07 985.29L1601.37 986.74L1601.67 989.77L1601.97 990.97L1602.27 993.15L1602.57 992.96L1602.87 994.23L1603.17 993.93L1603.47 995.13L1603.77 994.91L1604.07 995.95L1604.37 995.7L1604.67 996.99L1604.97 996.53L1605.27 998.07L1605.57 997.65L1605.87 999.14L1606.17 1000.24L1606.47 1003.18L1606.77 1003.99L1607.07 1007.04L1607.37 1007.47L1607.67 1009.68L1607.97 1010.19L1608.27 1012.3L1608.57 1012.86L1608.87 1015L1609.17 1015.48L1609.47 1018.59L1609.77 1019.67L1610.07 1022.85L1610.37 1024.22L1610.67 1027.5L1610.97 1028.89L1611.27 1032.7L1611.57 1034.45L1611.87 1038.08L1612.17 1039.7L1612.47 1043.57L1612.77 1045.74L1613.07 1049.7L1613.37 1052.01L1613.67 1056.08L1613.97 1058.02L1614.27 1061.9L1614.57 1063.74L1614.87 1067.09L1615.17 1068.81L1615.47 1072.18L1615.77 1072.99L1616.07 1075.48L1616.37 1076.01L1616.67 1078.74L1616.97 1079.15L1617.27 1081.71L1617.57 1082.33L1617.87 1083.95L1618.17 1083.59L1618.47 1085.16L1618.77 1085.16L1619.07 1086.76L1619.37 1086.35L1619.67 1087.64L1619.97 1085.2L1620.27 1084.35L1620.57 1081.94L1620.87 1081.27L1621.17 1076.74L1621.47 1073.17L1621.77 1067.57L1622.07 1063.87L1622.37 1059.27L1622.67 1056.11L1622.97 1051.25L1623.27 1047.89L1623.57 1043.59L1623.87 1040.58L1624.17 1036L1624.47 1033.37L1624.77 1030.17L1625.07 1029L1625.37 1026.34L1625.67 1025.23L1625.97 1023.52L1626.27 1025.22L1626.57 1025.27L1626.87 1027.16L1627.17 1026.94L1627.47 1028.87L1627.77 1025.92L1628.07 1025.21L1628.37 1022.22L1628.67 1021.22L1628.97 1018.78L1629.27 1018.97L1629.57 1016.85L1629.87 1016.84L1630.17 1016.14L1630.47 1019.1L1630.77 1020.08L1631.07 1022.52L1631.37 1024.47L1631.67 1028.78L1631.97 1031.41L1632.27 1036.06L1632.57 1038.69L1632.87 1042.63L1633.17 1044.35L1633.47 1048.44L1633.77 1050.42L1634.07 1053.85L1634.37 1055.91L1634.67 1059.06L1634.97 1060.82L1635.27 1063.87L1635.57 1064.54L1635.87 1067.3L1636.17 1068.31L1636.47 1071.07L1636.77 1071.87L1637.07 1073.75L1637.37 1074.51L1637.67 1076.62L1637.97 1077.13L1638.27 1079.16L1638.57 1079.17L1638.87 1080.43L1639.17 1080.04L1639.47 1081.3L1639.77 1080.9L1640.07 1082.4L1640.37 1081.81L1640.67 1083.59L1640.97 1082.94L1641.27 1084.51L1641.57 1083.69L1641.87 1085.16L1642.17 1084.61L1642.47 1086.2L1642.77 1084.74L1643.07 1085.27L1643.37 1083.52L1643.67 1083.88L1643.97 1082.32L1644.27 1082.68L1644.57 1081.29L1644.87 1079.83L1645.17 1076.42L1645.47 1074.91L1645.77 1071.51L1646.07 1069.13L1646.37 1063.88L1646.67 1061.03L1646.97 1056.13L1647.27 1053.21L1647.57 1047.86L1647.87 1045.25L1648.17 1040.23L1648.47 1037.54L1648.77 1034.21L1649.07 1032.74L1649.37 1029.54L1649.67 1028.64L1649.97 1026.94L1650.27 1027.08L1650.57 1025.5L1650.87 1025.57L1651.17 1023.77L1651.47 1023.51L1651.77 1020.95L1652.07 1020.48L1652.37 1017.76L1652.67 1016.75L1652.97 1014.15L1653.27 1012.78L1653.57 1010.1L1653.87 1008.94L1654.17 1006.32L1654.47 1006.08L1654.77 1003.63L1655.07 1003.51L1655.37 1001.17L1655.67 1003.28L1655.97 1003.65L1656.27 1005.88L1656.57 1006.4L1656.87 1008.67L1657.17 1009.66L1657.47 1013.23L1657.77 1014.9L1658.07 1018.67L1658.37 1020.3L1658.67 1023.79L1658.97 1026.1L1659.27 1030.36L1659.57 1032.74L1659.87 1037.47L1660.17 1039.6L1660.47 1043.9L1660.77 1045.86L1661.07 1050.32L1661.37 1052.41L1661.67 1056.03L1661.97 1058.04L1662.27 1061.54L1662.57 1063.51L1662.87 1066.32L1663.17 1067.9L1663.47 1070.8L1663.77 1072.25L1664.07 1073.92L1664.37 1073.85L1664.67 1075.38L1664.97 1075.39L1665.27 1075.84L1665.57 1074.17L1665.87 1074.42L1666.17 1073.23L1666.47 1073.36L1666.77 1072.05L1667.07 1072.28L1667.37 1070.32L1667.67 1070.16L1667.97 1068.31L1668.27 1068.39L1668.57 1066.57L1668.87 1066.66L1669.17 1064.75L1669.47 1064.49L1669.77 1062.62L1670.07 1062.62L1670.37 1061.04L1670.67 1061.19L1670.97 1059.29L1671.27 1059.25L1671.57 1059.57L1671.87 1061.37L1672.17 1061.63L1672.47 1063.63L1672.77 1064.18L1673.07 1066.3L1673.37 1066.21L1673.67 1068.63L1673.97 1068.93L1674.27 1070.8L1674.57 1071.28L1674.87 1073.37L1675.17 1074.18L1675.47 1076.62L1675.77 1076.98L1676.07 1079.63L1676.37 1080.08L1676.67 1081.58L1676.97 1081.49L1677.27 1083.27L1677.57 1083.05L1677.87 1084.86L1678.17 1084.84L1678.47 1086.06L1678.77 1085L1679.07 1085.75L1679.37 1084.5L1679.67 1085.43L1679.97 1084.43L1680.27 1085L1680.57 1083.66L1680.87 1084.6L1681.17 1082.23L1681.47 1081.97L1681.77 1080.09L1682.07 1079.6L1682.37 1077.7L1682.67 1077.31L1682.97 1074.85L1683.27 1073.01L1683.57 1069.03L1683.87 1066.66L1684.17 1062.93L1684.47 1060.99L1684.77 1055.81L1685.07 1051.37L1685.37 1045.58L1685.67 1041.69L1685.97 1035.65L1686.27 1031.49L1686.57 1025.44L1686.87 1021.7L1687.17 1015.55L1687.47 1011.6L1687.77 1005.7L1688.07 1001.5L1688.37 995.65L1688.67 993.38L1688.97 989.4L1689.27 986.78L1689.57 982.76L1689.87 980.09L1690.17 979.92L1690.47 985.2L1690.77 988.3L1691.07 993.35L1691.37 996.35L1691.67 1001.29L1691.97 1005.35L1692.27 1011.4L1692.57 1015.39L1692.87 1021.28L1693.17 1025.14L1693.47 1031.31L1693.77 1035.32L1694.07 1041.14L1694.37 1043.82L1694.67 1048.13L1694.97 1050.02L1695.27 1053.8L1695.57 1055.47L1695.87 1058.03L1696.17 1059.23L1696.47 1061.88L1696.77 1062.85L1697.07 1065.46L1697.37 1065.85L1697.67 1067.89L1697.97 1067.98L1698.27 1070.26L1698.57 1070.61L1698.87 1072.56L1699.17 1072.93L1699.47 1074.38L1699.77 1074.35L1700.07 1076.14L1700.37 1076.26L1700.67 1077.68L1700.97 1077.59L1701.27 1079.5L1701.57 1079.4L1701.87 1080.64L1702.17 1080.24L1702.47 1081.87L1702.77 1081.35L1703.07 1082.73L1703.37 1081.91L1703.67 1083.55L1703.97 1083.18L1704.27 1084.21L1704.57 1083.91L1704.87 1085.09L1705.17 1084.62L1705.47 1085.54L1705.77 1085.09L1706.07 1085.93L1706.37 1085.03L1706.67 1086.3L1706.97 1085.5L1707.27 1086.79L1707.57 1085.88L1707.87 1087.13L1708.17 1086.3L1708.47 1087.13L1708.77 1085.92L1709.07 1086.73L1709.37 1085.8L1709.67 1086.42L1709.97 1085.31L1710.27 1086.22L1710.57 1085.05L1710.87 1085.85L1711.17 1084.81L1711.47 1085.51L1711.77 1084.47L1712.07 1085.16L1712.37 1083.73L1712.67 1084.26L1712.97 1083.06L1713.27 1083.74L1713.57 1082.44L1713.87 1083.13L1714.17 1082.22L1714.47 1082.83L1714.77 1081.63L1715.07 1081.97L1715.37 1080.48L1715.67 1080.89L1715.97 1079.04L1716.27 1079.58L1716.57 1078.06L1716.87 1078.42L1717.17 1076.94L1717.47 1077.2L1717.77 1075.74L1718.07 1076.01L1718.37 1074.08L1718.67 1074.53L1718.97 1072.75L1719.27 1072.63L1719.57 1070.75L1719.87 1071.09L1720.17 1069.14L1720.47 1069.39L1720.77 1067.1L1721.07 1066.66L1721.37 1064.45L1721.67 1064.26L1721.97 1061.78L1722.27 1061.55L1722.57 1059.18L1722.87 1058.86L1723.17 1056.73L1723.47 1056.37L1723.77 1053.93L1724.07 1053.4L1724.37 1051.15L1724.67 1050.74L1724.97 1047.7L1725.27 1046.2L1725.57 1043.11L1725.87 1041.76L1726.17 1038.3L1726.47 1037.03L1726.77 1033.53L1727.07 1032.16L1727.37 1029.14L1727.67 1028.31L1727.97 1026.88L1728.27 1026.85L1728.57 1025.01L1728.87 1025.32L1729.17 1023.83L1729.47 1024.18L1729.77 1023.08L1730.07 1023.92L1730.37 1022.36L1730.67 1022.93L1730.97 1021.82L1731.27 1022.7L1731.57 1021.36L1731.87 1021.14L1732.17 1018.47L1732.47 1018.32L1732.77 1015.62L1733.07 1015.08L1733.37 1012.46L1733.67 1011.39L1733.97 1007.91L1734.27 1006.77L1734.57 1003.79L1734.87 1002.21L1735.17 999.28L1735.47 997.73L1735.77 994.8L1736.07 993.52L1736.37 990.17L1736.67 988.75L1736.97 985.92L1737.27 984.98L1737.57 982.08L1737.87 980.86L1738.17 974.03L1738.47 970.07L1738.77 966.08L1739.07 964.03L1739.37 960.03L1739.67 957.48L1739.97 952.26L1740.27 948.45L1740.57 942.94L1740.87 939.46L1741.17 933.99L1741.47 930.44L1741.77 924.99L1742.07 921.69L1742.37 917.37L1742.67 915.3L1742.97 911.44L1743.27 909.59L1743.57 905.71L1743.87 903.37L1744.17 899.75L1744.47 894.47L1744.77 887.73L1745.07 882.57L1745.37 875.73L1745.67 870.22L1745.97 863.45L1746.27 858.43L1746.57 851.68L1746.87 846.59L1747.17 839.5L1747.47 834.45L1747.77 827.55L1748.07 822.56L1748.37 815.52L1748.67 810.25L1748.97 803.48L1749.27 798.04L1749.57 790.07L1749.87 783.51L1750.17 775.51L1750.47 769.22L1750.77 761.19L1751.07 755.9L1751.37 749.08L1751.67 743.68L1751.97 736.9L1752.27 731.64L1752.57 724.42L1752.87 716.71L1753.17 707.21L1753.47 699.45L1753.77 689.62L1754.07 680.29L1754.37 669.77L1754.67 660.52L1754.97 651.02L1755.27 643.22L1755.57 634.01L1755.87 626.49L1756.17 619.29L1756.47 613.43L1756.77 606.15L1757.07 601.13L1757.37 595.23L1757.67 591.26L1757.97 585.42L1758.27 581.49L1758.57 576.62L1758.87 573.97L1759.17 569.75L1759.47 566.96L1759.77 562.44L1760.07 558.11L1760.37 546.28L1760.67 536.23L1760.97 524.71L1761.27 514.91L1761.57 503.37L1761.87 496.22L1762.17 489.62L1762.47 484.37L1762.77 477.58L1763.07 472.52L1763.37 465.4L1763.67 460.37L1763.97 453.61L1764.27 448.56L1764.57 441.48L1764.87 436.28L1765.17 429.75L1765.47 424.53L1765.77 417.64L1766.07 412.32L1766.37 405.49L1766.67 400.56L1766.97 393.43L1767.27 388.39L1767.57 381.47L1767.87 376.35L1768.17 369.63L1768.47 363.38L1768.77 353.99L1769.07 346.29L1769.37 336.69L1769.67 329L1769.97 319.74L1770.27 311.7L1770.57 302.48L1770.87 293.64L1771.17 282.98L1771.47 273.62L1771.77 262.74L1772.07 253.84L1772.37 243.06L1772.67 233.77L1772.97 222.09L1773.27 211.99L1773.57 200.61L1773.87 190.41L1774.17 178.86L1774.47 172.78L1774.77 170.56L1775.07 169.7L1775.37 166.99L1775.67 166.25L1775.97 163.47L1776.27 162.78L1776.57 160.01L1776.87 159.27L1777.17 156.33L1777.47 155.21L1777.77 152.36L1778.07 151.19L1778.37 148.64L1778.67 147.57L1778.97 144.77L1779.27 144.08L1779.57 141.29L1779.87 139.3L1780.17 135.3L1780.47 133.15L1780.77 129.32L1781.07 125.55L1781.37 119.87L1781.67 114.52L1781.97 109.23L1782.27 110.54L1782.57 112.58L1782.87 115.8L1783.17 117.56L1783.47 121.89L1783.77 124.11L1784.07 128.38L1784.17 129.17" stroke="#000000"/>
<path d="M1780.4 114.6H1785.2" stroke="#ff0000" stroke-width="4" stroke-linecap="butt"/>
</g>
<text transform="translate(1032.5 87.3) scale(1 1)" font-size="50" text-anchor="middle">Peak field sums for NZ003N_20260417_062926_978300</text>
<text transform="translate(267.78 1328.75) rotate(-30) scale(1 1.03)" font-size="41.67">04-17 07</text>
<text transform="translate(398.69 1328.75) rotate(-30) scale(1 1.03)" font-size="41.67">04-17 08</text>
<text transform="translate(529.6 1328.75) rotate(-30) scale(1 1.03)" font-size="41.67">04-17 09</text>
<text transform="translate(660.51 1328.75) rotate(-30) scale(1 1.03)" font-size="41.67">04-17 10</text>
<text transform="translate(791.42 1328.75) rotate(-30) scale(1 1.03)" font-size="41.67">04-17 11</text>
<text transform="translate(922.32 1328.75) rotate(-30) scale(1 1.03)" font-size="41.67">04-17 12</text>
<text transform="translate(1053.23 1328.75) rotate(-30) scale(1 1.03)" font-size="41.67">04-17 13</text>
<text transform="translate(1184.14 1328.75) rotate(-30) scale(1 1.03)" font-size="41.67">04-17 14</text>
<text transform="translate(1315.05 1328.75) rotate(-30) scale(1 1.03)" font-size="41.67">04-17 15</text>
<text transform="translate(1445.96 1328.75) rotate(-30) scale(1 1.03)" font-size="41.67">04-17 16</text>
<text transform="translate(1576.87 1328.75) rotate(-30) scale(1 1.03)" font-size="41.67">04-17 17</text>
<text transform="translate(1707.78 1328.75) rotate(-30) scale(1 1.03)" font-size="41.67">04-17 18</text>
<text transform="translate(1032.5 1386.59) scale(1 1.03)" font-size="41.67" text-anchor="middle">Time</text>
<text transform="translate(82.23 646.5) rotate(-90) scale(1 1.03)" font-size="41.67" text-anchor="middle">ADU</text>
<text transform="translate(179.1 587.16) scale(1 1.03)" font-size="41.67">1</text><text transform="translate(205.21 587.16) scale(1 1.03)" font-size="41.67">0</text><text transform="translate(232.22 571.21)" font-size="29.17">8</text>
<text transform="translate(109.27 1054.06) scale(1 1.03)" font-size="41.67">6</text><text transform="translate(143.09 1054.06) scale(1 1.03)" font-size="41.67">×</text><text transform="translate(185.72 1054.06) scale(1 1.03)" font-size="41.67">1</text><text transform="translate(212.63 1054.06) scale(1 1.03)" font-size="41.67">0</text><text transform="translate(238.74 1038.11)" font-size="29.17">7</text>
<rect x="1443" y="133" width="320.9" height="137.9" rx="8.33" ry="8.33" fill="#ffffff" stroke="#cccccc" stroke-width="4.17" opacity="0.8"/>
<path d="M1460.3 168h82.7" stroke="#ff0000" stroke-width="2.08" fill="none" stroke-linecap="square"/>
<path d="M1460.3 230.9h82.7" stroke="#000000" stroke-width="2.08" fill="none" stroke-linecap="square"/>
<text transform="translate(1577.2 183.4) scale(1 1.03)" font-size="41.67">Peak</text>
<text transform="translate(1577.2 244.5) scale(1 1.03)" font-size="41.67">Average</text>
</svg></body></html>
